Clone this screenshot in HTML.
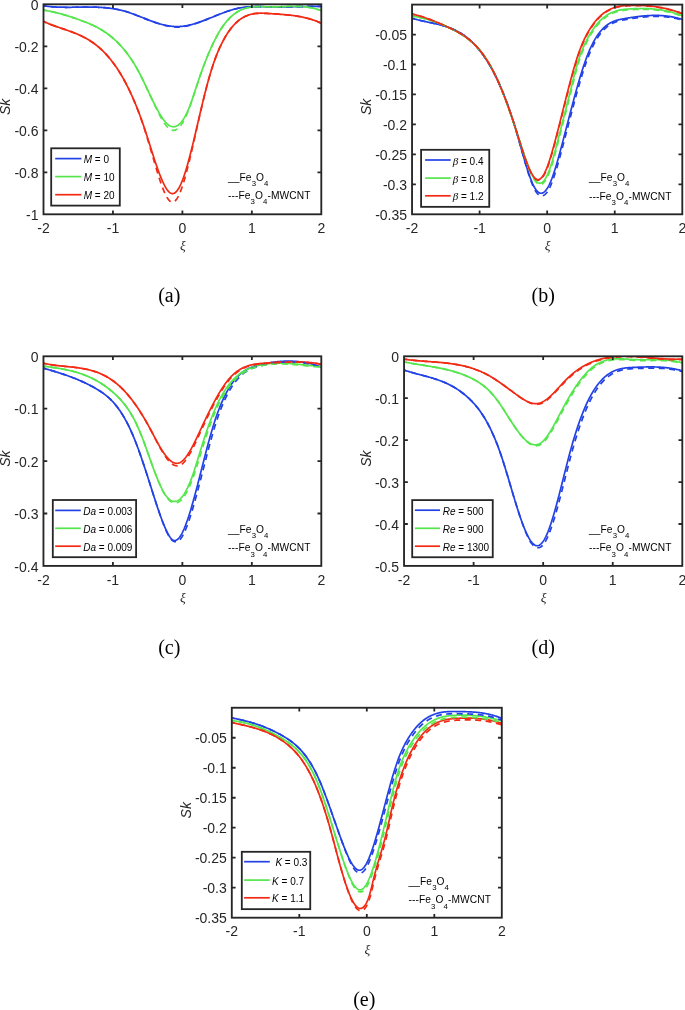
<!DOCTYPE html>
<html><head><meta charset="utf-8"><style>
html,body{margin:0;padding:0;background:#fff;}
body{width:685px;height:1010px;overflow:hidden;}
svg{display:block;will-change:transform;}
</style></head><body>
<svg width="685" height="1010" viewBox="0 0 685 1010">
<rect x="0" y="0" width="685" height="1010" fill="#fff"/>
<clipPath id="clipa"><rect x="43.50" y="4.30" width="277.80" height="210.00"/></clipPath>
<g clip-path="url(#clipa)" fill="none" stroke-width="1.7" stroke-linejoin="round">
<path d="M40.50,5.80 L41.17,5.80 L41.83,5.80 L42.50,5.80 L43.16,5.80 L43.83,5.85 L44.49,5.94 L45.16,6.03 L45.82,6.12 L46.49,6.20 L47.15,6.28 L47.82,6.36 L48.49,6.43 L49.15,6.50 L49.82,6.56 L50.48,6.63 L51.15,6.68 L51.81,6.74 L52.48,6.79 L53.14,6.84 L53.81,6.88 L54.48,6.93 L55.14,6.97 L55.81,7.00 L56.47,7.04 L57.14,7.07 L57.80,7.10 L58.47,7.13 L59.13,7.15 L59.80,7.17 L60.46,7.19 L61.13,7.21 L61.80,7.23 L62.46,7.24 L63.13,7.25 L63.79,7.26 L64.46,7.27 L65.12,7.28 L65.79,7.28 L66.45,7.29 L67.12,7.29 L67.79,7.29 L68.45,7.29 L69.12,7.29 L69.78,7.28 L70.45,7.28 L71.11,7.28 L71.78,7.27 L72.44,7.26 L73.11,7.26 L73.77,7.25 L74.44,7.24 L75.11,7.23 L75.77,7.23 L76.44,7.22 L77.10,7.21 L77.77,7.20 L78.43,7.19 L79.10,7.18 L79.76,7.17 L80.43,7.16 L81.10,7.15 L81.76,7.15 L82.43,7.14 L83.09,7.13 L83.76,7.12 L84.42,7.12 L85.09,7.11 L85.75,7.11 L86.42,7.11 L87.08,7.10 L87.75,7.10 L88.42,7.10 L89.08,7.10 L89.75,7.11 L90.41,7.11 L91.08,7.12 L91.74,7.12 L92.41,7.13 L93.07,7.14 L93.74,7.15 L94.40,7.17 L95.07,7.18 L95.74,7.20 L96.40,7.22 L97.07,7.25 L97.73,7.27 L98.40,7.30 L99.06,7.33 L99.73,7.36 L100.39,7.40 L101.06,7.43 L101.73,7.47 L102.39,7.52 L103.06,7.56 L103.72,7.61 L104.39,7.67 L105.05,7.72 L105.72,7.78 L106.38,7.84 L107.05,7.91 L107.71,7.98 L108.38,8.05 L109.05,8.13 L109.71,8.21 L110.38,8.29 L111.04,8.38 L111.71,8.47 L112.37,8.57 L113.04,8.67 L113.70,8.77 L114.37,8.88 L115.04,8.99 L115.70,9.11 L116.37,9.23 L117.03,9.36 L117.70,9.49 L118.36,9.63 L119.03,9.77 L119.69,9.92 L120.36,10.07 L121.02,10.22 L121.69,10.39 L122.36,10.55 L123.02,10.72 L123.69,10.90 L124.35,11.09 L125.02,11.27 L125.68,11.47 L126.35,11.67 L127.01,11.87 L127.68,12.08 L128.35,12.30 L129.01,12.52 L129.68,12.74 L130.34,12.97 L131.01,13.20 L131.67,13.44 L132.34,13.68 L133.00,13.92 L133.67,14.17 L134.33,14.42 L135.00,14.67 L135.67,14.92 L136.33,15.18 L137.00,15.43 L137.66,15.69 L138.33,15.96 L138.99,16.22 L139.66,16.48 L140.32,16.75 L140.99,17.01 L141.65,17.28 L142.32,17.54 L142.99,17.81 L143.65,18.07 L144.32,18.34 L144.98,18.60 L145.65,18.87 L146.31,19.13 L146.98,19.39 L147.64,19.65 L148.31,19.91 L148.98,20.17 L149.64,20.42 L150.31,20.67 L150.97,20.92 L151.64,21.17 L152.30,21.41 L152.97,21.65 L153.63,21.89 L154.30,22.12 L154.96,22.35 L155.63,22.57 L156.30,22.79 L156.96,23.01 L157.63,23.22 L158.29,23.43 L158.96,23.63 L159.62,23.82 L160.29,24.01 L160.95,24.20 L161.62,24.38 L162.29,24.55 L162.95,24.72 L163.62,24.88 L164.28,25.03 L164.95,25.18 L165.61,25.32 L166.28,25.46 L166.94,25.58 L167.61,25.70 L168.27,25.82 L168.94,25.92 L169.61,26.02 L170.27,26.11 L170.94,26.20 L171.60,26.27 L172.27,26.34 L172.93,26.40 L173.60,26.45 L174.26,26.49 L174.93,26.53 L175.60,26.55 L176.26,26.57 L176.93,26.58 L177.59,26.58 L178.26,26.56 L178.92,26.54 L179.59,26.51 L180.25,26.47 L180.92,26.43 L181.58,26.37 L182.25,26.30 L182.92,26.23 L183.58,26.14 L184.25,26.05 L184.91,25.95 L185.58,25.85 L186.24,25.73 L186.91,25.61 L187.57,25.48 L188.24,25.34 L188.90,25.20 L189.57,25.05 L190.24,24.89 L190.90,24.73 L191.57,24.56 L192.23,24.38 L192.90,24.20 L193.56,24.01 L194.23,23.82 L194.89,23.62 L195.56,23.42 L196.23,23.21 L196.89,22.99 L197.56,22.78 L198.22,22.55 L198.89,22.33 L199.55,22.10 L200.22,21.86 L200.88,21.62 L201.55,21.38 L202.21,21.14 L202.88,20.89 L203.55,20.64 L204.21,20.39 L204.88,20.13 L205.54,19.87 L206.21,19.61 L206.87,19.35 L207.54,19.09 L208.20,18.82 L208.87,18.56 L209.54,18.29 L210.20,18.02 L210.87,17.75 L211.53,17.48 L212.20,17.21 L212.86,16.94 L213.53,16.67 L214.19,16.39 L214.86,16.12 L215.52,15.85 L216.19,15.58 L216.86,15.32 L217.52,15.05 L218.19,14.78 L218.85,14.52 L219.52,14.25 L220.18,13.99 L220.85,13.73 L221.51,13.47 L222.18,13.22 L222.85,12.97 L223.51,12.72 L224.18,12.47 L224.84,12.22 L225.51,11.98 L226.17,11.75 L226.84,11.51 L227.50,11.28 L228.17,11.06 L228.83,10.84 L229.50,10.62 L230.17,10.41 L230.83,10.20 L231.50,10.00 L232.16,9.80 L232.83,9.61 L233.49,9.42 L234.16,9.24 L234.82,9.07 L235.49,8.90 L236.15,8.73 L236.82,8.58 L237.49,8.43 L238.15,8.29 L238.82,8.15 L239.48,8.02 L240.15,7.90 L240.81,7.79 L241.48,7.68 L242.14,7.58 L242.81,7.48 L243.48,7.39 L244.14,7.31 L244.81,7.23 L245.47,7.16 L246.14,7.09 L246.80,7.03 L247.47,6.98 L248.13,6.93 L248.80,6.88 L249.46,6.84 L250.13,6.80 L250.80,6.77 L251.46,6.74 L252.13,6.71 L252.79,6.69 L253.46,6.68 L254.12,6.66 L254.79,6.65 L255.45,6.64 L256.12,6.64 L256.79,6.63 L257.45,6.63 L258.12,6.63 L258.78,6.64 L259.45,6.64 L260.11,6.65 L260.78,6.66 L261.44,6.67 L262.11,6.68 L262.77,6.70 L263.44,6.71 L264.11,6.73 L264.77,6.74 L265.44,6.76 L266.10,6.77 L266.77,6.79 L267.43,6.80 L268.10,6.82 L268.76,6.83 L269.43,6.85 L270.10,6.86 L270.76,6.87 L271.43,6.89 L272.09,6.90 L272.76,6.90 L273.42,6.91 L274.09,6.92 L274.75,6.92 L275.42,6.93 L276.08,6.93 L276.75,6.93 L277.42,6.94 L278.08,6.94 L278.75,6.94 L279.41,6.93 L280.08,6.93 L280.74,6.93 L281.41,6.93 L282.07,6.92 L282.74,6.92 L283.40,6.91 L284.07,6.90 L284.74,6.90 L285.40,6.89 L286.07,6.88 L286.73,6.87 L287.40,6.86 L288.06,6.85 L288.73,6.84 L289.39,6.83 L290.06,6.82 L290.73,6.81 L291.39,6.80 L292.06,6.79 L292.72,6.77 L293.39,6.76 L294.05,6.75 L294.72,6.73 L295.38,6.72 L296.05,6.71 L296.71,6.69 L297.38,6.68 L298.05,6.66 L298.71,6.65 L299.38,6.63 L300.04,6.62 L300.71,6.61 L301.37,6.59 L302.04,6.58 L302.70,6.56 L303.37,6.55 L304.04,6.54 L304.70,6.52 L305.37,6.51 L306.03,6.50 L306.70,6.48 L307.36,6.47 L308.03,6.46 L308.69,6.45 L309.36,6.43 L310.02,6.42 L310.69,6.41 L311.36,6.40 L312.02,6.39 L312.69,6.38 L313.35,6.37 L314.02,6.37 L314.68,6.36 L315.35,6.35 L316.01,6.35 L316.68,6.34 L317.35,6.33 L318.01,6.33 L318.68,6.33 L319.34,6.32 L320.01,6.32 L320.67,6.32 L321.34,6.32 L322.00,6.32 L322.67,6.32 L323.33,6.32 L324.00,6.32" stroke="#2342e6"/>
<path d="M40.50,10.08 L41.17,10.08 L41.83,10.08 L42.50,10.08 L43.16,10.08 L43.83,10.14 L44.49,10.25 L45.16,10.36 L45.82,10.48 L46.49,10.60 L47.15,10.72 L47.82,10.85 L48.49,10.98 L49.15,11.11 L49.82,11.25 L50.48,11.39 L51.15,11.53 L51.81,11.67 L52.48,11.82 L53.14,11.97 L53.81,12.12 L54.48,12.28 L55.14,12.44 L55.81,12.60 L56.47,12.76 L57.14,12.93 L57.80,13.10 L58.47,13.27 L59.13,13.44 L59.80,13.62 L60.46,13.80 L61.13,13.98 L61.80,14.17 L62.46,14.35 L63.13,14.54 L63.79,14.73 L64.46,14.93 L65.12,15.12 L65.79,15.32 L66.45,15.52 L67.12,15.73 L67.79,15.93 L68.45,16.14 L69.12,16.35 L69.78,16.56 L70.45,16.77 L71.11,16.99 L71.78,17.20 L72.44,17.42 L73.11,17.64 L73.77,17.87 L74.44,18.09 L75.11,18.32 L75.77,18.55 L76.44,18.78 L77.10,19.01 L77.77,19.24 L78.43,19.48 L79.10,19.72 L79.76,19.96 L80.43,20.20 L81.10,20.44 L81.76,20.68 L82.43,20.93 L83.09,21.18 L83.76,21.43 L84.42,21.69 L85.09,21.94 L85.75,22.21 L86.42,22.47 L87.08,22.74 L87.75,23.01 L88.42,23.29 L89.08,23.57 L89.75,23.85 L90.41,24.14 L91.08,24.44 L91.74,24.74 L92.41,25.04 L93.07,25.35 L93.74,25.67 L94.40,25.99 L95.07,26.32 L95.74,26.66 L96.40,27.00 L97.07,27.35 L97.73,27.70 L98.40,28.06 L99.06,28.43 L99.73,28.81 L100.39,29.19 L101.06,29.59 L101.73,29.99 L102.39,30.39 L103.06,30.81 L103.72,31.24 L104.39,31.67 L105.05,32.12 L105.72,32.57 L106.38,33.03 L107.05,33.51 L107.71,33.99 L108.38,34.48 L109.05,34.98 L109.71,35.50 L110.38,36.02 L111.04,36.56 L111.71,37.10 L112.37,37.66 L113.04,38.23 L113.70,38.81 L114.37,39.40 L115.04,40.01 L115.70,40.62 L116.37,41.25 L117.03,41.89 L117.70,42.55 L118.36,43.22 L119.03,43.90 L119.69,44.60 L120.36,45.31 L121.02,46.03 L121.69,46.77 L122.36,47.53 L123.02,48.30 L123.69,49.08 L124.35,49.89 L125.02,50.70 L125.68,51.54 L126.35,52.39 L127.01,53.26 L127.68,54.15 L128.35,55.06 L129.01,55.98 L129.68,56.92 L130.34,57.89 L131.01,58.87 L131.67,59.87 L132.34,60.89 L133.00,61.93 L133.67,62.99 L134.33,64.07 L135.00,65.18 L135.67,66.30 L136.33,67.45 L137.00,68.62 L137.66,69.81 L138.33,71.02 L138.99,72.26 L139.66,73.52 L140.32,74.80 L140.99,76.11 L141.65,77.43 L142.32,78.77 L142.99,80.13 L143.65,81.50 L144.32,82.89 L144.98,84.28 L145.65,85.68 L146.31,87.09 L146.98,88.50 L147.64,89.92 L148.31,91.33 L148.98,92.75 L149.64,94.16 L150.31,95.57 L150.97,96.97 L151.64,98.36 L152.30,99.74 L152.97,101.11 L153.63,102.46 L154.30,103.80 L154.96,105.12 L155.63,106.42 L156.30,107.70 L156.96,108.96 L157.63,110.19 L158.29,111.39 L158.96,112.57 L159.62,113.71 L160.29,114.82 L160.95,115.89 L161.62,116.93 L162.29,117.92 L162.95,118.88 L163.62,119.79 L164.28,120.65 L164.95,121.47 L165.61,122.23 L166.28,122.94 L166.94,123.60 L167.61,124.20 L168.27,124.74 L168.94,125.22 L169.61,125.64 L170.27,125.99 L170.94,126.27 L171.60,126.49 L172.27,126.64 L172.93,126.72 L173.60,126.74 L174.26,126.69 L174.93,126.57 L175.60,126.39 L176.26,126.14 L176.93,125.82 L177.59,125.44 L178.26,124.99 L178.92,124.47 L179.59,123.89 L180.25,123.24 L180.92,122.51 L181.58,121.72 L182.25,120.86 L182.92,119.92 L183.58,118.92 L184.25,117.84 L184.91,116.69 L185.58,115.47 L186.24,114.17 L186.91,112.80 L187.57,111.36 L188.24,109.84 L188.90,108.25 L189.57,106.58 L190.24,104.84 L190.90,103.03 L191.57,101.17 L192.23,99.26 L192.90,97.31 L193.56,95.33 L194.23,93.32 L194.89,91.30 L195.56,89.27 L196.23,87.25 L196.89,85.22 L197.56,83.22 L198.22,81.24 L198.89,79.28 L199.55,77.34 L200.22,75.43 L200.88,73.54 L201.55,71.68 L202.21,69.84 L202.88,68.02 L203.55,66.23 L204.21,64.47 L204.88,62.73 L205.54,61.02 L206.21,59.33 L206.87,57.67 L207.54,56.04 L208.20,54.43 L208.87,52.85 L209.54,51.29 L210.20,49.77 L210.87,48.27 L211.53,46.80 L212.20,45.35 L212.86,43.94 L213.53,42.55 L214.19,41.19 L214.86,39.87 L215.52,38.57 L216.19,37.29 L216.86,36.05 L217.52,34.84 L218.19,33.66 L218.85,32.51 L219.52,31.39 L220.18,30.30 L220.85,29.24 L221.51,28.21 L222.18,27.21 L222.85,26.25 L223.51,25.31 L224.18,24.40 L224.84,23.53 L225.51,22.68 L226.17,21.86 L226.84,21.06 L227.50,20.30 L228.17,19.56 L228.83,18.85 L229.50,18.16 L230.17,17.50 L230.83,16.87 L231.50,16.26 L232.16,15.67 L232.83,15.11 L233.49,14.57 L234.16,14.05 L234.82,13.56 L235.49,13.08 L236.15,12.63 L236.82,12.20 L237.49,11.79 L238.15,11.40 L238.82,11.03 L239.48,10.68 L240.15,10.34 L240.81,10.03 L241.48,9.73 L242.14,9.45 L242.81,9.18 L243.48,8.93 L244.14,8.70 L244.81,8.48 L245.47,8.28 L246.14,8.09 L246.80,7.92 L247.47,7.76 L248.13,7.61 L248.80,7.47 L249.46,7.35 L250.13,7.23 L250.80,7.13 L251.46,7.04 L252.13,6.96 L252.79,6.89 L253.46,6.83 L254.12,6.77 L254.79,6.73 L255.45,6.69 L256.12,6.66 L256.79,6.63 L257.45,6.62 L258.12,6.60 L258.78,6.60 L259.45,6.60 L260.11,6.60 L260.78,6.61 L261.44,6.62 L262.11,6.63 L262.77,6.65 L263.44,6.66 L264.11,6.68 L264.77,6.70 L265.44,6.73 L266.10,6.75 L266.77,6.77 L267.43,6.79 L268.10,6.81 L268.76,6.83 L269.43,6.84 L270.10,6.86 L270.76,6.87 L271.43,6.87 L272.09,6.88 L272.76,6.88 L273.42,6.87 L274.09,6.87 L274.75,6.86 L275.42,6.85 L276.08,6.84 L276.75,6.82 L277.42,6.81 L278.08,6.79 L278.75,6.77 L279.41,6.75 L280.08,6.73 L280.74,6.70 L281.41,6.68 L282.07,6.66 L282.74,6.63 L283.40,6.61 L284.07,6.58 L284.74,6.56 L285.40,6.54 L286.07,6.51 L286.73,6.49 L287.40,6.47 L288.06,6.45 L288.73,6.43 L289.39,6.41 L290.06,6.39 L290.73,6.38 L291.39,6.36 L292.06,6.35 L292.72,6.34 L293.39,6.34 L294.05,6.33 L294.72,6.33 L295.38,6.34 L296.05,6.34 L296.71,6.35 L297.38,6.37 L298.05,6.38 L298.71,6.40 L299.38,6.43 L300.04,6.46 L300.71,6.49 L301.37,6.53 L302.04,6.57 L302.70,6.62 L303.37,6.67 L304.04,6.73 L304.70,6.80 L305.37,6.87 L306.03,6.94 L306.70,7.03 L307.36,7.12 L308.03,7.21 L308.69,7.31 L309.36,7.42 L310.02,7.54 L310.69,7.66 L311.36,7.79 L312.02,7.93 L312.69,8.08 L313.35,8.23 L314.02,8.39 L314.68,8.56 L315.35,8.74 L316.01,8.93 L316.68,9.12 L317.35,9.33 L318.01,9.54 L318.68,9.77 L319.34,10.00 L320.01,10.25 L320.67,10.50 L321.34,10.63 L322.00,10.63 L322.67,10.63 L323.33,10.63 L324.00,10.63" stroke="#55e64c"/>
<path d="M40.50,21.41 L41.17,21.41 L41.83,21.41 L42.50,21.41 L43.16,21.41 L43.83,21.56 L44.49,21.87 L45.16,22.17 L45.82,22.47 L46.49,22.76 L47.15,23.05 L47.82,23.33 L48.49,23.60 L49.15,23.88 L49.82,24.14 L50.48,24.41 L51.15,24.66 L51.81,24.92 L52.48,25.17 L53.14,25.42 L53.81,25.66 L54.48,25.90 L55.14,26.14 L55.81,26.38 L56.47,26.61 L57.14,26.85 L57.80,27.08 L58.47,27.31 L59.13,27.53 L59.80,27.76 L60.46,27.99 L61.13,28.21 L61.80,28.44 L62.46,28.66 L63.13,28.89 L63.79,29.11 L64.46,29.34 L65.12,29.56 L65.79,29.79 L66.45,30.02 L67.12,30.25 L67.79,30.48 L68.45,30.72 L69.12,30.95 L69.78,31.19 L70.45,31.43 L71.11,31.67 L71.78,31.92 L72.44,32.17 L73.11,32.42 L73.77,32.68 L74.44,32.94 L75.11,33.21 L75.77,33.48 L76.44,33.75 L77.10,34.03 L77.77,34.31 L78.43,34.60 L79.10,34.90 L79.76,35.20 L80.43,35.51 L81.10,35.82 L81.76,36.14 L82.43,36.46 L83.09,36.80 L83.76,37.14 L84.42,37.49 L85.09,37.84 L85.75,38.20 L86.42,38.57 L87.08,38.95 L87.75,39.34 L88.42,39.74 L89.08,40.14 L89.75,40.56 L90.41,40.98 L91.08,41.42 L91.74,41.86 L92.41,42.32 L93.07,42.78 L93.74,43.26 L94.40,43.74 L95.07,44.24 L95.74,44.75 L96.40,45.27 L97.07,45.80 L97.73,46.34 L98.40,46.89 L99.06,47.46 L99.73,48.04 L100.39,48.64 L101.06,49.24 L101.73,49.86 L102.39,50.50 L103.06,51.14 L103.72,51.80 L104.39,52.48 L105.05,53.17 L105.72,53.87 L106.38,54.59 L107.05,55.33 L107.71,56.08 L108.38,56.84 L109.05,57.62 L109.71,58.42 L110.38,59.23 L111.04,60.06 L111.71,60.91 L112.37,61.77 L113.04,62.65 L113.70,63.55 L114.37,64.47 L115.04,65.40 L115.70,66.36 L116.37,67.33 L117.03,68.31 L117.70,69.32 L118.36,70.35 L119.03,71.39 L119.69,72.46 L120.36,73.55 L121.02,74.65 L121.69,75.78 L122.36,76.92 L123.02,78.09 L123.69,79.28 L124.35,80.48 L125.02,81.71 L125.68,82.96 L126.35,84.24 L127.01,85.53 L127.68,86.85 L128.35,88.19 L129.01,89.55 L129.68,90.94 L130.34,92.35 L131.01,93.78 L131.67,95.23 L132.34,96.71 L133.00,98.22 L133.67,99.75 L134.33,101.31 L135.00,102.89 L135.67,104.49 L136.33,106.12 L137.00,107.78 L137.66,109.47 L138.33,111.18 L138.99,112.92 L139.66,114.69 L140.32,116.48 L140.99,118.31 L141.65,120.16 L142.32,122.04 L142.99,123.95 L143.65,125.88 L144.32,127.85 L144.98,129.85 L145.65,131.87 L146.31,133.92 L146.98,135.98 L147.64,138.06 L148.31,140.15 L148.98,142.25 L149.64,144.36 L150.31,146.46 L150.97,148.57 L151.64,150.67 L152.30,152.76 L152.97,154.84 L153.63,156.90 L154.30,158.94 L154.96,160.97 L155.63,162.96 L156.30,164.93 L156.96,166.86 L157.63,168.76 L158.29,170.62 L158.96,172.43 L159.62,174.20 L160.29,175.92 L160.95,177.58 L161.62,179.19 L162.29,180.73 L162.95,182.21 L163.62,183.62 L164.28,184.95 L164.95,186.21 L165.61,187.38 L166.28,188.47 L166.94,189.46 L167.61,190.36 L168.27,191.16 L168.94,191.86 L169.61,192.44 L170.27,192.92 L170.94,193.27 L171.60,193.51 L172.27,193.62 L172.93,193.60 L173.60,193.46 L174.26,193.20 L174.93,192.81 L175.60,192.30 L176.26,191.67 L176.93,190.92 L177.59,190.05 L178.26,189.07 L178.92,187.97 L179.59,186.75 L180.25,185.42 L180.92,183.99 L181.58,182.44 L182.25,180.79 L182.92,179.04 L183.58,177.20 L184.25,175.27 L184.91,173.26 L185.58,171.16 L186.24,168.98 L186.91,166.73 L187.57,164.41 L188.24,162.03 L188.90,159.58 L189.57,157.08 L190.24,154.53 L190.90,151.93 L191.57,149.28 L192.23,146.60 L192.90,143.88 L193.56,141.13 L194.23,138.35 L194.89,135.54 L195.56,132.72 L196.23,129.89 L196.89,127.04 L197.56,124.19 L198.22,121.33 L198.89,118.48 L199.55,115.63 L200.22,112.80 L200.88,109.98 L201.55,107.18 L202.21,104.40 L202.88,101.64 L203.55,98.92 L204.21,96.23 L204.88,93.57 L205.54,90.95 L206.21,88.37 L206.87,85.83 L207.54,83.35 L208.20,80.91 L208.87,78.52 L209.54,76.19 L210.20,73.91 L210.87,71.70 L211.53,69.55 L212.20,67.46 L212.86,65.43 L213.53,63.46 L214.19,61.54 L214.86,59.69 L215.52,57.88 L216.19,56.13 L216.86,54.43 L217.52,52.79 L218.19,51.19 L218.85,49.64 L219.52,48.14 L220.18,46.68 L220.85,45.27 L221.51,43.90 L222.18,42.57 L222.85,41.28 L223.51,40.04 L224.18,38.83 L224.84,37.65 L225.51,36.51 L226.17,35.41 L226.84,34.34 L227.50,33.31 L228.17,32.31 L228.83,31.34 L229.50,30.40 L230.17,29.50 L230.83,28.63 L231.50,27.78 L232.16,26.97 L232.83,26.19 L233.49,25.43 L234.16,24.71 L234.82,24.01 L235.49,23.34 L236.15,22.70 L236.82,22.09 L237.49,21.50 L238.15,20.93 L238.82,20.40 L239.48,19.88 L240.15,19.39 L240.81,18.92 L241.48,18.48 L242.14,18.06 L242.81,17.66 L243.48,17.28 L244.14,16.92 L244.81,16.58 L245.47,16.27 L246.14,15.97 L246.80,15.69 L247.47,15.43 L248.13,15.18 L248.80,14.96 L249.46,14.75 L250.13,14.55 L250.80,14.37 L251.46,14.21 L252.13,14.06 L252.79,13.93 L253.46,13.81 L254.12,13.70 L254.79,13.60 L255.45,13.52 L256.12,13.44 L256.79,13.38 L257.45,13.33 L258.12,13.29 L258.78,13.26 L259.45,13.23 L260.11,13.22 L260.78,13.21 L261.44,13.21 L262.11,13.22 L262.77,13.23 L263.44,13.25 L264.11,13.27 L264.77,13.30 L265.44,13.33 L266.10,13.37 L266.77,13.41 L267.43,13.45 L268.10,13.49 L268.76,13.53 L269.43,13.58 L270.10,13.63 L270.76,13.67 L271.43,13.72 L272.09,13.76 L272.76,13.81 L273.42,13.85 L274.09,13.90 L274.75,13.94 L275.42,13.98 L276.08,14.03 L276.75,14.07 L277.42,14.12 L278.08,14.16 L278.75,14.21 L279.41,14.26 L280.08,14.31 L280.74,14.35 L281.41,14.40 L282.07,14.45 L282.74,14.51 L283.40,14.56 L284.07,14.61 L284.74,14.67 L285.40,14.73 L286.07,14.79 L286.73,14.85 L287.40,14.91 L288.06,14.98 L288.73,15.05 L289.39,15.12 L290.06,15.19 L290.73,15.27 L291.39,15.35 L292.06,15.43 L292.72,15.51 L293.39,15.60 L294.05,15.69 L294.72,15.78 L295.38,15.87 L296.05,15.97 L296.71,16.08 L297.38,16.18 L298.05,16.29 L298.71,16.41 L299.38,16.52 L300.04,16.65 L300.71,16.77 L301.37,16.90 L302.04,17.04 L302.70,17.18 L303.37,17.32 L304.04,17.47 L304.70,17.62 L305.37,17.78 L306.03,17.94 L306.70,18.11 L307.36,18.28 L308.03,18.46 L308.69,18.64 L309.36,18.83 L310.02,19.03 L310.69,19.23 L311.36,19.43 L312.02,19.65 L312.69,19.86 L313.35,20.09 L314.02,20.32 L314.68,20.56 L315.35,20.80 L316.01,21.05 L316.68,21.31 L317.35,21.57 L318.01,21.84 L318.68,22.12 L319.34,22.40 L320.01,22.69 L320.67,22.99 L321.34,23.14 L322.00,23.14 L322.67,23.14 L323.33,23.14 L324.00,23.14" stroke="#f22a14"/>
<path d="M40.50,5.80 L41.17,5.80 L41.83,5.80 L42.50,5.80 L43.16,5.80 L43.83,5.85 L44.49,5.94 L45.16,6.03 L45.82,6.12 L46.49,6.20 L47.15,6.28 L47.82,6.36 L48.49,6.43 L49.15,6.50 L49.82,6.56 L50.48,6.63 L51.15,6.68 L51.81,6.74 L52.48,6.79 L53.14,6.84 L53.81,6.88 L54.48,6.93 L55.14,6.97 L55.81,7.00 L56.47,7.04 L57.14,7.07 L57.80,7.10 L58.47,7.13 L59.13,7.15 L59.80,7.17 L60.46,7.19 L61.13,7.21 L61.80,7.23 L62.46,7.24 L63.13,7.25 L63.79,7.26 L64.46,7.27 L65.12,7.28 L65.79,7.28 L66.45,7.29 L67.12,7.29 L67.79,7.29 L68.45,7.29 L69.12,7.29 L69.78,7.28 L70.45,7.28 L71.11,7.28 L71.78,7.27 L72.44,7.26 L73.11,7.26 L73.77,7.25 L74.44,7.24 L75.11,7.23 L75.77,7.23 L76.44,7.22 L77.10,7.21 L77.77,7.20 L78.43,7.19 L79.10,7.18 L79.76,7.17 L80.43,7.16 L81.10,7.15 L81.76,7.15 L82.43,7.14 L83.09,7.13 L83.76,7.12 L84.42,7.12 L85.09,7.11 L85.75,7.11 L86.42,7.11 L87.08,7.10 L87.75,7.10 L88.42,7.10 L89.08,7.10 L89.75,7.11 L90.41,7.11 L91.08,7.12 L91.74,7.12 L92.41,7.13 L93.07,7.14 L93.74,7.15 L94.40,7.17 L95.07,7.18 L95.74,7.20 L96.40,7.22 L97.07,7.25 L97.73,7.27 L98.40,7.30 L99.06,7.33 L99.73,7.36 L100.39,7.40 L101.06,7.43 L101.73,7.47 L102.39,7.52 L103.06,7.56 L103.72,7.61 L104.39,7.67 L105.05,7.72 L105.72,7.78 L106.38,7.84 L107.05,7.91 L107.71,7.98 L108.38,8.05 L109.05,8.13 L109.71,8.21 L110.38,8.29 L111.04,8.38 L111.71,8.47 L112.37,8.57 L113.04,8.67 L113.70,8.77 L114.37,8.88 L115.04,8.99 L115.70,9.11 L116.37,9.23 L117.03,9.36 L117.70,9.49 L118.36,9.63 L119.03,9.77 L119.69,9.92 L120.36,10.07 L121.02,10.22 L121.69,10.39 L122.36,10.55 L123.02,10.72 L123.69,10.90 L124.35,11.09 L125.02,11.27 L125.68,11.47 L126.35,11.67 L127.01,11.87 L127.68,12.08 L128.35,12.30 L129.01,12.52 L129.68,12.74 L130.34,12.97 L131.01,13.20 L131.67,13.44 L132.34,13.68 L133.00,13.92 L133.67,14.17 L134.33,14.42 L135.00,14.67 L135.67,14.92 L136.33,15.18 L137.00,15.43 L137.66,15.69 L138.33,15.96 L138.99,16.22 L139.66,16.48 L140.32,16.75 L140.99,17.01 L141.65,17.28 L142.32,17.54 L142.99,17.81 L143.65,18.08 L144.32,18.34 L144.98,18.61 L145.65,18.87 L146.31,19.13 L146.98,19.40 L147.64,19.66 L148.31,19.92 L148.98,20.18 L149.64,20.43 L150.31,20.69 L150.97,20.94 L151.64,21.19 L152.30,21.43 L152.97,21.68 L153.63,21.92 L154.30,22.15 L154.96,22.39 L155.63,22.62 L156.30,22.85 L156.96,23.07 L157.63,23.29 L158.29,23.50 L158.96,23.72 L159.62,23.92 L160.29,24.12 L160.95,24.32 L161.62,24.51 L162.29,24.70 L162.95,24.88 L163.62,25.06 L164.28,25.23 L164.95,25.39 L165.61,25.55 L166.28,25.71 L166.94,25.85 L167.61,25.99 L168.27,26.13 L168.94,26.25 L169.61,26.37 L170.27,26.48 L170.94,26.58 L171.60,26.67 L172.27,26.76 L172.93,26.83 L173.60,26.90 L174.26,26.95 L174.93,27.00 L175.60,27.03 L176.26,27.06 L176.93,27.07 L177.59,27.07 L178.26,27.06 L178.92,27.04 L179.59,27.01 L180.25,26.97 L180.92,26.92 L181.58,26.85 L182.25,26.78 L182.92,26.69 L183.58,26.59 L184.25,26.49 L184.91,26.38 L185.58,26.25 L186.24,26.12 L186.91,25.98 L187.57,25.83 L188.24,25.68 L188.90,25.51 L189.57,25.34 L190.24,25.17 L190.90,24.98 L191.57,24.80 L192.23,24.60 L192.90,24.40 L193.56,24.20 L194.23,23.99 L194.89,23.77 L195.56,23.56 L196.23,23.33 L196.89,23.11 L197.56,22.88 L198.22,22.65 L198.89,22.41 L199.55,22.17 L200.22,21.93 L200.88,21.68 L201.55,21.43 L202.21,21.18 L202.88,20.93 L203.55,20.67 L204.21,20.42 L204.88,20.16 L205.54,19.89 L206.21,19.63 L206.87,19.37 L207.54,19.10 L208.20,18.83 L208.87,18.56 L209.54,18.30 L210.20,18.03 L210.87,17.75 L211.53,17.48 L212.20,17.21 L212.86,16.94 L213.53,16.67 L214.19,16.40 L214.86,16.13 L215.52,15.85 L216.19,15.58 L216.86,15.32 L217.52,15.05 L218.19,14.78 L218.85,14.52 L219.52,14.25 L220.18,13.99 L220.85,13.73 L221.51,13.47 L222.18,13.22 L222.85,12.97 L223.51,12.72 L224.18,12.47 L224.84,12.22 L225.51,11.98 L226.17,11.75 L226.84,11.51 L227.50,11.28 L228.17,11.06 L228.83,10.84 L229.50,10.62 L230.17,10.41 L230.83,10.20 L231.50,10.00 L232.16,9.80 L232.83,9.61 L233.49,9.42 L234.16,9.24 L234.82,9.07 L235.49,8.90 L236.15,8.73 L236.82,8.58 L237.49,8.43 L238.15,8.29 L238.82,8.15 L239.48,8.02 L240.15,7.90 L240.81,7.79 L241.48,7.68 L242.14,7.58 L242.81,7.48 L243.48,7.39 L244.14,7.31 L244.81,7.23 L245.47,7.16 L246.14,7.09 L246.80,7.03 L247.47,6.98 L248.13,6.93 L248.80,6.88 L249.46,6.84 L250.13,6.80 L250.80,6.77 L251.46,6.74 L252.13,6.71 L252.79,6.69 L253.46,6.68 L254.12,6.66 L254.79,6.65 L255.45,6.64 L256.12,6.64 L256.79,6.63 L257.45,6.63 L258.12,6.63 L258.78,6.64 L259.45,6.64 L260.11,6.65 L260.78,6.66 L261.44,6.67 L262.11,6.68 L262.77,6.70 L263.44,6.71 L264.11,6.73 L264.77,6.74 L265.44,6.76 L266.10,6.77 L266.77,6.79 L267.43,6.80 L268.10,6.82 L268.76,6.83 L269.43,6.85 L270.10,6.86 L270.76,6.87 L271.43,6.89 L272.09,6.90 L272.76,6.90 L273.42,6.91 L274.09,6.92 L274.75,6.92 L275.42,6.93 L276.08,6.93 L276.75,6.93 L277.42,6.94 L278.08,6.94 L278.75,6.94 L279.41,6.93 L280.08,6.93 L280.74,6.93 L281.41,6.93 L282.07,6.92 L282.74,6.92 L283.40,6.91 L284.07,6.90 L284.74,6.90 L285.40,6.89 L286.07,6.88 L286.73,6.87 L287.40,6.86 L288.06,6.85 L288.73,6.84 L289.39,6.83 L290.06,6.82 L290.73,6.81 L291.39,6.80 L292.06,6.79 L292.72,6.77 L293.39,6.76 L294.05,6.75 L294.72,6.73 L295.38,6.72 L296.05,6.71 L296.71,6.69 L297.38,6.68 L298.05,6.66 L298.71,6.65 L299.38,6.63 L300.04,6.62 L300.71,6.61 L301.37,6.59 L302.04,6.58 L302.70,6.56 L303.37,6.55 L304.04,6.54 L304.70,6.52 L305.37,6.51 L306.03,6.50 L306.70,6.48 L307.36,6.47 L308.03,6.46 L308.69,6.45 L309.36,6.43 L310.02,6.42 L310.69,6.41 L311.36,6.40 L312.02,6.39 L312.69,6.38 L313.35,6.37 L314.02,6.37 L314.68,6.36 L315.35,6.35 L316.01,6.35 L316.68,6.34 L317.35,6.33 L318.01,6.33 L318.68,6.33 L319.34,6.32 L320.01,6.32 L320.67,6.32 L321.34,6.32 L322.00,6.32 L322.67,6.32 L323.33,6.32 L324.00,6.32" stroke="#2342e6" stroke-dasharray="6 4.5"/>
<path d="M40.50,10.08 L41.17,10.08 L41.83,10.08 L42.50,10.08 L43.16,10.08 L43.83,10.14 L44.49,10.25 L45.16,10.36 L45.82,10.48 L46.49,10.60 L47.15,10.72 L47.82,10.85 L48.49,10.98 L49.15,11.11 L49.82,11.25 L50.48,11.39 L51.15,11.53 L51.81,11.67 L52.48,11.82 L53.14,11.97 L53.81,12.12 L54.48,12.28 L55.14,12.44 L55.81,12.60 L56.47,12.76 L57.14,12.93 L57.80,13.10 L58.47,13.27 L59.13,13.44 L59.80,13.62 L60.46,13.80 L61.13,13.98 L61.80,14.17 L62.46,14.35 L63.13,14.54 L63.79,14.73 L64.46,14.93 L65.12,15.12 L65.79,15.32 L66.45,15.52 L67.12,15.73 L67.79,15.93 L68.45,16.14 L69.12,16.35 L69.78,16.56 L70.45,16.77 L71.11,16.99 L71.78,17.20 L72.44,17.42 L73.11,17.64 L73.77,17.87 L74.44,18.09 L75.11,18.32 L75.77,18.55 L76.44,18.78 L77.10,19.01 L77.77,19.24 L78.43,19.48 L79.10,19.72 L79.76,19.96 L80.43,20.20 L81.10,20.44 L81.76,20.68 L82.43,20.93 L83.09,21.18 L83.76,21.43 L84.42,21.69 L85.09,21.94 L85.75,22.21 L86.42,22.47 L87.08,22.74 L87.75,23.01 L88.42,23.29 L89.08,23.57 L89.75,23.85 L90.41,24.14 L91.08,24.44 L91.74,24.74 L92.41,25.04 L93.07,25.35 L93.74,25.67 L94.40,25.99 L95.07,26.32 L95.74,26.66 L96.40,27.00 L97.07,27.35 L97.73,27.70 L98.40,28.06 L99.06,28.43 L99.73,28.81 L100.39,29.19 L101.06,29.59 L101.73,29.99 L102.39,30.39 L103.06,30.81 L103.72,31.24 L104.39,31.67 L105.05,32.12 L105.72,32.57 L106.38,33.03 L107.05,33.51 L107.71,33.99 L108.38,34.48 L109.05,34.98 L109.71,35.50 L110.38,36.02 L111.04,36.56 L111.71,37.10 L112.37,37.66 L113.04,38.23 L113.70,38.81 L114.37,39.40 L115.04,40.01 L115.70,40.62 L116.37,41.25 L117.03,41.89 L117.70,42.55 L118.36,43.22 L119.03,43.90 L119.69,44.60 L120.36,45.31 L121.02,46.03 L121.69,46.77 L122.36,47.53 L123.02,48.30 L123.69,49.08 L124.35,49.89 L125.02,50.70 L125.68,51.54 L126.35,52.39 L127.01,53.26 L127.68,54.15 L128.35,55.06 L129.01,55.98 L129.68,56.92 L130.34,57.89 L131.01,58.87 L131.67,59.87 L132.34,60.89 L133.00,61.93 L133.67,62.99 L134.33,64.07 L135.00,65.18 L135.67,66.30 L136.33,67.45 L137.00,68.62 L137.66,69.81 L138.33,71.03 L138.99,72.27 L139.66,73.53 L140.32,74.82 L140.99,76.12 L141.65,77.45 L142.32,78.80 L142.99,80.16 L143.65,81.54 L144.32,82.93 L144.98,84.34 L145.65,85.75 L146.31,87.17 L146.98,88.60 L147.64,90.04 L148.31,91.47 L148.98,92.91 L149.64,94.36 L150.31,95.80 L150.97,97.24 L151.64,98.67 L152.30,100.10 L152.97,101.53 L153.63,102.94 L154.30,104.35 L154.96,105.75 L155.63,107.13 L156.30,108.50 L156.96,109.85 L157.63,111.18 L158.29,112.50 L158.96,113.79 L159.62,115.06 L160.29,116.30 L160.95,117.50 L161.62,118.68 L162.29,119.82 L162.95,120.92 L163.62,121.97 L164.28,122.98 L164.95,123.94 L165.61,124.85 L166.28,125.70 L166.94,126.49 L167.61,127.22 L168.27,127.87 L168.94,128.46 L169.61,128.97 L170.27,129.40 L170.94,129.75 L171.60,130.02 L172.27,130.21 L172.93,130.32 L173.60,130.34 L174.26,130.28 L174.93,130.14 L175.60,129.91 L176.26,129.60 L176.93,129.22 L177.59,128.75 L178.26,128.20 L178.92,127.57 L179.59,126.87 L180.25,126.09 L180.92,125.23 L181.58,124.30 L182.25,123.29 L182.92,122.21 L183.58,121.06 L184.25,119.84 L184.91,118.54 L185.58,117.18 L186.24,115.75 L186.91,114.24 L187.57,112.67 L188.24,111.03 L188.90,109.32 L189.57,107.54 L190.24,105.70 L190.90,103.80 L191.57,101.85 L192.23,99.86 L192.90,97.84 L193.56,95.79 L194.23,93.73 L194.89,91.65 L195.56,89.58 L196.23,87.50 L196.89,85.45 L197.56,83.41 L198.22,81.40 L198.89,79.41 L199.55,77.45 L200.22,75.52 L200.88,73.62 L201.55,71.74 L202.21,69.89 L202.88,68.07 L203.55,66.27 L204.21,64.50 L204.88,62.76 L205.54,61.04 L206.21,59.35 L206.87,57.68 L207.54,56.05 L208.20,54.44 L208.87,52.85 L209.54,51.30 L210.20,49.77 L210.87,48.27 L211.53,46.80 L212.20,45.36 L212.86,43.94 L213.53,42.55 L214.19,41.20 L214.86,39.87 L215.52,38.57 L216.19,37.29 L216.86,36.05 L217.52,34.84 L218.19,33.66 L218.85,32.51 L219.52,31.39 L220.18,30.30 L220.85,29.24 L221.51,28.21 L222.18,27.21 L222.85,26.25 L223.51,25.31 L224.18,24.40 L224.84,23.53 L225.51,22.68 L226.17,21.86 L226.84,21.06 L227.50,20.30 L228.17,19.56 L228.83,18.85 L229.50,18.16 L230.17,17.50 L230.83,16.87 L231.50,16.26 L232.16,15.67 L232.83,15.11 L233.49,14.57 L234.16,14.05 L234.82,13.56 L235.49,13.08 L236.15,12.63 L236.82,12.20 L237.49,11.79 L238.15,11.40 L238.82,11.03 L239.48,10.68 L240.15,10.34 L240.81,10.03 L241.48,9.73 L242.14,9.45 L242.81,9.18 L243.48,8.93 L244.14,8.70 L244.81,8.48 L245.47,8.28 L246.14,8.09 L246.80,7.92 L247.47,7.76 L248.13,7.61 L248.80,7.47 L249.46,7.35 L250.13,7.23 L250.80,7.13 L251.46,7.04 L252.13,6.96 L252.79,6.89 L253.46,6.83 L254.12,6.77 L254.79,6.73 L255.45,6.69 L256.12,6.66 L256.79,6.63 L257.45,6.62 L258.12,6.60 L258.78,6.60 L259.45,6.60 L260.11,6.60 L260.78,6.61 L261.44,6.62 L262.11,6.63 L262.77,6.65 L263.44,6.66 L264.11,6.68 L264.77,6.70 L265.44,6.73 L266.10,6.75 L266.77,6.77 L267.43,6.79 L268.10,6.81 L268.76,6.83 L269.43,6.84 L270.10,6.86 L270.76,6.87 L271.43,6.87 L272.09,6.88 L272.76,6.88 L273.42,6.87 L274.09,6.87 L274.75,6.86 L275.42,6.85 L276.08,6.84 L276.75,6.82 L277.42,6.81 L278.08,6.79 L278.75,6.77 L279.41,6.75 L280.08,6.73 L280.74,6.70 L281.41,6.68 L282.07,6.66 L282.74,6.63 L283.40,6.61 L284.07,6.58 L284.74,6.56 L285.40,6.54 L286.07,6.51 L286.73,6.49 L287.40,6.47 L288.06,6.45 L288.73,6.43 L289.39,6.41 L290.06,6.39 L290.73,6.38 L291.39,6.36 L292.06,6.35 L292.72,6.34 L293.39,6.34 L294.05,6.33 L294.72,6.33 L295.38,6.34 L296.05,6.34 L296.71,6.35 L297.38,6.37 L298.05,6.38 L298.71,6.40 L299.38,6.43 L300.04,6.46 L300.71,6.49 L301.37,6.53 L302.04,6.57 L302.70,6.62 L303.37,6.67 L304.04,6.73 L304.70,6.80 L305.37,6.87 L306.03,6.94 L306.70,7.03 L307.36,7.12 L308.03,7.21 L308.69,7.31 L309.36,7.42 L310.02,7.54 L310.69,7.66 L311.36,7.79 L312.02,7.93 L312.69,8.08 L313.35,8.23 L314.02,8.39 L314.68,8.56 L315.35,8.74 L316.01,8.93 L316.68,9.12 L317.35,9.33 L318.01,9.54 L318.68,9.77 L319.34,10.00 L320.01,10.25 L320.67,10.50 L321.34,10.63 L322.00,10.63 L322.67,10.63 L323.33,10.63 L324.00,10.63" stroke="#55e64c" stroke-dasharray="6 4.5"/>
<path d="M40.50,21.41 L41.17,21.41 L41.83,21.41 L42.50,21.41 L43.16,21.41 L43.83,21.56 L44.49,21.87 L45.16,22.17 L45.82,22.47 L46.49,22.76 L47.15,23.05 L47.82,23.33 L48.49,23.60 L49.15,23.88 L49.82,24.14 L50.48,24.41 L51.15,24.66 L51.81,24.92 L52.48,25.17 L53.14,25.42 L53.81,25.66 L54.48,25.90 L55.14,26.14 L55.81,26.38 L56.47,26.61 L57.14,26.85 L57.80,27.08 L58.47,27.31 L59.13,27.53 L59.80,27.76 L60.46,27.99 L61.13,28.21 L61.80,28.44 L62.46,28.66 L63.13,28.89 L63.79,29.11 L64.46,29.34 L65.12,29.56 L65.79,29.79 L66.45,30.02 L67.12,30.25 L67.79,30.48 L68.45,30.72 L69.12,30.95 L69.78,31.19 L70.45,31.43 L71.11,31.67 L71.78,31.92 L72.44,32.17 L73.11,32.42 L73.77,32.68 L74.44,32.94 L75.11,33.21 L75.77,33.48 L76.44,33.75 L77.10,34.03 L77.77,34.31 L78.43,34.60 L79.10,34.90 L79.76,35.20 L80.43,35.51 L81.10,35.82 L81.76,36.14 L82.43,36.46 L83.09,36.80 L83.76,37.14 L84.42,37.49 L85.09,37.84 L85.75,38.20 L86.42,38.57 L87.08,38.95 L87.75,39.34 L88.42,39.74 L89.08,40.14 L89.75,40.56 L90.41,40.98 L91.08,41.42 L91.74,41.86 L92.41,42.32 L93.07,42.78 L93.74,43.26 L94.40,43.74 L95.07,44.24 L95.74,44.75 L96.40,45.27 L97.07,45.80 L97.73,46.34 L98.40,46.89 L99.06,47.46 L99.73,48.04 L100.39,48.64 L101.06,49.24 L101.73,49.86 L102.39,50.50 L103.06,51.14 L103.72,51.80 L104.39,52.48 L105.05,53.17 L105.72,53.87 L106.38,54.59 L107.05,55.33 L107.71,56.08 L108.38,56.84 L109.05,57.62 L109.71,58.42 L110.38,59.23 L111.04,60.06 L111.71,60.91 L112.37,61.77 L113.04,62.65 L113.70,63.55 L114.37,64.47 L115.04,65.40 L115.70,66.36 L116.37,67.33 L117.03,68.31 L117.70,69.32 L118.36,70.35 L119.03,71.40 L119.69,72.46 L120.36,73.55 L121.02,74.65 L121.69,75.78 L122.36,76.92 L123.02,78.09 L123.69,79.28 L124.35,80.49 L125.02,81.72 L125.68,82.97 L126.35,84.24 L127.01,85.54 L127.68,86.86 L128.35,88.20 L129.01,89.57 L129.68,90.95 L130.34,92.37 L131.01,93.80 L131.67,95.27 L132.34,96.75 L133.00,98.27 L133.67,99.80 L134.33,101.37 L135.00,102.96 L135.67,104.58 L136.33,106.23 L137.00,107.91 L137.66,109.62 L138.33,111.35 L138.99,113.12 L139.66,114.92 L140.32,116.75 L140.99,118.62 L141.65,120.52 L142.32,122.45 L142.99,124.42 L143.65,126.42 L144.32,128.46 L144.98,130.54 L145.65,132.65 L146.31,134.80 L146.98,136.97 L147.64,139.17 L148.31,141.39 L148.98,143.63 L149.64,145.89 L150.31,148.16 L150.97,150.43 L151.64,152.72 L152.30,155.01 L152.97,157.30 L153.63,159.58 L154.30,161.85 L154.96,164.12 L155.63,166.36 L156.30,168.59 L156.96,170.79 L157.63,172.96 L158.29,175.09 L158.96,177.19 L159.62,179.24 L160.29,181.25 L160.95,183.20 L161.62,185.08 L162.29,186.90 L162.95,188.65 L163.62,190.32 L164.28,191.91 L164.95,193.40 L165.61,194.80 L166.28,196.09 L166.94,197.27 L167.61,198.34 L168.27,199.28 L168.94,200.10 L169.61,200.79 L170.27,201.34 L170.94,201.75 L171.60,202.01 L172.27,202.12 L172.93,202.07 L173.60,201.88 L174.26,201.53 L174.93,201.04 L175.60,200.41 L176.26,199.63 L176.93,198.71 L177.59,197.65 L178.26,196.46 L178.92,195.13 L179.59,193.68 L180.25,192.10 L180.92,190.40 L181.58,188.58 L182.25,186.66 L182.92,184.63 L183.58,182.50 L184.25,180.29 L184.91,177.99 L185.58,175.61 L186.24,173.15 L186.91,170.63 L187.57,168.04 L188.24,165.40 L188.90,162.71 L189.57,159.97 L190.24,157.19 L190.90,154.37 L191.57,151.51 L192.23,148.63 L192.90,145.73 L193.56,142.80 L194.23,139.86 L194.89,136.91 L195.56,133.95 L196.23,130.98 L196.89,128.02 L197.56,125.06 L198.22,122.11 L198.89,119.16 L199.55,116.24 L200.22,113.33 L200.88,110.44 L201.55,107.58 L202.21,104.75 L202.88,101.95 L203.55,99.18 L204.21,96.46 L204.88,93.77 L205.54,91.12 L206.21,88.51 L206.87,85.96 L207.54,83.45 L208.20,80.99 L208.87,78.59 L209.54,76.25 L210.20,73.97 L210.87,71.74 L211.53,69.59 L212.20,67.49 L212.86,65.46 L213.53,63.48 L214.19,61.56 L214.86,59.70 L215.52,57.89 L216.19,56.14 L216.86,54.44 L217.52,52.79 L218.19,51.19 L218.85,49.64 L219.52,48.14 L220.18,46.68 L220.85,45.27 L221.51,43.90 L222.18,42.57 L222.85,41.28 L223.51,40.04 L224.18,38.83 L224.84,37.65 L225.51,36.51 L226.17,35.41 L226.84,34.34 L227.50,33.31 L228.17,32.31 L228.83,31.34 L229.50,30.40 L230.17,29.50 L230.83,28.63 L231.50,27.78 L232.16,26.97 L232.83,26.19 L233.49,25.43 L234.16,24.71 L234.82,24.01 L235.49,23.34 L236.15,22.70 L236.82,22.09 L237.49,21.50 L238.15,20.93 L238.82,20.40 L239.48,19.88 L240.15,19.39 L240.81,18.92 L241.48,18.48 L242.14,18.06 L242.81,17.66 L243.48,17.28 L244.14,16.92 L244.81,16.58 L245.47,16.27 L246.14,15.97 L246.80,15.69 L247.47,15.43 L248.13,15.18 L248.80,14.96 L249.46,14.75 L250.13,14.55 L250.80,14.37 L251.46,14.21 L252.13,14.06 L252.79,13.93 L253.46,13.81 L254.12,13.70 L254.79,13.60 L255.45,13.52 L256.12,13.44 L256.79,13.38 L257.45,13.33 L258.12,13.29 L258.78,13.26 L259.45,13.23 L260.11,13.22 L260.78,13.21 L261.44,13.21 L262.11,13.22 L262.77,13.23 L263.44,13.25 L264.11,13.27 L264.77,13.30 L265.44,13.33 L266.10,13.37 L266.77,13.41 L267.43,13.45 L268.10,13.49 L268.76,13.53 L269.43,13.58 L270.10,13.63 L270.76,13.67 L271.43,13.72 L272.09,13.76 L272.76,13.81 L273.42,13.85 L274.09,13.90 L274.75,13.94 L275.42,13.98 L276.08,14.03 L276.75,14.07 L277.42,14.12 L278.08,14.16 L278.75,14.21 L279.41,14.26 L280.08,14.31 L280.74,14.35 L281.41,14.40 L282.07,14.45 L282.74,14.51 L283.40,14.56 L284.07,14.61 L284.74,14.67 L285.40,14.73 L286.07,14.79 L286.73,14.85 L287.40,14.91 L288.06,14.98 L288.73,15.05 L289.39,15.12 L290.06,15.19 L290.73,15.27 L291.39,15.35 L292.06,15.43 L292.72,15.51 L293.39,15.60 L294.05,15.69 L294.72,15.78 L295.38,15.87 L296.05,15.97 L296.71,16.08 L297.38,16.18 L298.05,16.29 L298.71,16.41 L299.38,16.52 L300.04,16.65 L300.71,16.77 L301.37,16.90 L302.04,17.04 L302.70,17.18 L303.37,17.32 L304.04,17.47 L304.70,17.62 L305.37,17.78 L306.03,17.94 L306.70,18.11 L307.36,18.28 L308.03,18.46 L308.69,18.64 L309.36,18.83 L310.02,19.03 L310.69,19.23 L311.36,19.43 L312.02,19.65 L312.69,19.86 L313.35,20.09 L314.02,20.32 L314.68,20.56 L315.35,20.80 L316.01,21.05 L316.68,21.31 L317.35,21.57 L318.01,21.84 L318.68,22.12 L319.34,22.40 L320.01,22.69 L320.67,22.99 L321.34,23.14 L322.00,23.14 L322.67,23.14 L323.33,23.14 L324.00,23.14" stroke="#f22a14" stroke-dasharray="6 4.5"/>
</g>
<rect x="43.50" y="4.30" width="277.80" height="210.00" fill="none" stroke="#262626" stroke-width="1.85"/>
<path d="M43.50,46.30h3.80M321.30,46.30h-3.80M43.50,88.30h3.80M321.30,88.30h-3.80M43.50,130.30h3.80M321.30,130.30h-3.80M43.50,172.30h3.80M321.30,172.30h-3.80M112.95,214.30v-3.80M112.95,4.30v3.80M182.40,214.30v-3.80M182.40,4.30v3.80M251.85,214.30v-3.80M251.85,4.30v3.80" stroke="#262626" stroke-width="1.8" fill="none"/>
<g font-family='"Liberation Sans", sans-serif' font-size="14.0" fill="#262626">
<text x="38.50" y="10.00" text-anchor="end">0</text>
<text x="38.50" y="52.00" text-anchor="end">-0.2</text>
<text x="38.50" y="94.00" text-anchor="end">-0.4</text>
<text x="38.50" y="136.00" text-anchor="end">-0.6</text>
<text x="38.50" y="178.00" text-anchor="end">-0.8</text>
<text x="38.50" y="220.00" text-anchor="end">-1</text>
<text x="43.50" y="232.90" text-anchor="middle">-2</text>
<text x="112.95" y="232.90" text-anchor="middle">-1</text>
<text x="182.40" y="232.90" text-anchor="middle">0</text>
<text x="251.85" y="232.90" text-anchor="middle">1</text>
<text x="321.30" y="232.90" text-anchor="middle">2</text>
<text transform="translate(10.00,106.80) rotate(-90)" text-anchor="middle" font-style="italic">Sk</text>
</g>
<text x="182.90" y="250.30" text-anchor="middle" font-family='"Liberation Serif", serif' font-style="italic" font-size="13.5" fill="#262626">ξ</text>
<rect x="51.20" y="148.30" width="68.60" height="57.30" fill="#fff" stroke="#262626" stroke-width="1.8"/>
<path d="M55.20,158.60H81.40" stroke="#2342e6" stroke-width="1.7"/>
<text x="83.70" y="163.10" font-family='"Liberation Sans", sans-serif' font-size="10" fill="#000"><tspan font-style="italic">M</tspan> = 0</text>
<path d="M55.20,176.60H81.40" stroke="#55e64c" stroke-width="1.7"/>
<text x="83.70" y="181.10" font-family='"Liberation Sans", sans-serif' font-size="10" fill="#000"><tspan font-style="italic">M</tspan> = 10</text>
<path d="M55.20,194.70H81.40" stroke="#f22a14" stroke-width="1.7"/>
<text x="83.70" y="199.20" font-family='"Liberation Sans", sans-serif' font-size="10" fill="#000"><tspan font-style="italic">M</tspan> = 20</text>
<text x="228.00" y="180.50" font-family='"Liberation Sans", sans-serif' font-size="10.2" letter-spacing="0.1" fill="#000">__Fe<tspan font-size="7.8" dy="5.2">3</tspan><tspan dy="-5.2">O</tspan><tspan font-size="7.8" dy="5.2">4</tspan><tspan dy="-5.2"></tspan></text>
<text x="228.00" y="199.20" font-family='"Liberation Sans", sans-serif' font-size="10.2" letter-spacing="0.1" fill="#000">---Fe<tspan font-size="7.8" dy="5.2">3</tspan><tspan dy="-5.2">O</tspan><tspan font-size="7.8" dy="5.2">4</tspan><tspan dy="-5.2">-MWCNT</tspan></text>
<text x="169.30" y="302.20" text-anchor="middle" font-family='"Liberation Serif", serif' font-size="20" fill="#000">(a)</text>
<clipPath id="clipb"><rect x="412.05" y="4.60" width="270.25" height="209.70"/></clipPath>
<g clip-path="url(#clipb)" fill="none" stroke-width="1.7" stroke-linejoin="round">
<path d="M409.00,18.13 L409.67,18.13 L410.33,18.13 L411.00,18.13 L411.66,18.13 L412.33,18.24 L412.99,18.45 L413.66,18.66 L414.32,18.86 L414.99,19.05 L415.65,19.25 L416.32,19.43 L416.98,19.61 L417.65,19.79 L418.31,19.96 L418.98,20.13 L419.64,20.29 L420.31,20.46 L420.97,20.61 L421.64,20.77 L422.30,20.92 L422.97,21.07 L423.63,21.22 L424.30,21.36 L424.96,21.51 L425.63,21.65 L426.29,21.79 L426.96,21.93 L427.62,22.07 L428.29,22.21 L428.95,22.35 L429.62,22.48 L430.28,22.62 L430.95,22.76 L431.61,22.90 L432.28,23.04 L432.94,23.18 L433.61,23.32 L434.27,23.47 L434.94,23.61 L435.60,23.76 L436.27,23.91 L436.93,24.07 L437.60,24.22 L438.26,24.38 L438.93,24.54 L439.59,24.71 L440.26,24.88 L440.92,25.05 L441.59,25.23 L442.25,25.41 L442.92,25.60 L443.58,25.79 L444.25,25.98 L444.91,26.19 L445.58,26.39 L446.24,26.61 L446.91,26.83 L447.57,27.06 L448.24,27.29 L448.90,27.53 L449.57,27.78 L450.23,28.03 L450.90,28.29 L451.56,28.56 L452.23,28.84 L452.89,29.13 L453.56,29.42 L454.22,29.73 L454.89,30.04 L455.55,30.36 L456.22,30.69 L456.88,31.03 L457.55,31.39 L458.21,31.75 L458.88,32.12 L459.54,32.50 L460.21,32.90 L460.87,33.30 L461.54,33.72 L462.20,34.15 L462.87,34.59 L463.53,35.04 L464.20,35.51 L464.87,35.98 L465.53,36.47 L466.20,36.98 L466.86,37.49 L467.53,38.03 L468.19,38.57 L468.86,39.13 L469.52,39.70 L470.19,40.29 L470.85,40.89 L471.52,41.51 L472.18,42.14 L472.85,42.79 L473.51,43.46 L474.18,44.14 L474.84,44.83 L475.51,45.55 L476.17,46.28 L476.84,47.02 L477.50,47.79 L478.17,48.57 L478.83,49.37 L479.50,50.19 L480.16,51.02 L480.83,51.88 L481.49,52.75 L482.16,53.64 L482.82,54.55 L483.49,55.48 L484.15,56.43 L484.82,57.40 L485.48,58.39 L486.15,59.40 L486.81,60.43 L487.48,61.48 L488.14,62.56 L488.81,63.65 L489.47,64.77 L490.14,65.91 L490.80,67.07 L491.47,68.25 L492.13,69.45 L492.80,70.68 L493.46,71.93 L494.13,73.20 L494.79,74.50 L495.46,75.82 L496.12,77.17 L496.79,78.54 L497.45,79.94 L498.12,81.36 L498.78,82.81 L499.45,84.28 L500.11,85.79 L500.78,87.31 L501.44,88.87 L502.11,90.45 L502.77,92.06 L503.44,93.70 L504.10,95.36 L504.77,97.06 L505.43,98.78 L506.10,100.53 L506.76,102.32 L507.43,104.13 L508.09,105.97 L508.76,107.85 L509.42,109.75 L510.09,111.69 L510.75,113.66 L511.42,115.66 L512.08,117.69 L512.75,119.76 L513.41,121.85 L514.08,123.98 L514.74,126.15 L515.41,128.35 L516.07,130.58 L516.74,132.85 L517.40,135.14 L518.07,137.46 L518.73,139.79 L519.40,142.14 L520.07,144.49 L520.73,146.85 L521.40,149.20 L522.06,151.55 L522.73,153.88 L523.39,156.20 L524.06,158.49 L524.72,160.75 L525.39,162.97 L526.05,165.16 L526.72,167.31 L527.38,169.40 L528.05,171.44 L528.71,173.43 L529.38,175.34 L530.04,177.19 L530.71,178.96 L531.37,180.65 L532.04,182.26 L532.70,183.77 L533.37,185.19 L534.03,186.51 L534.70,187.72 L535.36,188.82 L536.03,189.81 L536.69,190.67 L537.36,191.41 L538.02,192.02 L538.69,192.51 L539.35,192.88 L540.02,193.12 L540.68,193.25 L541.35,193.26 L542.01,193.14 L542.68,192.92 L543.34,192.57 L544.01,192.12 L544.67,191.55 L545.34,190.87 L546.00,190.09 L546.67,189.19 L547.33,188.19 L548.00,187.08 L548.66,185.87 L549.33,184.55 L549.99,183.14 L550.66,181.62 L551.32,180.01 L551.99,178.30 L552.65,176.49 L553.32,174.60 L553.98,172.63 L554.65,170.58 L555.31,168.46 L555.98,166.28 L556.64,164.03 L557.31,161.74 L557.97,159.40 L558.64,157.01 L559.30,154.59 L559.97,152.14 L560.63,149.66 L561.30,147.16 L561.96,144.65 L562.63,142.13 L563.29,139.59 L563.96,137.04 L564.62,134.49 L565.29,131.93 L565.95,129.37 L566.62,126.80 L567.28,124.24 L567.95,121.67 L568.61,119.11 L569.28,116.55 L569.94,114.00 L570.61,111.46 L571.27,108.93 L571.94,106.41 L572.60,103.90 L573.27,101.41 L573.93,98.94 L574.60,96.48 L575.27,94.05 L575.93,91.64 L576.60,89.25 L577.26,86.89 L577.93,84.56 L578.59,82.26 L579.26,79.99 L579.92,77.75 L580.59,75.55 L581.25,73.39 L581.92,71.26 L582.58,69.17 L583.25,67.13 L583.91,65.13 L584.58,63.18 L585.24,61.28 L585.91,59.42 L586.57,57.62 L587.24,55.86 L587.90,54.17 L588.57,52.53 L589.23,50.94 L589.90,49.41 L590.56,47.92 L591.23,46.49 L591.89,45.11 L592.56,43.78 L593.22,42.50 L593.89,41.26 L594.55,40.07 L595.22,38.93 L595.88,37.83 L596.55,36.77 L597.21,35.75 L597.88,34.78 L598.54,33.85 L599.21,32.96 L599.87,32.10 L600.54,31.28 L601.20,30.50 L601.87,29.76 L602.53,29.05 L603.20,28.37 L603.86,27.72 L604.53,27.11 L605.19,26.53 L605.86,25.98 L606.52,25.45 L607.19,24.96 L607.85,24.49 L608.52,24.04 L609.18,23.63 L609.85,23.23 L610.51,22.86 L611.18,22.51 L611.84,22.18 L612.51,21.87 L613.17,21.58 L613.84,21.31 L614.50,21.05 L615.17,20.81 L615.83,20.59 L616.50,20.38 L617.16,20.18 L617.83,20.00 L618.49,19.83 L619.16,19.66 L619.82,19.51 L620.49,19.36 L621.15,19.23 L621.82,19.10 L622.48,18.97 L623.15,18.85 L623.81,18.73 L624.48,18.61 L625.14,18.50 L625.81,18.38 L626.47,18.27 L627.14,18.16 L627.80,18.05 L628.47,17.94 L629.13,17.83 L629.80,17.73 L630.47,17.62 L631.13,17.52 L631.80,17.42 L632.46,17.32 L633.13,17.22 L633.79,17.13 L634.46,17.03 L635.12,16.94 L635.79,16.85 L636.45,16.76 L637.12,16.67 L637.78,16.59 L638.45,16.51 L639.11,16.43 L639.78,16.35 L640.44,16.28 L641.11,16.21 L641.77,16.14 L642.44,16.07 L643.10,16.01 L643.77,15.95 L644.43,15.89 L645.10,15.83 L645.76,15.78 L646.43,15.73 L647.09,15.69 L647.76,15.64 L648.42,15.61 L649.09,15.57 L649.75,15.54 L650.42,15.51 L651.08,15.48 L651.75,15.46 L652.41,15.44 L653.08,15.43 L653.74,15.42 L654.41,15.41 L655.07,15.41 L655.74,15.41 L656.40,15.41 L657.07,15.42 L657.73,15.43 L658.40,15.45 L659.06,15.47 L659.73,15.50 L660.39,15.53 L661.06,15.56 L661.72,15.60 L662.39,15.65 L663.05,15.70 L663.72,15.75 L664.38,15.81 L665.05,15.87 L665.71,15.94 L666.38,16.02 L667.04,16.09 L667.71,16.18 L668.37,16.27 L669.04,16.36 L669.70,16.46 L670.37,16.57 L671.03,16.68 L671.70,16.79 L672.36,16.92 L673.03,17.04 L673.69,17.18 L674.36,17.32 L675.02,17.46 L675.69,17.61 L676.35,17.77 L677.02,17.93 L677.68,18.10 L678.35,18.28 L679.01,18.46 L679.68,18.65 L680.34,18.84 L681.01,19.04 L681.67,19.25 L682.34,19.35 L683.00,19.35 L683.67,19.35 L684.33,19.35 L685.00,19.35" stroke="#2342e6"/>
<path d="M409.00,15.98 L409.67,15.98 L410.33,15.98 L411.00,15.98 L411.66,15.98 L412.33,16.03 L412.99,16.14 L413.66,16.25 L414.32,16.36 L414.99,16.48 L415.65,16.60 L416.32,16.73 L416.98,16.86 L417.65,16.99 L418.31,17.13 L418.98,17.27 L419.64,17.42 L420.31,17.57 L420.97,17.72 L421.64,17.88 L422.30,18.04 L422.97,18.20 L423.63,18.37 L424.30,18.54 L424.96,18.72 L425.63,18.90 L426.29,19.08 L426.96,19.27 L427.62,19.46 L428.29,19.65 L428.95,19.85 L429.62,20.06 L430.28,20.26 L430.95,20.47 L431.61,20.69 L432.28,20.90 L432.94,21.13 L433.61,21.35 L434.27,21.58 L434.94,21.82 L435.60,22.05 L436.27,22.29 L436.93,22.54 L437.60,22.79 L438.26,23.04 L438.93,23.30 L439.59,23.56 L440.26,23.83 L440.92,24.09 L441.59,24.37 L442.25,24.64 L442.92,24.92 L443.58,25.21 L444.25,25.50 L444.91,25.79 L445.58,26.09 L446.24,26.39 L446.91,26.69 L447.57,27.00 L448.24,27.31 L448.90,27.63 L449.57,27.95 L450.23,28.27 L450.90,28.60 L451.56,28.93 L452.23,29.27 L452.89,29.61 L453.56,29.95 L454.22,30.30 L454.89,30.65 L455.55,31.01 L456.22,31.37 L456.88,31.74 L457.55,32.10 L458.21,32.48 L458.88,32.86 L459.54,33.24 L460.21,33.64 L460.87,34.04 L461.54,34.44 L462.20,34.86 L462.87,35.28 L463.53,35.71 L464.20,36.15 L464.87,36.61 L465.53,37.07 L466.20,37.54 L466.86,38.02 L467.53,38.51 L468.19,39.02 L468.86,39.54 L469.52,40.07 L470.19,40.61 L470.85,41.17 L471.52,41.74 L472.18,42.32 L472.85,42.92 L473.51,43.54 L474.18,44.17 L474.84,44.82 L475.51,45.48 L476.17,46.16 L476.84,46.86 L477.50,47.58 L478.17,48.32 L478.83,49.07 L479.50,49.84 L480.16,50.64 L480.83,51.45 L481.49,52.29 L482.16,53.14 L482.82,54.02 L483.49,54.92 L484.15,55.84 L484.82,56.78 L485.48,57.75 L486.15,58.74 L486.81,59.76 L487.48,60.80 L488.14,61.86 L488.81,62.96 L489.47,64.07 L490.14,65.22 L490.80,66.39 L491.47,67.58 L492.13,68.81 L492.80,70.06 L493.46,71.34 L494.13,72.65 L494.79,74.00 L495.46,75.37 L496.12,76.77 L496.79,78.20 L497.45,79.66 L498.12,81.16 L498.78,82.68 L499.45,84.24 L500.11,85.82 L500.78,87.43 L501.44,89.07 L502.11,90.73 L502.77,92.42 L503.44,94.14 L504.10,95.88 L504.77,97.64 L505.43,99.42 L506.10,101.23 L506.76,103.05 L507.43,104.89 L508.09,106.76 L508.76,108.64 L509.42,110.53 L510.09,112.44 L510.75,114.37 L511.42,116.31 L512.08,118.27 L512.75,120.24 L513.41,122.21 L514.08,124.20 L514.74,126.20 L515.41,128.21 L516.07,130.23 L516.74,132.25 L517.40,134.28 L518.07,136.32 L518.73,138.36 L519.40,140.40 L520.07,142.45 L520.73,144.50 L521.40,146.54 L522.06,148.58 L522.73,150.60 L523.39,152.60 L524.06,154.59 L524.72,156.54 L525.39,158.47 L526.05,160.35 L526.72,162.20 L527.38,164.00 L528.05,165.75 L528.71,167.44 L529.38,169.07 L530.04,170.64 L530.71,172.14 L531.37,173.57 L532.04,174.91 L532.70,176.17 L533.37,177.35 L534.03,178.43 L534.70,179.41 L535.36,180.29 L536.03,181.06 L536.69,181.72 L537.36,182.26 L538.02,182.68 L538.69,182.98 L539.35,183.14 L540.02,183.17 L540.68,183.07 L541.35,182.82 L542.01,182.45 L542.68,181.94 L543.34,181.30 L544.01,180.54 L544.67,179.65 L545.34,178.64 L546.00,177.50 L546.67,176.25 L547.33,174.88 L548.00,173.39 L548.66,171.79 L549.33,170.08 L549.99,168.26 L550.66,166.33 L551.32,164.30 L551.99,162.16 L552.65,159.92 L553.32,157.59 L553.98,155.18 L554.65,152.70 L555.31,150.19 L555.98,147.64 L556.64,145.08 L557.31,142.50 L557.97,139.92 L558.64,137.32 L559.30,134.71 L559.97,132.11 L560.63,129.50 L561.30,126.89 L561.96,124.29 L562.63,121.69 L563.29,119.09 L563.96,116.49 L564.62,113.88 L565.29,111.28 L565.95,108.66 L566.62,106.05 L567.28,103.42 L567.95,100.79 L568.61,98.14 L569.28,95.48 L569.94,92.81 L570.61,90.13 L571.27,87.43 L571.94,84.71 L572.60,81.98 L573.27,79.25 L573.93,76.55 L574.60,73.90 L575.27,71.34 L575.93,68.87 L576.60,66.50 L577.26,64.23 L577.93,62.06 L578.59,59.97 L579.26,57.97 L579.92,56.05 L580.59,54.21 L581.25,52.44 L581.92,50.74 L582.58,49.10 L583.25,47.53 L583.91,46.01 L584.58,44.55 L585.24,43.13 L585.91,41.76 L586.57,40.43 L587.24,39.14 L587.90,37.89 L588.57,36.67 L589.23,35.49 L589.90,34.34 L590.56,33.23 L591.23,32.15 L591.89,31.10 L592.56,30.09 L593.22,29.11 L593.89,28.16 L594.55,27.24 L595.22,26.35 L595.88,25.49 L596.55,24.66 L597.21,23.86 L597.88,23.09 L598.54,22.35 L599.21,21.63 L599.87,20.94 L600.54,20.28 L601.20,19.64 L601.87,19.03 L602.53,18.44 L603.20,17.88 L603.86,17.34 L604.53,16.82 L605.19,16.33 L605.86,15.85 L606.52,15.40 L607.19,14.97 L607.85,14.56 L608.52,14.17 L609.18,13.80 L609.85,13.45 L610.51,13.11 L611.18,12.80 L611.84,12.50 L612.51,12.22 L613.17,11.95 L613.84,11.70 L614.50,11.46 L615.17,11.24 L615.83,11.03 L616.50,10.84 L617.16,10.65 L617.83,10.48 L618.49,10.33 L619.16,10.18 L619.82,10.04 L620.49,9.92 L621.15,9.80 L621.82,9.69 L622.48,9.59 L623.15,9.50 L623.81,9.42 L624.48,9.34 L625.14,9.27 L625.81,9.21 L626.47,9.15 L627.14,9.09 L627.80,9.04 L628.47,8.99 L629.13,8.95 L629.80,8.91 L630.47,8.87 L631.13,8.83 L631.80,8.80 L632.46,8.76 L633.13,8.73 L633.79,8.70 L634.46,8.67 L635.12,8.65 L635.79,8.63 L636.45,8.61 L637.12,8.59 L637.78,8.57 L638.45,8.56 L639.11,8.55 L639.78,8.54 L640.44,8.53 L641.11,8.53 L641.77,8.53 L642.44,8.53 L643.10,8.54 L643.77,8.55 L644.43,8.56 L645.10,8.57 L645.76,8.59 L646.43,8.61 L647.09,8.63 L647.76,8.66 L648.42,8.69 L649.09,8.72 L649.75,8.76 L650.42,8.80 L651.08,8.85 L651.75,8.89 L652.41,8.94 L653.08,9.00 L653.74,9.06 L654.41,9.12 L655.07,9.18 L655.74,9.25 L656.40,9.33 L657.07,9.41 L657.73,9.49 L658.40,9.57 L659.06,9.66 L659.73,9.76 L660.39,9.85 L661.06,9.96 L661.72,10.06 L662.39,10.18 L663.05,10.29 L663.72,10.41 L664.38,10.54 L665.05,10.67 L665.71,10.80 L666.38,10.94 L667.04,11.08 L667.71,11.23 L668.37,11.38 L669.04,11.54 L669.70,11.70 L670.37,11.87 L671.03,12.05 L671.70,12.22 L672.36,12.41 L673.03,12.60 L673.69,12.79 L674.36,12.99 L675.02,13.20 L675.69,13.41 L676.35,13.62 L677.02,13.84 L677.68,14.07 L678.35,14.30 L679.01,14.54 L679.68,14.79 L680.34,15.04 L681.01,15.29 L681.67,15.55 L682.34,15.68 L683.00,15.68 L683.67,15.68 L684.33,15.68 L685.00,15.68" stroke="#55e64c"/>
<path d="M409.00,14.03 L409.67,14.03 L410.33,14.03 L411.00,14.03 L411.66,14.03 L412.33,14.10 L412.99,14.26 L413.66,14.41 L414.32,14.58 L414.99,14.74 L415.65,14.92 L416.32,15.09 L416.98,15.27 L417.65,15.45 L418.31,15.64 L418.98,15.83 L419.64,16.03 L420.31,16.23 L420.97,16.43 L421.64,16.64 L422.30,16.85 L422.97,17.06 L423.63,17.28 L424.30,17.50 L424.96,17.73 L425.63,17.96 L426.29,18.19 L426.96,18.43 L427.62,18.66 L428.29,18.90 L428.95,19.15 L429.62,19.40 L430.28,19.65 L430.95,19.90 L431.61,20.16 L432.28,20.42 L432.94,20.68 L433.61,20.94 L434.27,21.21 L434.94,21.48 L435.60,21.75 L436.27,22.03 L436.93,22.30 L437.60,22.58 L438.26,22.86 L438.93,23.15 L439.59,23.43 L440.26,23.72 L440.92,24.01 L441.59,24.30 L442.25,24.59 L442.92,24.89 L443.58,25.18 L444.25,25.48 L444.91,25.78 L445.58,26.08 L446.24,26.39 L446.91,26.69 L447.57,27.00 L448.24,27.31 L448.90,27.61 L449.57,27.92 L450.23,28.24 L450.90,28.55 L451.56,28.87 L452.23,29.19 L452.89,29.51 L453.56,29.84 L454.22,30.17 L454.89,30.50 L455.55,30.84 L456.22,31.19 L456.88,31.54 L457.55,31.90 L458.21,32.27 L458.88,32.64 L459.54,33.02 L460.21,33.41 L460.87,33.80 L461.54,34.21 L462.20,34.62 L462.87,35.04 L463.53,35.48 L464.20,35.92 L464.87,36.37 L465.53,36.84 L466.20,37.31 L466.86,37.80 L467.53,38.30 L468.19,38.82 L468.86,39.34 L469.52,39.88 L470.19,40.44 L470.85,41.00 L471.52,41.59 L472.18,42.18 L472.85,42.80 L473.51,43.43 L474.18,44.07 L474.84,44.73 L475.51,45.41 L476.17,46.11 L476.84,46.82 L477.50,47.56 L478.17,48.31 L478.83,49.08 L479.50,49.87 L480.16,50.68 L480.83,51.51 L481.49,52.36 L482.16,53.23 L482.82,54.12 L483.49,55.04 L484.15,55.97 L484.82,56.94 L485.48,57.92 L486.15,58.92 L486.81,59.96 L487.48,61.01 L488.14,62.09 L488.81,63.19 L489.47,64.32 L490.14,65.48 L490.80,66.66 L491.47,67.87 L492.13,69.11 L492.80,70.37 L493.46,71.66 L494.13,72.98 L494.79,74.32 L495.46,75.69 L496.12,77.08 L496.79,78.50 L497.45,79.95 L498.12,81.42 L498.78,82.92 L499.45,84.44 L500.11,85.98 L500.78,87.55 L501.44,89.15 L502.11,90.77 L502.77,92.41 L503.44,94.08 L504.10,95.77 L504.77,97.48 L505.43,99.22 L506.10,100.98 L506.76,102.76 L507.43,104.56 L508.09,106.39 L508.76,108.24 L509.42,110.11 L510.09,112.00 L510.75,113.92 L511.42,115.85 L512.08,117.81 L512.75,119.79 L513.41,121.79 L514.08,123.81 L514.74,125.85 L515.41,127.91 L516.07,129.99 L516.74,132.09 L517.40,134.20 L518.07,136.32 L518.73,138.44 L519.40,140.57 L520.07,142.68 L520.73,144.79 L521.40,146.88 L522.06,148.95 L522.73,150.99 L523.39,153.00 L524.06,154.98 L524.72,156.92 L525.39,158.81 L526.05,160.65 L526.72,162.44 L527.38,164.16 L528.05,165.82 L528.71,167.42 L529.38,168.93 L530.04,170.37 L530.71,171.72 L531.37,172.98 L532.04,174.15 L532.70,175.22 L533.37,176.18 L534.03,177.03 L534.70,177.77 L535.36,178.39 L536.03,178.89 L536.69,179.26 L537.36,179.49 L538.02,179.59 L538.69,179.54 L539.35,179.34 L540.02,179.00 L540.68,178.52 L541.35,177.89 L542.01,177.14 L542.68,176.25 L543.34,175.24 L544.01,174.10 L544.67,172.84 L545.34,171.47 L546.00,169.98 L546.67,168.39 L547.33,166.69 L548.00,164.88 L548.66,162.98 L549.33,160.98 L549.99,158.91 L550.66,156.75 L551.32,154.53 L551.99,152.24 L552.65,149.90 L553.32,147.52 L553.98,145.10 L554.65,142.65 L555.31,140.17 L555.98,137.65 L556.64,135.11 L557.31,132.55 L557.97,129.97 L558.64,127.36 L559.30,124.75 L559.97,122.11 L560.63,119.47 L561.30,116.82 L561.96,114.16 L562.63,111.49 L563.29,108.83 L563.96,106.16 L564.62,103.50 L565.29,100.85 L565.95,98.20 L566.62,95.57 L567.28,92.95 L567.95,90.35 L568.61,87.77 L569.28,85.21 L569.94,82.67 L570.61,80.17 L571.27,77.70 L571.94,75.26 L572.60,72.86 L573.27,70.50 L573.93,68.18 L574.60,65.91 L575.27,63.68 L575.93,61.51 L576.60,59.39 L577.26,57.33 L577.93,55.33 L578.59,53.39 L579.26,51.51 L579.92,49.71 L580.59,47.96 L581.25,46.27 L581.92,44.65 L582.58,43.08 L583.25,41.56 L583.91,40.10 L584.58,38.69 L585.24,37.33 L585.91,36.02 L586.57,34.74 L587.24,33.52 L587.90,32.33 L588.57,31.18 L589.23,30.07 L589.90,28.99 L590.56,27.95 L591.23,26.93 L591.89,25.95 L592.56,25.00 L593.22,24.08 L593.89,23.19 L594.55,22.33 L595.22,21.49 L595.88,20.69 L596.55,19.91 L597.21,19.16 L597.88,18.43 L598.54,17.73 L599.21,17.06 L599.87,16.41 L600.54,15.79 L601.20,15.19 L601.87,14.62 L602.53,14.07 L603.20,13.54 L603.86,13.03 L604.53,12.55 L605.19,12.09 L605.86,11.64 L606.52,11.22 L607.19,10.82 L607.85,10.43 L608.52,10.07 L609.18,9.72 L609.85,9.40 L610.51,9.09 L611.18,8.79 L611.84,8.51 L612.51,8.25 L613.17,8.01 L613.84,7.77 L614.50,7.56 L615.17,7.35 L615.83,7.16 L616.50,6.99 L617.16,6.82 L617.83,6.67 L618.49,6.53 L619.16,6.40 L619.82,6.28 L620.49,6.17 L621.15,6.07 L621.82,5.97 L622.48,5.89 L623.15,5.82 L623.81,5.75 L624.48,5.69 L625.14,5.63 L625.81,5.59 L626.47,5.54 L627.14,5.51 L627.80,5.47 L628.47,5.44 L629.13,5.42 L629.80,5.40 L630.47,5.38 L631.13,5.36 L631.80,5.35 L632.46,5.33 L633.13,5.32 L633.79,5.32 L634.46,5.31 L635.12,5.31 L635.79,5.31 L636.45,5.31 L637.12,5.32 L637.78,5.33 L638.45,5.34 L639.11,5.35 L639.78,5.37 L640.44,5.39 L641.11,5.42 L641.77,5.44 L642.44,5.47 L643.10,5.50 L643.77,5.54 L644.43,5.57 L645.10,5.61 L645.76,5.66 L646.43,5.70 L647.09,5.75 L647.76,5.81 L648.42,5.86 L649.09,5.92 L649.75,5.99 L650.42,6.05 L651.08,6.12 L651.75,6.19 L652.41,6.27 L653.08,6.35 L653.74,6.43 L654.41,6.52 L655.07,6.61 L655.74,6.70 L656.40,6.80 L657.07,6.90 L657.73,7.00 L658.40,7.11 L659.06,7.22 L659.73,7.34 L660.39,7.45 L661.06,7.58 L661.72,7.70 L662.39,7.83 L663.05,7.96 L663.72,8.10 L664.38,8.24 L665.05,8.39 L665.71,8.54 L666.38,8.69 L667.04,8.85 L667.71,9.01 L668.37,9.17 L669.04,9.34 L669.70,9.51 L670.37,9.69 L671.03,9.87 L671.70,10.06 L672.36,10.24 L673.03,10.44 L673.69,10.64 L674.36,10.84 L675.02,11.04 L675.69,11.26 L676.35,11.47 L677.02,11.69 L677.68,11.91 L678.35,12.14 L679.01,12.38 L679.68,12.61 L680.34,12.85 L681.01,13.10 L681.67,13.35 L682.34,13.48 L683.00,13.48 L683.67,13.48 L684.33,13.48 L685.00,13.48" stroke="#f22a14"/>
<path d="M409.00,18.13 L409.67,18.13 L410.33,18.13 L411.00,18.13 L411.66,18.13 L412.33,18.24 L412.99,18.45 L413.66,18.66 L414.32,18.86 L414.99,19.05 L415.65,19.25 L416.32,19.43 L416.98,19.61 L417.65,19.79 L418.31,19.96 L418.98,20.13 L419.64,20.29 L420.31,20.46 L420.97,20.61 L421.64,20.77 L422.30,20.92 L422.97,21.07 L423.63,21.22 L424.30,21.36 L424.96,21.51 L425.63,21.65 L426.29,21.79 L426.96,21.93 L427.62,22.07 L428.29,22.21 L428.95,22.35 L429.62,22.48 L430.28,22.62 L430.95,22.76 L431.61,22.90 L432.28,23.04 L432.94,23.18 L433.61,23.32 L434.27,23.47 L434.94,23.61 L435.60,23.76 L436.27,23.91 L436.93,24.07 L437.60,24.22 L438.26,24.38 L438.93,24.54 L439.59,24.71 L440.26,24.88 L440.92,25.05 L441.59,25.23 L442.25,25.41 L442.92,25.60 L443.58,25.79 L444.25,25.98 L444.91,26.19 L445.58,26.39 L446.24,26.61 L446.91,26.83 L447.57,27.06 L448.24,27.29 L448.90,27.53 L449.57,27.78 L450.23,28.03 L450.90,28.29 L451.56,28.56 L452.23,28.84 L452.89,29.13 L453.56,29.42 L454.22,29.73 L454.89,30.04 L455.55,30.36 L456.22,30.69 L456.88,31.03 L457.55,31.39 L458.21,31.75 L458.88,32.12 L459.54,32.50 L460.21,32.90 L460.87,33.30 L461.54,33.72 L462.20,34.15 L462.87,34.59 L463.53,35.04 L464.20,35.51 L464.87,35.98 L465.53,36.47 L466.20,36.98 L466.86,37.49 L467.53,38.03 L468.19,38.57 L468.86,39.13 L469.52,39.70 L470.19,40.29 L470.85,40.89 L471.52,41.51 L472.18,42.14 L472.85,42.79 L473.51,43.46 L474.18,44.14 L474.84,44.83 L475.51,45.55 L476.17,46.28 L476.84,47.02 L477.50,47.79 L478.17,48.57 L478.83,49.37 L479.50,50.19 L480.16,51.02 L480.83,51.88 L481.49,52.75 L482.16,53.64 L482.82,54.55 L483.49,55.48 L484.15,56.43 L484.82,57.40 L485.48,58.39 L486.15,59.40 L486.81,60.43 L487.48,61.48 L488.14,62.56 L488.81,63.65 L489.47,64.77 L490.14,65.91 L490.80,67.07 L491.47,68.25 L492.13,69.45 L492.80,70.68 L493.46,71.93 L494.13,73.20 L494.79,74.50 L495.46,75.82 L496.12,77.17 L496.79,78.54 L497.45,79.94 L498.12,81.36 L498.78,82.81 L499.45,84.28 L500.11,85.79 L500.78,87.31 L501.44,88.87 L502.11,90.45 L502.77,92.06 L503.44,93.70 L504.10,95.36 L504.77,97.06 L505.43,98.78 L506.10,100.54 L506.76,102.32 L507.43,104.13 L508.09,105.98 L508.76,107.85 L509.42,109.76 L510.09,111.69 L510.75,113.66 L511.42,115.66 L512.08,117.70 L512.75,119.76 L513.41,121.86 L514.08,124.00 L514.74,126.17 L515.41,128.37 L516.07,130.61 L516.74,132.89 L517.40,135.19 L518.07,137.52 L518.73,139.87 L519.40,142.23 L520.07,144.61 L520.73,146.99 L521.40,149.37 L522.06,151.75 L522.73,154.12 L523.39,156.48 L524.06,158.82 L524.72,161.13 L525.39,163.42 L526.05,165.68 L526.72,167.90 L527.38,170.08 L528.05,172.21 L528.71,174.29 L529.38,176.31 L530.04,178.27 L530.71,180.15 L531.37,181.96 L532.04,183.69 L532.70,185.33 L533.37,186.87 L534.03,188.31 L534.70,189.64 L535.36,190.85 L536.03,191.87 L536.69,192.78 L537.36,193.57 L538.02,194.24 L538.69,194.80 L539.35,195.24 L540.02,195.56 L540.68,195.77 L541.35,195.86 L542.01,195.86 L542.68,195.74 L543.34,195.51 L544.01,195.17 L544.67,194.72 L545.34,194.16 L546.00,193.50 L546.67,192.74 L547.33,191.87 L548.00,190.83 L548.66,189.68 L549.33,188.42 L549.99,187.06 L550.66,185.59 L551.32,184.03 L551.99,182.37 L552.65,180.61 L553.32,178.77 L553.98,176.84 L554.65,174.83 L555.31,172.75 L555.98,170.61 L556.64,168.40 L557.31,166.14 L557.97,163.83 L558.64,161.48 L559.30,159.09 L559.97,156.67 L560.63,154.21 L561.30,151.74 L561.96,149.24 L562.63,146.74 L563.29,144.22 L563.96,141.70 L564.62,139.16 L565.29,136.62 L565.95,134.08 L566.62,131.53 L567.28,128.98 L567.95,126.43 L568.61,123.89 L569.28,121.34 L569.94,118.80 L570.61,116.27 L571.27,113.74 L571.94,111.20 L572.60,108.68 L573.27,106.16 L573.93,103.66 L574.60,101.18 L575.27,98.72 L575.93,96.27 L576.60,93.85 L577.26,91.45 L577.93,89.08 L578.59,86.73 L579.26,84.41 L579.92,82.13 L580.59,79.87 L581.25,77.65 L581.92,75.47 L582.58,73.33 L583.25,71.22 L583.91,69.16 L584.58,67.13 L585.24,65.16 L585.91,63.23 L586.57,61.35 L587.24,59.52 L587.90,57.74 L588.57,56.02 L589.23,54.35 L589.90,52.73 L590.56,51.17 L591.23,49.66 L591.89,48.21 L592.56,46.80 L593.22,45.45 L593.89,44.14 L594.55,42.88 L595.22,41.66 L595.88,40.50 L596.55,39.37 L597.21,38.30 L597.88,37.26 L598.54,36.27 L599.21,35.31 L599.87,34.40 L600.54,33.53 L601.20,32.69 L601.87,31.89 L602.53,31.13 L603.20,30.40 L603.86,29.71 L604.53,29.04 L605.19,28.42 L605.86,27.82 L606.52,27.25 L607.19,26.71 L607.85,26.20 L608.52,25.72 L609.18,25.26 L609.85,24.83 L610.51,24.43 L611.18,24.04 L611.84,23.68 L612.51,23.34 L613.17,23.02 L613.84,22.72 L614.50,22.44 L615.17,22.18 L615.83,21.93 L616.50,21.70 L617.16,21.48 L617.83,21.28 L618.49,21.09 L619.16,20.91 L619.82,20.74 L620.49,20.59 L621.15,20.44 L621.82,20.30 L622.48,20.16 L623.15,20.03 L623.81,19.91 L624.48,19.79 L625.14,19.67 L625.81,19.55 L626.47,19.44 L627.14,19.33 L627.80,19.22 L628.47,19.11 L629.13,19.00 L629.80,18.89 L630.47,18.78 L631.13,18.68 L631.80,18.57 L632.46,18.47 L633.13,18.37 L633.79,18.27 L634.46,18.17 L635.12,18.08 L635.79,17.99 L636.45,17.89 L637.12,17.80 L637.78,17.72 L638.45,17.63 L639.11,17.55 L639.78,17.47 L640.44,17.39 L641.11,17.32 L641.77,17.24 L642.44,17.17 L643.10,17.11 L643.77,17.04 L644.43,16.98 L645.10,16.92 L645.76,16.86 L646.43,16.81 L647.09,16.76 L647.76,16.71 L648.42,16.67 L649.09,16.62 L649.75,16.59 L650.42,16.55 L651.08,16.52 L651.75,16.49 L652.41,16.47 L653.08,16.45 L653.74,16.43 L654.41,16.42 L655.07,16.41 L655.74,16.41 L656.40,16.41 L657.07,16.41 L657.73,16.42 L658.40,16.43 L659.06,16.44 L659.73,16.46 L660.39,16.49 L661.06,16.51 L661.72,16.55 L662.39,16.58 L663.05,16.63 L663.72,16.67 L664.38,16.72 L665.05,16.78 L665.71,16.84 L666.38,16.91 L667.04,16.98 L667.71,17.05 L668.37,17.14 L669.04,17.22 L669.70,17.31 L670.37,17.41 L671.03,17.51 L671.70,17.62 L672.36,17.73 L673.03,17.85 L673.69,17.98 L674.36,18.11 L675.02,18.24 L675.69,18.39 L676.35,18.53 L677.02,18.69 L677.68,18.85 L678.35,19.01 L679.01,19.19 L679.68,19.37 L680.34,19.55 L681.01,19.74 L681.67,19.94 L682.34,20.14 L683.00,20.35 L683.67,20.35 L684.33,20.35 L685.00,20.35" stroke="#2342e6" stroke-dasharray="6 4.5"/>
<path d="M409.00,15.98 L409.67,15.98 L410.33,15.98 L411.00,15.98 L411.66,15.98 L412.33,16.03 L412.99,16.14 L413.66,16.25 L414.32,16.36 L414.99,16.48 L415.65,16.60 L416.32,16.73 L416.98,16.86 L417.65,16.99 L418.31,17.13 L418.98,17.27 L419.64,17.42 L420.31,17.57 L420.97,17.72 L421.64,17.88 L422.30,18.04 L422.97,18.20 L423.63,18.37 L424.30,18.54 L424.96,18.72 L425.63,18.90 L426.29,19.08 L426.96,19.27 L427.62,19.46 L428.29,19.65 L428.95,19.85 L429.62,20.06 L430.28,20.26 L430.95,20.47 L431.61,20.69 L432.28,20.90 L432.94,21.13 L433.61,21.35 L434.27,21.58 L434.94,21.82 L435.60,22.05 L436.27,22.29 L436.93,22.54 L437.60,22.79 L438.26,23.04 L438.93,23.30 L439.59,23.56 L440.26,23.83 L440.92,24.09 L441.59,24.37 L442.25,24.64 L442.92,24.92 L443.58,25.21 L444.25,25.50 L444.91,25.79 L445.58,26.09 L446.24,26.39 L446.91,26.69 L447.57,27.00 L448.24,27.31 L448.90,27.63 L449.57,27.95 L450.23,28.27 L450.90,28.60 L451.56,28.93 L452.23,29.27 L452.89,29.61 L453.56,29.95 L454.22,30.30 L454.89,30.65 L455.55,31.01 L456.22,31.37 L456.88,31.74 L457.55,32.10 L458.21,32.48 L458.88,32.86 L459.54,33.24 L460.21,33.64 L460.87,34.04 L461.54,34.44 L462.20,34.86 L462.87,35.28 L463.53,35.71 L464.20,36.15 L464.87,36.61 L465.53,37.07 L466.20,37.54 L466.86,38.02 L467.53,38.51 L468.19,39.02 L468.86,39.54 L469.52,40.07 L470.19,40.61 L470.85,41.17 L471.52,41.74 L472.18,42.32 L472.85,42.92 L473.51,43.54 L474.18,44.17 L474.84,44.82 L475.51,45.48 L476.17,46.16 L476.84,46.86 L477.50,47.58 L478.17,48.32 L478.83,49.07 L479.50,49.84 L480.16,50.64 L480.83,51.45 L481.49,52.29 L482.16,53.14 L482.82,54.02 L483.49,54.92 L484.15,55.84 L484.82,56.78 L485.48,57.75 L486.15,58.74 L486.81,59.76 L487.48,60.80 L488.14,61.86 L488.81,62.96 L489.47,64.07 L490.14,65.22 L490.80,66.39 L491.47,67.58 L492.13,68.81 L492.80,70.06 L493.46,71.34 L494.13,72.65 L494.79,74.00 L495.46,75.37 L496.12,76.77 L496.79,78.20 L497.45,79.66 L498.12,81.16 L498.78,82.68 L499.45,84.24 L500.11,85.82 L500.78,87.43 L501.44,89.07 L502.11,90.73 L502.77,92.42 L503.44,94.14 L504.10,95.88 L504.77,97.64 L505.43,99.42 L506.10,101.23 L506.76,103.05 L507.43,104.89 L508.09,106.76 L508.76,108.64 L509.42,110.53 L510.09,112.45 L510.75,114.38 L511.42,116.32 L512.08,118.27 L512.75,120.24 L513.41,122.22 L514.08,124.22 L514.74,126.22 L515.41,128.23 L516.07,130.25 L516.74,132.28 L517.40,134.32 L518.07,136.36 L518.73,138.41 L519.40,140.47 L520.07,142.53 L520.73,144.60 L521.40,146.66 L522.06,148.72 L522.73,150.76 L523.39,152.79 L524.06,154.81 L524.72,156.80 L525.39,158.76 L526.05,160.68 L526.72,162.57 L527.38,164.42 L528.05,166.22 L528.71,167.96 L529.38,169.65 L530.04,171.27 L530.71,172.83 L531.37,174.31 L532.04,175.71 L532.70,177.03 L533.37,178.25 L534.03,179.36 L534.70,180.35 L535.36,181.24 L536.03,182.02 L536.69,182.71 L537.36,183.28 L538.02,183.74 L538.69,184.08 L539.35,184.29 L540.02,184.38 L540.68,184.36 L541.35,184.20 L542.01,183.92 L542.68,183.50 L543.34,182.97 L544.01,182.31 L544.67,181.53 L545.34,180.64 L546.00,179.61 L546.67,178.43 L547.33,177.12 L548.00,175.70 L548.66,174.17 L549.33,172.52 L549.99,170.76 L550.66,168.89 L551.32,166.92 L551.99,164.84 L552.65,162.67 L553.32,160.39 L553.98,158.03 L554.65,155.59 L555.31,153.10 L555.98,150.56 L556.64,148.01 L557.31,145.44 L557.97,142.86 L558.64,140.27 L559.30,137.67 L559.97,135.07 L560.63,132.47 L561.30,129.87 L561.96,127.27 L562.63,124.68 L563.29,122.09 L563.96,119.50 L564.62,116.91 L565.29,114.32 L565.95,111.73 L566.62,109.13 L567.28,106.53 L567.95,103.92 L568.61,101.30 L569.28,98.67 L569.94,96.03 L570.61,93.35 L571.27,90.67 L571.94,87.97 L572.60,85.25 L573.27,82.51 L573.93,79.79 L574.60,77.09 L575.27,74.45 L575.93,71.89 L576.60,69.43 L577.26,67.08 L577.93,64.82 L578.59,62.65 L579.26,60.57 L579.92,58.58 L580.59,56.67 L581.25,54.83 L581.92,53.07 L582.58,51.37 L583.25,49.74 L583.91,48.17 L584.58,46.66 L585.24,45.20 L585.91,43.79 L586.57,42.43 L587.24,41.11 L587.90,39.82 L588.57,38.57 L589.23,37.35 L589.90,36.17 L590.56,35.03 L591.23,33.92 L591.89,32.84 L592.56,31.80 L593.22,30.79 L593.89,29.81 L594.55,28.86 L595.22,27.95 L595.88,27.06 L596.55,26.21 L597.21,25.38 L597.88,24.58 L598.54,23.82 L599.21,23.08 L599.87,22.36 L600.54,21.67 L601.20,21.01 L601.87,20.38 L602.53,19.77 L603.20,19.18 L603.86,18.62 L604.53,18.09 L605.19,17.57 L605.86,17.08 L606.52,16.61 L607.19,16.16 L607.85,15.73 L608.52,15.32 L609.18,14.93 L609.85,14.57 L610.51,14.21 L611.18,13.88 L611.84,13.57 L612.51,13.27 L613.17,12.99 L613.84,12.72 L614.50,12.47 L615.17,12.24 L615.83,12.02 L616.50,11.81 L617.16,11.62 L617.83,11.44 L618.49,11.27 L619.16,11.11 L619.82,10.97 L620.49,10.83 L621.15,10.71 L621.82,10.59 L622.48,10.48 L623.15,10.39 L623.81,10.29 L624.48,10.21 L625.14,10.14 L625.81,10.07 L626.47,10.00 L627.14,9.94 L627.80,9.89 L628.47,9.84 L629.13,9.79 L629.80,9.75 L630.47,9.71 L631.13,9.67 L631.80,9.63 L632.46,9.59 L633.13,9.56 L633.79,9.53 L634.46,9.50 L635.12,9.47 L635.79,9.45 L636.45,9.42 L637.12,9.40 L637.78,9.39 L638.45,9.37 L639.11,9.36 L639.78,9.35 L640.44,9.34 L641.11,9.33 L641.77,9.33 L642.44,9.33 L643.10,9.33 L643.77,9.34 L644.43,9.35 L645.10,9.36 L645.76,9.37 L646.43,9.39 L647.09,9.41 L647.76,9.44 L648.42,9.46 L649.09,9.49 L649.75,9.53 L650.42,9.57 L651.08,9.61 L651.75,9.65 L652.41,9.70 L653.08,9.75 L653.74,9.80 L654.41,9.86 L655.07,9.92 L655.74,9.99 L656.40,10.06 L657.07,10.14 L657.73,10.21 L658.40,10.29 L659.06,10.38 L659.73,10.47 L660.39,10.57 L661.06,10.66 L661.72,10.77 L662.39,10.87 L663.05,10.99 L663.72,11.10 L664.38,11.22 L665.05,11.35 L665.71,11.48 L666.38,11.61 L667.04,11.75 L667.71,11.90 L668.37,12.04 L669.04,12.20 L669.70,12.36 L670.37,12.52 L671.03,12.69 L671.70,12.86 L672.36,13.04 L673.03,13.23 L673.69,13.42 L674.36,13.61 L675.02,13.81 L675.69,14.02 L676.35,14.23 L677.02,14.44 L677.68,14.67 L678.35,14.89 L679.01,15.13 L679.68,15.37 L680.34,15.61 L681.01,15.86 L681.67,16.12 L682.34,16.38 L683.00,16.48 L683.67,16.48 L684.33,16.48 L685.00,16.48" stroke="#55e64c" stroke-dasharray="6 4.5"/>
<path d="M409.00,14.03 L409.67,14.03 L410.33,14.03 L411.00,14.03 L411.66,14.03 L412.33,14.10 L412.99,14.26 L413.66,14.41 L414.32,14.58 L414.99,14.74 L415.65,14.92 L416.32,15.09 L416.98,15.27 L417.65,15.45 L418.31,15.64 L418.98,15.83 L419.64,16.03 L420.31,16.23 L420.97,16.43 L421.64,16.64 L422.30,16.85 L422.97,17.06 L423.63,17.28 L424.30,17.50 L424.96,17.73 L425.63,17.96 L426.29,18.19 L426.96,18.43 L427.62,18.66 L428.29,18.90 L428.95,19.15 L429.62,19.40 L430.28,19.65 L430.95,19.90 L431.61,20.16 L432.28,20.42 L432.94,20.68 L433.61,20.94 L434.27,21.21 L434.94,21.48 L435.60,21.75 L436.27,22.03 L436.93,22.30 L437.60,22.58 L438.26,22.86 L438.93,23.15 L439.59,23.43 L440.26,23.72 L440.92,24.01 L441.59,24.30 L442.25,24.59 L442.92,24.89 L443.58,25.18 L444.25,25.48 L444.91,25.78 L445.58,26.08 L446.24,26.39 L446.91,26.69 L447.57,27.00 L448.24,27.31 L448.90,27.61 L449.57,27.92 L450.23,28.24 L450.90,28.55 L451.56,28.87 L452.23,29.19 L452.89,29.51 L453.56,29.84 L454.22,30.17 L454.89,30.50 L455.55,30.84 L456.22,31.19 L456.88,31.54 L457.55,31.90 L458.21,32.27 L458.88,32.64 L459.54,33.02 L460.21,33.41 L460.87,33.80 L461.54,34.21 L462.20,34.62 L462.87,35.04 L463.53,35.48 L464.20,35.92 L464.87,36.37 L465.53,36.84 L466.20,37.31 L466.86,37.80 L467.53,38.30 L468.19,38.82 L468.86,39.34 L469.52,39.88 L470.19,40.44 L470.85,41.00 L471.52,41.59 L472.18,42.18 L472.85,42.80 L473.51,43.43 L474.18,44.07 L474.84,44.73 L475.51,45.41 L476.17,46.11 L476.84,46.82 L477.50,47.56 L478.17,48.31 L478.83,49.08 L479.50,49.87 L480.16,50.68 L480.83,51.51 L481.49,52.36 L482.16,53.23 L482.82,54.12 L483.49,55.04 L484.15,55.97 L484.82,56.94 L485.48,57.92 L486.15,58.92 L486.81,59.96 L487.48,61.01 L488.14,62.09 L488.81,63.19 L489.47,64.32 L490.14,65.48 L490.80,66.66 L491.47,67.87 L492.13,69.11 L492.80,70.37 L493.46,71.66 L494.13,72.98 L494.79,74.32 L495.46,75.69 L496.12,77.08 L496.79,78.50 L497.45,79.95 L498.12,81.42 L498.78,82.92 L499.45,84.44 L500.11,85.98 L500.78,87.55 L501.44,89.15 L502.11,90.77 L502.77,92.41 L503.44,94.08 L504.10,95.77 L504.77,97.48 L505.43,99.22 L506.10,100.98 L506.76,102.76 L507.43,104.56 L508.09,106.39 L508.76,108.24 L509.42,110.11 L510.09,112.01 L510.75,113.92 L511.42,115.86 L512.08,117.82 L512.75,119.80 L513.41,121.80 L514.08,123.82 L514.74,125.86 L515.41,127.92 L516.07,130.00 L516.74,132.11 L517.40,134.22 L518.07,136.35 L518.73,138.48 L519.40,140.61 L520.07,142.74 L520.73,144.85 L521.40,146.95 L522.06,149.04 L522.73,151.09 L523.39,153.12 L524.06,155.12 L524.72,157.07 L525.39,158.99 L526.05,160.85 L526.72,162.66 L527.38,164.41 L528.05,166.10 L528.71,167.72 L529.38,169.26 L530.04,170.72 L530.71,172.10 L531.37,173.39 L532.04,174.59 L532.70,175.68 L533.37,176.65 L534.03,177.51 L534.70,178.26 L535.36,178.89 L536.03,179.41 L536.69,179.79 L537.36,180.05 L538.02,180.18 L538.69,180.16 L539.35,180.01 L540.02,179.71 L540.68,179.28 L541.35,178.71 L542.01,178.01 L542.68,177.18 L543.34,176.22 L544.01,175.15 L544.67,173.95 L545.34,172.61 L546.00,171.15 L546.67,169.59 L547.33,167.91 L548.00,166.13 L548.66,164.25 L549.33,162.28 L549.99,160.21 L550.66,158.07 L551.32,155.86 L551.99,153.59 L552.65,151.26 L553.32,148.88 L553.98,146.47 L554.65,144.02 L555.31,141.54 L555.98,139.04 L556.64,136.51 L557.31,133.95 L557.97,131.37 L558.64,128.78 L559.30,126.17 L559.97,123.54 L560.63,120.90 L561.30,118.26 L561.96,115.60 L562.63,112.95 L563.29,110.29 L563.96,107.63 L564.62,104.97 L565.29,102.32 L565.95,99.67 L566.62,97.04 L567.28,94.42 L567.95,91.81 L568.61,89.23 L569.28,86.66 L569.94,84.11 L570.61,81.60 L571.27,79.11 L571.94,76.65 L572.60,74.24 L573.27,71.86 L573.93,69.52 L574.60,67.23 L575.27,64.98 L575.93,62.78 L576.60,60.64 L577.26,58.55 L577.93,56.52 L578.59,54.55 L579.26,52.65 L579.92,50.81 L580.59,49.04 L581.25,47.33 L581.92,45.67 L582.58,44.08 L583.25,42.54 L583.91,41.06 L584.58,39.62 L585.24,38.24 L585.91,36.90 L586.57,35.61 L587.24,34.37 L587.90,33.16 L588.57,31.99 L589.23,30.87 L589.90,29.77 L590.56,28.71 L591.23,27.69 L591.89,26.69 L592.56,25.73 L593.22,24.79 L593.89,23.89 L594.55,23.01 L595.22,22.16 L595.88,21.35 L596.55,20.56 L597.21,19.79 L597.88,19.06 L598.54,18.35 L599.21,17.66 L599.87,17.00 L600.54,16.37 L601.20,15.76 L601.87,15.18 L602.53,14.61 L603.20,14.08 L603.86,13.56 L604.53,13.06 L605.19,12.59 L605.86,12.14 L606.52,11.71 L607.19,11.30 L607.85,10.91 L608.52,10.53 L609.18,10.18 L609.85,9.84 L610.51,9.52 L611.18,9.22 L611.84,8.94 L612.51,8.67 L613.17,8.41 L613.84,8.18 L614.50,7.95 L615.17,7.74 L615.83,7.55 L616.50,7.36 L617.16,7.19 L617.83,7.04 L618.49,6.89 L619.16,6.75 L619.82,6.63 L620.49,6.52 L621.15,6.41 L621.82,6.32 L622.48,6.23 L623.15,6.15 L623.81,6.08 L624.48,6.02 L625.14,5.96 L625.81,5.91 L626.47,5.86 L627.14,5.82 L627.80,5.79 L628.47,5.76 L629.13,5.73 L629.80,5.71 L630.47,5.69 L631.13,5.67 L631.80,5.65 L632.46,5.64 L633.13,5.63 L633.79,5.62 L634.46,5.61 L635.12,5.61 L635.79,5.61 L636.45,5.61 L637.12,5.62 L637.78,5.62 L638.45,5.64 L639.11,5.65 L639.78,5.66 L640.44,5.68 L641.11,5.70 L641.77,5.73 L642.44,5.76 L643.10,5.79 L643.77,5.82 L644.43,5.86 L645.10,5.90 L645.76,5.94 L646.43,5.98 L647.09,6.03 L647.76,6.08 L648.42,6.14 L649.09,6.20 L649.75,6.26 L650.42,6.32 L651.08,6.39 L651.75,6.46 L652.41,6.54 L653.08,6.61 L653.74,6.69 L654.41,6.78 L655.07,6.87 L655.74,6.96 L656.40,7.05 L657.07,7.15 L657.73,7.25 L658.40,7.36 L659.06,7.47 L659.73,7.58 L660.39,7.70 L661.06,7.82 L661.72,7.94 L662.39,8.07 L663.05,8.20 L663.72,8.34 L664.38,8.48 L665.05,8.62 L665.71,8.77 L666.38,8.92 L667.04,9.07 L667.71,9.23 L668.37,9.40 L669.04,9.56 L669.70,9.73 L670.37,9.91 L671.03,10.09 L671.70,10.27 L672.36,10.46 L673.03,10.65 L673.69,10.85 L674.36,11.05 L675.02,11.25 L675.69,11.46 L676.35,11.67 L677.02,11.89 L677.68,12.11 L678.35,12.34 L679.01,12.57 L679.68,12.80 L680.34,13.04 L681.01,13.29 L681.67,13.54 L682.34,13.78 L683.00,13.78 L683.67,13.78 L684.33,13.78 L685.00,13.78" stroke="#f22a14" stroke-dasharray="6 4.5"/>
</g>
<rect x="412.05" y="4.60" width="270.25" height="209.70" fill="none" stroke="#262626" stroke-width="1.85"/>
<path d="M412.05,34.56h3.80M682.30,34.56h-3.80M412.05,64.51h3.80M682.30,64.51h-3.80M412.05,94.47h3.80M682.30,94.47h-3.80M412.05,124.43h3.80M682.30,124.43h-3.80M412.05,154.39h3.80M682.30,154.39h-3.80M412.05,184.34h3.80M682.30,184.34h-3.80M479.61,214.30v-3.80M479.61,4.60v3.80M547.17,214.30v-3.80M547.17,4.60v3.80M614.74,214.30v-3.80M614.74,4.60v3.80" stroke="#262626" stroke-width="1.8" fill="none"/>
<g font-family='"Liberation Sans", sans-serif' font-size="14.0" fill="#262626">
<text x="407.05" y="40.26" text-anchor="end">-0.05</text>
<text x="407.05" y="70.21" text-anchor="end">-0.1</text>
<text x="407.05" y="100.17" text-anchor="end">-0.15</text>
<text x="407.05" y="130.13" text-anchor="end">-0.2</text>
<text x="407.05" y="160.09" text-anchor="end">-0.25</text>
<text x="407.05" y="190.04" text-anchor="end">-0.3</text>
<text x="407.05" y="220.00" text-anchor="end">-0.35</text>
<text x="412.05" y="232.90" text-anchor="middle">-2</text>
<text x="479.61" y="232.90" text-anchor="middle">-1</text>
<text x="547.17" y="232.90" text-anchor="middle">0</text>
<text x="614.74" y="232.90" text-anchor="middle">1</text>
<text x="682.30" y="232.90" text-anchor="middle">2</text>
<text transform="translate(370.85,106.95) rotate(-90)" text-anchor="middle" font-style="italic">Sk</text>
</g>
<text x="547.67" y="250.30" text-anchor="middle" font-family='"Liberation Serif", serif' font-style="italic" font-size="13.5" fill="#262626">ξ</text>
<rect x="421.10" y="149.80" width="68.15" height="57.05" fill="#fff" stroke="#262626" stroke-width="1.8"/>
<path d="M425.10,160.00H450.70" stroke="#2342e6" stroke-width="1.7"/>
<text x="452.70" y="164.50" font-family='"Liberation Sans", sans-serif' font-size="10" fill="#000"><tspan font-family='"Liberation Serif", serif' font-style="italic" font-size="11">β</tspan> = 0.4</text>
<path d="M425.10,178.10H450.70" stroke="#55e64c" stroke-width="1.7"/>
<text x="452.70" y="182.60" font-family='"Liberation Sans", sans-serif' font-size="10" fill="#000"><tspan font-family='"Liberation Serif", serif' font-style="italic" font-size="11">β</tspan> = 0.8</text>
<path d="M425.10,195.80H450.70" stroke="#f22a14" stroke-width="1.7"/>
<text x="452.70" y="200.30" font-family='"Liberation Sans", sans-serif' font-size="10" fill="#000"><tspan font-family='"Liberation Serif", serif' font-style="italic" font-size="11">β</tspan> = 1.2</text>
<text x="589.00" y="181.00" font-family='"Liberation Sans", sans-serif' font-size="10.2" letter-spacing="0.1" fill="#000">__Fe<tspan font-size="7.8" dy="5.2">3</tspan><tspan dy="-5.2">O</tspan><tspan font-size="7.8" dy="5.2">4</tspan><tspan dy="-5.2"></tspan></text>
<text x="589.00" y="199.60" font-family='"Liberation Sans", sans-serif' font-size="10.2" letter-spacing="0.1" fill="#000">---Fe<tspan font-size="7.8" dy="5.2">3</tspan><tspan dy="-5.2">O</tspan><tspan font-size="7.8" dy="5.2">4</tspan><tspan dy="-5.2">-MWCNT</tspan></text>
<text x="543.20" y="302.20" text-anchor="middle" font-family='"Liberation Serif", serif' font-size="20" fill="#000">(b)</text>
<clipPath id="clipc"><rect x="43.45" y="356.30" width="277.85" height="209.60"/></clipPath>
<g clip-path="url(#clipc)" fill="none" stroke-width="1.7" stroke-linejoin="round">
<path d="M40.40,368.14 L41.07,368.14 L41.73,368.14 L42.40,368.14 L43.06,368.14 L43.73,368.24 L44.40,368.43 L45.06,368.62 L45.73,368.81 L46.39,369.00 L47.06,369.20 L47.73,369.39 L48.39,369.58 L49.06,369.78 L49.72,369.97 L50.39,370.17 L51.06,370.37 L51.72,370.57 L52.39,370.77 L53.05,370.97 L53.72,371.17 L54.39,371.37 L55.05,371.57 L55.72,371.78 L56.38,371.99 L57.05,372.19 L57.72,372.40 L58.38,372.61 L59.05,372.82 L59.71,373.04 L60.38,373.25 L61.04,373.47 L61.71,373.69 L62.38,373.91 L63.04,374.13 L63.71,374.36 L64.37,374.58 L65.04,374.81 L65.71,375.04 L66.37,375.28 L67.04,375.51 L67.70,375.75 L68.37,375.99 L69.04,376.23 L69.70,376.47 L70.37,376.72 L71.03,376.97 L71.70,377.22 L72.37,377.48 L73.03,377.73 L73.70,377.99 L74.36,378.26 L75.03,378.52 L75.70,378.79 L76.36,379.06 L77.03,379.34 L77.69,379.62 L78.36,379.90 L79.03,380.18 L79.69,380.47 L80.36,380.76 L81.02,381.05 L81.69,381.35 L82.36,381.65 L83.02,381.95 L83.69,382.26 L84.35,382.57 L85.02,382.89 L85.69,383.21 L86.35,383.53 L87.02,383.86 L87.68,384.19 L88.35,384.52 L89.02,384.86 L89.68,385.20 L90.35,385.55 L91.01,385.90 L91.68,386.26 L92.35,386.62 L93.01,386.98 L93.68,387.35 L94.34,387.72 L95.01,388.10 L95.67,388.48 L96.34,388.87 L97.01,389.26 L97.67,389.66 L98.34,390.06 L99.00,390.47 L99.67,390.89 L100.34,391.32 L101.00,391.76 L101.67,392.21 L102.33,392.67 L103.00,393.14 L103.67,393.62 L104.33,394.11 L105.00,394.62 L105.66,395.14 L106.33,395.67 L107.00,396.22 L107.66,396.79 L108.33,397.37 L108.99,397.97 L109.66,398.58 L110.33,399.22 L110.99,399.87 L111.66,400.54 L112.32,401.24 L112.99,401.95 L113.66,402.68 L114.32,403.44 L114.99,404.22 L115.65,405.02 L116.32,405.85 L116.99,406.70 L117.65,407.57 L118.32,408.47 L118.98,409.39 L119.65,410.34 L120.32,411.32 L120.98,412.32 L121.65,413.35 L122.31,414.41 L122.98,415.49 L123.65,416.60 L124.31,417.74 L124.98,418.92 L125.64,420.12 L126.31,421.35 L126.98,422.61 L127.64,423.90 L128.31,425.23 L128.97,426.58 L129.64,427.97 L130.30,429.39 L130.97,430.85 L131.64,432.34 L132.30,433.86 L132.97,435.42 L133.63,437.01 L134.30,438.64 L134.97,440.30 L135.63,441.99 L136.30,443.72 L136.96,445.47 L137.63,447.25 L138.30,449.06 L138.96,450.90 L139.63,452.76 L140.29,454.65 L140.96,456.55 L141.63,458.48 L142.29,460.43 L142.96,462.40 L143.62,464.38 L144.29,466.38 L144.96,468.40 L145.62,470.43 L146.29,472.47 L146.95,474.53 L147.62,476.59 L148.29,478.66 L148.95,480.75 L149.62,482.83 L150.28,484.93 L150.95,487.02 L151.62,489.12 L152.28,491.22 L152.95,493.31 L153.61,495.40 L154.28,497.49 L154.95,499.56 L155.61,501.61 L156.28,503.65 L156.94,505.67 L157.61,507.66 L158.28,509.64 L158.94,511.58 L159.61,513.49 L160.27,515.37 L160.94,517.21 L161.61,519.02 L162.27,520.78 L162.94,522.50 L163.60,524.17 L164.27,525.79 L164.93,527.35 L165.60,528.87 L166.27,530.32 L166.93,531.71 L167.60,533.03 L168.26,534.28 L168.93,535.44 L169.60,536.50 L170.26,537.46 L170.93,538.30 L171.59,539.02 L172.26,539.61 L172.93,540.06 L173.59,540.36 L174.26,540.52 L174.92,540.55 L175.59,540.44 L176.26,540.20 L176.92,539.84 L177.59,539.35 L178.25,538.75 L178.92,538.03 L179.59,537.19 L180.25,536.25 L180.92,535.20 L181.58,534.05 L182.25,532.80 L182.92,531.45 L183.58,530.01 L184.25,528.49 L184.91,526.88 L185.58,525.19 L186.25,523.42 L186.91,521.58 L187.58,519.67 L188.24,517.69 L188.91,515.64 L189.58,513.54 L190.24,511.38 L190.91,509.16 L191.57,506.90 L192.24,504.59 L192.91,502.24 L193.57,499.85 L194.24,497.42 L194.90,494.96 L195.57,492.47 L196.24,489.96 L196.90,487.42 L197.57,484.86 L198.23,482.29 L198.90,479.70 L199.57,477.10 L200.23,474.49 L200.90,471.88 L201.56,469.26 L202.23,466.65 L202.89,464.03 L203.56,461.43 L204.23,458.83 L204.89,456.24 L205.56,453.67 L206.22,451.12 L206.89,448.58 L207.56,446.07 L208.22,443.59 L208.89,441.13 L209.55,438.71 L210.22,436.32 L210.89,433.97 L211.55,431.66 L212.22,429.40 L212.88,427.18 L213.55,425.01 L214.22,422.89 L214.88,420.82 L215.55,418.81 L216.21,416.84 L216.88,414.93 L217.55,413.06 L218.21,411.25 L218.88,409.48 L219.54,407.76 L220.21,406.09 L220.88,404.46 L221.54,402.88 L222.21,401.34 L222.87,399.85 L223.54,398.40 L224.21,396.99 L224.87,395.63 L225.54,394.30 L226.20,393.02 L226.87,391.77 L227.54,390.57 L228.20,389.40 L228.87,388.27 L229.53,387.18 L230.20,386.12 L230.87,385.10 L231.53,384.11 L232.20,383.16 L232.86,382.24 L233.53,381.36 L234.20,380.50 L234.86,379.68 L235.53,378.88 L236.19,378.12 L236.86,377.39 L237.52,376.68 L238.19,376.01 L238.86,375.35 L239.52,374.73 L240.19,374.13 L240.85,373.56 L241.52,373.01 L242.19,372.48 L242.85,371.98 L243.52,371.50 L244.18,371.04 L244.85,370.60 L245.52,370.18 L246.18,369.78 L246.85,369.40 L247.51,369.04 L248.18,368.69 L248.85,368.36 L249.51,368.05 L250.18,367.75 L250.84,367.47 L251.51,367.20 L252.18,366.94 L252.84,366.70 L253.51,366.46 L254.17,366.24 L254.84,366.03 L255.51,365.83 L256.17,365.63 L256.84,365.45 L257.50,365.27 L258.17,365.10 L258.84,364.93 L259.50,364.77 L260.17,364.61 L260.83,364.46 L261.50,364.31 L262.17,364.17 L262.83,364.03 L263.50,363.89 L264.16,363.75 L264.83,363.61 L265.50,363.48 L266.16,363.36 L266.83,363.23 L267.49,363.11 L268.16,362.99 L268.83,362.88 L269.49,362.77 L270.16,362.66 L270.82,362.55 L271.49,362.45 L272.15,362.35 L272.82,362.26 L273.49,362.17 L274.15,362.08 L274.82,362.00 L275.48,361.92 L276.15,361.84 L276.82,361.77 L277.48,361.70 L278.15,361.63 L278.81,361.57 L279.48,361.51 L280.15,361.46 L280.81,361.41 L281.48,361.36 L282.14,361.32 L282.81,361.28 L283.48,361.25 L284.14,361.22 L284.81,361.19 L285.47,361.17 L286.14,361.15 L286.81,361.14 L287.47,361.13 L288.14,361.12 L288.80,361.12 L289.47,361.13 L290.14,361.14 L290.80,361.15 L291.47,361.17 L292.13,361.19 L292.80,361.21 L293.47,361.24 L294.13,361.28 L294.80,361.32 L295.46,361.36 L296.13,361.41 L296.80,361.47 L297.46,361.53 L298.13,361.59 L298.79,361.66 L299.46,361.73 L300.13,361.81 L300.79,361.89 L301.46,361.98 L302.12,362.08 L302.79,362.17 L303.46,362.28 L304.12,362.39 L304.79,362.50 L305.45,362.62 L306.12,362.74 L306.78,362.87 L307.45,363.01 L308.12,363.15 L308.78,363.29 L309.45,363.45 L310.11,363.60 L310.78,363.76 L311.45,363.93 L312.11,364.10 L312.78,364.28 L313.44,364.47 L314.11,364.66 L314.78,364.85 L315.44,365.05 L316.11,365.26 L316.77,365.47 L317.44,365.69 L318.11,365.92 L318.77,366.15 L319.44,366.39 L320.10,366.63 L320.77,366.88 L321.44,367.00 L322.10,367.00 L322.77,367.00 L323.43,367.00 L324.10,367.00" stroke="#2342e6"/>
<path d="M40.40,366.15 L41.07,366.15 L41.73,366.15 L42.40,366.15 L43.06,366.15 L43.73,366.19 L44.40,366.28 L45.06,366.37 L45.73,366.46 L46.39,366.55 L47.06,366.64 L47.73,366.73 L48.39,366.83 L49.06,366.92 L49.72,367.01 L50.39,367.10 L51.06,367.20 L51.72,367.29 L52.39,367.39 L53.05,367.48 L53.72,367.58 L54.39,367.68 L55.05,367.78 L55.72,367.88 L56.38,367.99 L57.05,368.09 L57.72,368.20 L58.38,368.31 L59.05,368.42 L59.71,368.53 L60.38,368.65 L61.04,368.77 L61.71,368.89 L62.38,369.01 L63.04,369.13 L63.71,369.26 L64.37,369.39 L65.04,369.52 L65.71,369.66 L66.37,369.79 L67.04,369.94 L67.70,370.08 L68.37,370.23 L69.04,370.38 L69.70,370.53 L70.37,370.69 L71.03,370.85 L71.70,371.02 L72.37,371.19 L73.03,371.36 L73.70,371.54 L74.36,371.72 L75.03,371.90 L75.70,372.09 L76.36,372.28 L77.03,372.48 L77.69,372.68 L78.36,372.89 L79.03,373.10 L79.69,373.32 L80.36,373.54 L81.02,373.77 L81.69,374.00 L82.36,374.23 L83.02,374.48 L83.69,374.72 L84.35,374.98 L85.02,375.23 L85.69,375.50 L86.35,375.77 L87.02,376.04 L87.68,376.32 L88.35,376.61 L89.02,376.90 L89.68,377.20 L90.35,377.51 L91.01,377.82 L91.68,378.14 L92.35,378.46 L93.01,378.80 L93.68,379.13 L94.34,379.48 L95.01,379.83 L95.67,380.19 L96.34,380.56 L97.01,380.93 L97.67,381.31 L98.34,381.70 L99.00,382.09 L99.67,382.50 L100.34,382.91 L101.00,383.32 L101.67,383.75 L102.33,384.18 L103.00,384.63 L103.67,385.08 L104.33,385.53 L105.00,386.00 L105.66,386.48 L106.33,386.96 L107.00,387.45 L107.66,387.95 L108.33,388.46 L108.99,388.98 L109.66,389.51 L110.33,390.04 L110.99,390.59 L111.66,391.14 L112.32,391.71 L112.99,392.28 L113.66,392.86 L114.32,393.46 L114.99,394.06 L115.65,394.67 L116.32,395.30 L116.99,395.93 L117.65,396.58 L118.32,397.25 L118.98,397.93 L119.65,398.63 L120.32,399.34 L120.98,400.07 L121.65,400.82 L122.31,401.59 L122.98,402.38 L123.65,403.19 L124.31,404.02 L124.98,404.87 L125.64,405.75 L126.31,406.65 L126.98,407.58 L127.64,408.53 L128.31,409.51 L128.97,410.52 L129.64,411.56 L130.30,412.62 L130.97,413.72 L131.64,414.85 L132.30,416.01 L132.97,417.20 L133.63,418.43 L134.30,419.69 L134.97,420.98 L135.63,422.32 L136.30,423.69 L136.96,425.09 L137.63,426.54 L138.30,428.03 L138.96,429.55 L139.63,431.12 L140.29,432.73 L140.96,434.37 L141.63,436.05 L142.29,437.77 L142.96,439.51 L143.62,441.28 L144.29,443.07 L144.96,444.88 L145.62,446.71 L146.29,448.55 L146.95,450.41 L147.62,452.27 L148.29,454.14 L148.95,456.02 L149.62,457.89 L150.28,459.76 L150.95,461.62 L151.62,463.47 L152.28,465.32 L152.95,467.14 L153.61,468.95 L154.28,470.74 L154.95,472.51 L155.61,474.25 L156.28,475.96 L156.94,477.63 L157.61,479.27 L158.28,480.88 L158.94,482.44 L159.61,483.96 L160.27,485.43 L160.94,486.85 L161.61,488.21 L162.27,489.53 L162.94,490.78 L163.60,491.97 L164.27,493.10 L164.93,494.15 L165.60,495.14 L166.27,496.06 L166.93,496.90 L167.60,497.68 L168.26,498.38 L168.93,499.00 L169.60,499.56 L170.26,500.05 L170.93,500.46 L171.59,500.80 L172.26,501.08 L172.93,501.28 L173.59,501.41 L174.26,501.46 L174.92,501.45 L175.59,501.37 L176.26,501.21 L176.92,500.99 L177.59,500.69 L178.25,500.33 L178.92,499.89 L179.59,499.38 L180.25,498.81 L180.92,498.16 L181.58,497.44 L182.25,496.66 L182.92,495.80 L183.58,494.87 L184.25,493.88 L184.91,492.81 L185.58,491.68 L186.25,490.47 L186.91,489.20 L187.58,487.85 L188.24,486.44 L188.91,484.96 L189.58,483.41 L190.24,481.79 L190.91,480.10 L191.57,478.35 L192.24,476.52 L192.91,474.63 L193.57,472.68 L194.24,470.67 L194.90,468.61 L195.57,466.51 L196.24,464.38 L196.90,462.23 L197.57,460.05 L198.23,457.86 L198.90,455.67 L199.57,453.48 L200.23,451.30 L200.90,449.13 L201.56,446.97 L202.23,444.83 L202.89,442.70 L203.56,440.60 L204.23,438.53 L204.89,436.48 L205.56,434.46 L206.22,432.47 L206.89,430.51 L207.56,428.58 L208.22,426.68 L208.89,424.81 L209.55,422.98 L210.22,421.18 L210.89,419.41 L211.55,417.68 L212.22,415.98 L212.88,414.31 L213.55,412.68 L214.22,411.09 L214.88,409.53 L215.55,408.01 L216.21,406.53 L216.88,405.08 L217.55,403.67 L218.21,402.30 L218.88,400.96 L219.54,399.65 L220.21,398.38 L220.88,397.14 L221.54,395.94 L222.21,394.77 L222.87,393.63 L223.54,392.52 L224.21,391.44 L224.87,390.40 L225.54,389.38 L226.20,388.39 L226.87,387.43 L227.54,386.50 L228.20,385.60 L228.87,384.73 L229.53,383.88 L230.20,383.06 L230.87,382.26 L231.53,381.49 L232.20,380.75 L232.86,380.03 L233.53,379.33 L234.20,378.65 L234.86,378.00 L235.53,377.37 L236.19,376.77 L236.86,376.18 L237.52,375.61 L238.19,375.07 L238.86,374.54 L239.52,374.04 L240.19,373.55 L240.85,373.08 L241.52,372.63 L242.19,372.19 L242.85,371.77 L243.52,371.37 L244.18,370.98 L244.85,370.61 L245.52,370.25 L246.18,369.91 L246.85,369.58 L247.51,369.26 L248.18,368.96 L248.85,368.66 L249.51,368.38 L250.18,368.11 L250.84,367.85 L251.51,367.60 L252.18,367.36 L252.84,367.13 L253.51,366.90 L254.17,366.69 L254.84,366.48 L255.51,366.28 L256.17,366.09 L256.84,365.90 L257.50,365.72 L258.17,365.55 L258.84,365.38 L259.50,365.22 L260.17,365.07 L260.83,364.93 L261.50,364.79 L262.17,364.65 L262.83,364.53 L263.50,364.41 L264.16,364.29 L264.83,364.19 L265.50,364.08 L266.16,363.99 L266.83,363.90 L267.49,363.81 L268.16,363.73 L268.83,363.66 L269.49,363.59 L270.16,363.53 L270.82,363.47 L271.49,363.42 L272.15,363.37 L272.82,363.33 L273.49,363.29 L274.15,363.25 L274.82,363.22 L275.48,363.20 L276.15,363.18 L276.82,363.16 L277.48,363.15 L278.15,363.14 L278.81,363.13 L279.48,363.13 L280.15,363.14 L280.81,363.14 L281.48,363.15 L282.14,363.17 L282.81,363.18 L283.48,363.20 L284.14,363.23 L284.81,363.25 L285.47,363.28 L286.14,363.31 L286.81,363.35 L287.47,363.39 L288.14,363.43 L288.80,363.47 L289.47,363.51 L290.14,363.56 L290.80,363.61 L291.47,363.66 L292.13,363.71 L292.80,363.77 L293.47,363.82 L294.13,363.88 L294.80,363.94 L295.46,364.00 L296.13,364.06 L296.80,364.13 L297.46,364.19 L298.13,364.26 L298.79,364.32 L299.46,364.39 L300.13,364.46 L300.79,364.53 L301.46,364.59 L302.12,364.66 L302.79,364.73 L303.46,364.80 L304.12,364.87 L304.79,364.94 L305.45,365.01 L306.12,365.08 L306.78,365.15 L307.45,365.22 L308.12,365.29 L308.78,365.36 L309.45,365.43 L310.11,365.49 L310.78,365.56 L311.45,365.62 L312.11,365.69 L312.78,365.75 L313.44,365.81 L314.11,365.87 L314.78,365.93 L315.44,365.99 L316.11,366.04 L316.77,366.10 L317.44,366.15 L318.11,366.20 L318.77,366.24 L319.44,366.29 L320.10,366.33 L320.77,366.37 L321.44,366.39 L322.10,366.39 L322.77,366.39 L323.43,366.39 L324.10,366.39" stroke="#55e64c"/>
<path d="M40.40,363.18 L41.07,363.18 L41.73,363.18 L42.40,363.18 L43.06,363.18 L43.73,363.26 L44.40,363.42 L45.06,363.57 L45.73,363.72 L46.39,363.86 L47.06,363.99 L47.73,364.12 L48.39,364.25 L49.06,364.37 L49.72,364.49 L50.39,364.60 L51.06,364.71 L51.72,364.82 L52.39,364.92 L53.05,365.02 L53.72,365.12 L54.39,365.21 L55.05,365.30 L55.72,365.38 L56.38,365.47 L57.05,365.55 L57.72,365.63 L58.38,365.71 L59.05,365.78 L59.71,365.85 L60.38,365.92 L61.04,365.99 L61.71,366.06 L62.38,366.13 L63.04,366.20 L63.71,366.26 L64.37,366.33 L65.04,366.39 L65.71,366.46 L66.37,366.52 L67.04,366.59 L67.70,366.65 L68.37,366.72 L69.04,366.78 L69.70,366.85 L70.37,366.92 L71.03,366.99 L71.70,367.06 L72.37,367.13 L73.03,367.20 L73.70,367.28 L74.36,367.35 L75.03,367.43 L75.70,367.51 L76.36,367.59 L77.03,367.68 L77.69,367.77 L78.36,367.86 L79.03,367.95 L79.69,368.05 L80.36,368.15 L81.02,368.26 L81.69,368.37 L82.36,368.48 L83.02,368.60 L83.69,368.72 L84.35,368.84 L85.02,368.97 L85.69,369.11 L86.35,369.25 L87.02,369.39 L87.68,369.54 L88.35,369.70 L89.02,369.86 L89.68,370.02 L90.35,370.20 L91.01,370.38 L91.68,370.56 L92.35,370.75 L93.01,370.95 L93.68,371.16 L94.34,371.37 L95.01,371.59 L95.67,371.81 L96.34,372.05 L97.01,372.29 L97.67,372.54 L98.34,372.80 L99.00,373.06 L99.67,373.34 L100.34,373.62 L101.00,373.91 L101.67,374.21 L102.33,374.52 L103.00,374.83 L103.67,375.16 L104.33,375.50 L105.00,375.84 L105.66,376.20 L106.33,376.57 L107.00,376.94 L107.66,377.33 L108.33,377.73 L108.99,378.13 L109.66,378.55 L110.33,378.98 L110.99,379.42 L111.66,379.88 L112.32,380.34 L112.99,380.81 L113.66,381.30 L114.32,381.80 L114.99,382.31 L115.65,382.84 L116.32,383.37 L116.99,383.92 L117.65,384.48 L118.32,385.06 L118.98,385.64 L119.65,386.25 L120.32,386.86 L120.98,387.49 L121.65,388.13 L122.31,388.79 L122.98,389.46 L123.65,390.14 L124.31,390.84 L124.98,391.56 L125.64,392.28 L126.31,393.03 L126.98,393.78 L127.64,394.56 L128.31,395.34 L128.97,396.14 L129.64,396.96 L130.30,397.79 L130.97,398.63 L131.64,399.49 L132.30,400.36 L132.97,401.24 L133.63,402.14 L134.30,403.05 L134.97,403.98 L135.63,404.92 L136.30,405.88 L136.96,406.84 L137.63,407.83 L138.30,408.82 L138.96,409.83 L139.63,410.85 L140.29,411.89 L140.96,412.94 L141.63,414.00 L142.29,415.07 L142.96,416.16 L143.62,417.27 L144.29,418.38 L144.96,419.51 L145.62,420.65 L146.29,421.80 L146.95,422.97 L147.62,424.15 L148.29,425.34 L148.95,426.55 L149.62,427.77 L150.28,429.00 L150.95,430.24 L151.62,431.49 L152.28,432.75 L152.95,434.01 L153.61,435.28 L154.28,436.54 L154.95,437.80 L155.61,439.06 L156.28,440.30 L156.94,441.54 L157.61,442.76 L158.28,443.97 L158.94,445.15 L159.61,446.32 L160.27,447.46 L160.94,448.58 L161.61,449.66 L162.27,450.72 L162.94,451.74 L163.60,452.73 L164.27,453.69 L164.93,454.61 L165.60,455.49 L166.27,456.33 L166.93,457.13 L167.60,457.89 L168.26,458.61 L168.93,459.28 L169.60,459.90 L170.26,460.48 L170.93,461.00 L171.59,461.48 L172.26,461.91 L172.93,462.28 L173.59,462.59 L174.26,462.85 L174.92,463.05 L175.59,463.20 L176.26,463.28 L176.92,463.30 L177.59,463.26 L178.25,463.15 L178.92,462.97 L179.59,462.73 L180.25,462.42 L180.92,462.04 L181.58,461.59 L182.25,461.07 L182.92,460.48 L183.58,459.84 L184.25,459.13 L184.91,458.37 L185.58,457.55 L186.25,456.68 L186.91,455.76 L187.58,454.79 L188.24,453.77 L188.91,452.71 L189.58,451.61 L190.24,450.47 L190.91,449.30 L191.57,448.09 L192.24,446.85 L192.91,445.59 L193.57,444.29 L194.24,442.97 L194.90,441.63 L195.57,440.27 L196.24,438.90 L196.90,437.51 L197.57,436.10 L198.23,434.69 L198.90,433.27 L199.57,431.85 L200.23,430.42 L200.90,428.99 L201.56,427.57 L202.23,426.15 L202.89,424.73 L203.56,423.32 L204.23,421.91 L204.89,420.51 L205.56,419.12 L206.22,417.73 L206.89,416.36 L207.56,414.99 L208.22,413.62 L208.89,412.27 L209.55,410.93 L210.22,409.60 L210.89,408.28 L211.55,406.98 L212.22,405.68 L212.88,404.40 L213.55,403.13 L214.22,401.88 L214.88,400.64 L215.55,399.42 L216.21,398.21 L216.88,397.02 L217.55,395.84 L218.21,394.69 L218.88,393.55 L219.54,392.43 L220.21,391.33 L220.88,390.25 L221.54,389.19 L222.21,388.16 L222.87,387.14 L223.54,386.15 L224.21,385.18 L224.87,384.23 L225.54,383.31 L226.20,382.41 L226.87,381.54 L227.54,380.70 L228.20,379.88 L228.87,379.08 L229.53,378.32 L230.20,377.58 L230.87,376.87 L231.53,376.18 L232.20,375.51 L232.86,374.88 L233.53,374.26 L234.20,373.67 L234.86,373.10 L235.53,372.55 L236.19,372.03 L236.86,371.52 L237.52,371.04 L238.19,370.58 L238.86,370.14 L239.52,369.71 L240.19,369.31 L240.85,368.92 L241.52,368.55 L242.19,368.20 L242.85,367.87 L243.52,367.55 L244.18,367.25 L244.85,366.97 L245.52,366.70 L246.18,366.44 L246.85,366.20 L247.51,365.97 L248.18,365.75 L248.85,365.55 L249.51,365.36 L250.18,365.18 L250.84,365.01 L251.51,364.85 L252.18,364.71 L252.84,364.57 L253.51,364.44 L254.17,364.32 L254.84,364.20 L255.51,364.10 L256.17,364.00 L256.84,363.91 L257.50,363.83 L258.17,363.75 L258.84,363.67 L259.50,363.60 L260.17,363.54 L260.83,363.47 L261.50,363.42 L262.17,363.36 L262.83,363.31 L263.50,363.25 L264.16,363.20 L264.83,363.15 L265.50,363.10 L266.16,363.05 L266.83,363.00 L267.49,362.95 L268.16,362.91 L268.83,362.86 L269.49,362.81 L270.16,362.76 L270.82,362.72 L271.49,362.67 L272.15,362.63 L272.82,362.58 L273.49,362.54 L274.15,362.50 L274.82,362.45 L275.48,362.41 L276.15,362.37 L276.82,362.33 L277.48,362.30 L278.15,362.26 L278.81,362.22 L279.48,362.19 L280.15,362.16 L280.81,362.12 L281.48,362.09 L282.14,362.06 L282.81,362.03 L283.48,362.01 L284.14,361.98 L284.81,361.96 L285.47,361.94 L286.14,361.91 L286.81,361.90 L287.47,361.88 L288.14,361.86 L288.80,361.85 L289.47,361.84 L290.14,361.83 L290.80,361.82 L291.47,361.81 L292.13,361.81 L292.80,361.80 L293.47,361.80 L294.13,361.80 L294.80,361.81 L295.46,361.81 L296.13,361.82 L296.80,361.83 L297.46,361.84 L298.13,361.86 L298.79,361.88 L299.46,361.89 L300.13,361.92 L300.79,361.94 L301.46,361.97 L302.12,362.00 L302.79,362.03 L303.46,362.07 L304.12,362.10 L304.79,362.14 L305.45,362.19 L306.12,362.23 L306.78,362.28 L307.45,362.34 L308.12,362.39 L308.78,362.45 L309.45,362.51 L310.11,362.58 L310.78,362.64 L311.45,362.71 L312.11,362.79 L312.78,362.86 L313.44,362.95 L314.11,363.03 L314.78,363.12 L315.44,363.21 L316.11,363.30 L316.77,363.40 L317.44,363.50 L318.11,363.61 L318.77,363.72 L319.44,363.83 L320.10,363.94 L320.77,364.06 L321.44,364.13 L322.10,364.13 L322.77,364.13 L323.43,364.13 L324.10,364.13" stroke="#f22a14"/>
<path d="M40.40,368.14 L41.07,368.14 L41.73,368.14 L42.40,368.14 L43.06,368.14 L43.73,368.24 L44.40,368.43 L45.06,368.62 L45.73,368.81 L46.39,369.00 L47.06,369.20 L47.73,369.39 L48.39,369.58 L49.06,369.78 L49.72,369.97 L50.39,370.17 L51.06,370.37 L51.72,370.57 L52.39,370.77 L53.05,370.97 L53.72,371.17 L54.39,371.37 L55.05,371.57 L55.72,371.78 L56.38,371.99 L57.05,372.19 L57.72,372.40 L58.38,372.61 L59.05,372.82 L59.71,373.04 L60.38,373.25 L61.04,373.47 L61.71,373.69 L62.38,373.91 L63.04,374.13 L63.71,374.36 L64.37,374.58 L65.04,374.81 L65.71,375.04 L66.37,375.28 L67.04,375.51 L67.70,375.75 L68.37,375.99 L69.04,376.23 L69.70,376.47 L70.37,376.72 L71.03,376.97 L71.70,377.22 L72.37,377.48 L73.03,377.73 L73.70,377.99 L74.36,378.26 L75.03,378.52 L75.70,378.79 L76.36,379.06 L77.03,379.34 L77.69,379.62 L78.36,379.90 L79.03,380.18 L79.69,380.47 L80.36,380.76 L81.02,381.05 L81.69,381.35 L82.36,381.65 L83.02,381.95 L83.69,382.26 L84.35,382.57 L85.02,382.89 L85.69,383.21 L86.35,383.53 L87.02,383.86 L87.68,384.19 L88.35,384.52 L89.02,384.86 L89.68,385.20 L90.35,385.55 L91.01,385.90 L91.68,386.26 L92.35,386.62 L93.01,386.98 L93.68,387.35 L94.34,387.72 L95.01,388.10 L95.67,388.48 L96.34,388.87 L97.01,389.26 L97.67,389.66 L98.34,390.06 L99.00,390.47 L99.67,390.89 L100.34,391.32 L101.00,391.76 L101.67,392.21 L102.33,392.67 L103.00,393.14 L103.67,393.62 L104.33,394.11 L105.00,394.62 L105.66,395.14 L106.33,395.67 L107.00,396.22 L107.66,396.79 L108.33,397.37 L108.99,397.97 L109.66,398.58 L110.33,399.22 L110.99,399.87 L111.66,400.54 L112.32,401.24 L112.99,401.95 L113.66,402.68 L114.32,403.44 L114.99,404.22 L115.65,405.02 L116.32,405.85 L116.99,406.70 L117.65,407.57 L118.32,408.47 L118.98,409.39 L119.65,410.34 L120.32,411.32 L120.98,412.32 L121.65,413.35 L122.31,414.41 L122.98,415.49 L123.65,416.60 L124.31,417.74 L124.98,418.92 L125.64,420.12 L126.31,421.35 L126.98,422.61 L127.64,423.90 L128.31,425.23 L128.97,426.58 L129.64,427.97 L130.30,429.39 L130.97,430.85 L131.64,432.34 L132.30,433.86 L132.97,435.42 L133.63,437.01 L134.30,438.64 L134.97,440.30 L135.63,441.99 L136.30,443.72 L136.96,445.47 L137.63,447.25 L138.30,449.06 L138.96,450.90 L139.63,452.76 L140.29,454.65 L140.96,456.55 L141.63,458.48 L142.29,460.43 L142.96,462.40 L143.62,464.38 L144.29,466.38 L144.96,468.40 L145.62,470.43 L146.29,472.47 L146.95,474.53 L147.62,476.59 L148.29,478.67 L148.95,480.75 L149.62,482.83 L150.28,484.93 L150.95,487.03 L151.62,489.13 L152.28,491.23 L152.95,493.32 L153.61,495.42 L154.28,497.50 L154.95,499.57 L155.61,501.64 L156.28,503.68 L156.94,505.71 L157.61,507.72 L158.28,509.70 L158.94,511.66 L159.61,513.59 L160.27,515.50 L160.94,517.37 L161.61,519.20 L162.27,521.00 L162.94,522.76 L163.60,524.47 L164.27,526.14 L164.93,527.76 L165.60,529.33 L166.27,530.85 L166.93,532.31 L167.60,533.70 L168.26,535.01 L168.93,536.24 L169.60,537.31 L170.26,538.22 L170.93,539.05 L171.59,539.77 L172.26,540.39 L172.93,540.90 L173.59,541.29 L174.26,541.56 L174.92,541.72 L175.59,541.76 L176.26,541.70 L176.92,541.53 L177.59,541.26 L178.25,540.88 L178.92,540.39 L179.59,539.81 L180.25,539.14 L180.92,538.37 L181.58,537.47 L182.25,536.40 L182.92,535.22 L183.58,533.95 L184.25,532.58 L184.91,531.12 L185.58,529.57 L186.25,527.95 L186.91,526.24 L187.58,524.47 L188.24,522.62 L188.91,520.71 L189.58,518.73 L190.24,516.69 L190.91,514.60 L191.57,512.45 L192.24,510.25 L192.91,508.00 L193.57,505.71 L194.24,503.37 L194.90,501.00 L195.57,498.60 L196.24,496.16 L196.90,493.69 L197.57,491.20 L198.23,488.68 L198.90,486.14 L199.57,483.59 L200.23,481.02 L200.90,478.44 L201.56,475.85 L202.23,473.26 L202.89,470.66 L203.56,468.06 L204.23,465.46 L204.89,462.87 L205.56,460.28 L206.22,457.69 L206.89,455.12 L207.56,452.56 L208.22,450.02 L208.89,447.50 L209.55,445.01 L210.22,442.55 L210.89,440.12 L211.55,437.72 L212.22,435.36 L212.88,433.04 L213.55,430.76 L214.22,428.53 L214.88,426.35 L215.55,424.22 L216.21,422.14 L216.88,420.11 L217.55,418.13 L218.21,416.21 L218.88,414.33 L219.54,412.50 L220.21,410.72 L220.88,408.99 L221.54,407.31 L222.21,405.67 L222.87,404.08 L223.54,402.53 L224.21,401.02 L224.87,399.56 L225.54,398.14 L226.20,396.77 L226.87,395.43 L227.54,394.14 L228.20,392.88 L228.87,391.67 L229.53,390.49 L230.20,389.35 L230.87,388.25 L231.53,387.18 L232.20,386.15 L232.86,385.16 L233.53,384.20 L234.20,383.27 L234.86,382.38 L235.53,381.51 L236.19,380.68 L236.86,379.88 L237.52,379.11 L238.19,378.37 L238.86,377.66 L239.52,376.97 L240.19,376.32 L240.85,375.69 L241.52,375.08 L242.19,374.50 L242.85,373.95 L243.52,373.41 L244.18,372.91 L244.85,372.42 L245.52,371.95 L246.18,371.51 L246.85,371.09 L247.51,370.68 L248.18,370.30 L248.85,369.93 L249.51,369.58 L250.18,369.25 L250.84,368.93 L251.51,368.63 L252.18,368.34 L252.84,368.07 L253.51,367.81 L254.17,367.56 L254.84,367.32 L255.51,367.10 L256.17,366.88 L256.84,366.68 L257.50,366.48 L258.17,366.29 L258.84,366.11 L259.50,365.94 L260.17,365.77 L260.83,365.61 L261.50,365.45 L262.17,365.30 L262.83,365.15 L263.50,365.00 L264.16,364.86 L264.83,364.72 L265.50,364.58 L266.16,364.45 L266.83,364.32 L267.49,364.19 L268.16,364.06 L268.83,363.94 L269.49,363.82 L270.16,363.71 L270.82,363.59 L271.49,363.48 L272.15,363.38 L272.82,363.28 L273.49,363.18 L274.15,363.08 L274.82,362.99 L275.48,362.90 L276.15,362.82 L276.82,362.74 L277.48,362.66 L278.15,362.58 L278.81,362.51 L279.48,362.45 L280.15,362.38 L280.81,362.33 L281.48,362.27 L282.14,362.22 L282.81,362.17 L283.48,362.13 L284.14,362.09 L284.81,362.06 L285.47,362.02 L286.14,362.00 L286.81,361.97 L287.47,361.96 L288.14,361.94 L288.80,361.93 L289.47,361.93 L290.14,361.92 L290.80,361.93 L291.47,361.93 L292.13,361.94 L292.80,361.96 L293.47,361.98 L294.13,362.01 L294.80,362.04 L295.46,362.07 L296.13,362.11 L296.80,362.15 L297.46,362.20 L298.13,362.25 L298.79,362.31 L299.46,362.37 L300.13,362.44 L300.79,362.51 L301.46,362.59 L302.12,362.67 L302.79,362.76 L303.46,362.85 L304.12,362.95 L304.79,363.05 L305.45,363.16 L306.12,363.27 L306.78,363.39 L307.45,363.51 L308.12,363.64 L308.78,363.77 L309.45,363.91 L310.11,364.06 L310.78,364.21 L311.45,364.36 L312.11,364.52 L312.78,364.69 L313.44,364.86 L314.11,365.04 L314.78,365.22 L315.44,365.41 L316.11,365.60 L316.77,365.80 L317.44,366.01 L318.11,366.22 L318.77,366.44 L319.44,366.66 L320.10,366.89 L320.77,367.13 L321.44,367.37 L322.10,367.61 L322.77,367.80 L323.43,367.80 L324.10,367.80" stroke="#2342e6" stroke-dasharray="6 4.5"/>
<path d="M40.40,366.15 L41.07,366.15 L41.73,366.15 L42.40,366.15 L43.06,366.15 L43.73,366.19 L44.40,366.28 L45.06,366.37 L45.73,366.46 L46.39,366.55 L47.06,366.64 L47.73,366.73 L48.39,366.83 L49.06,366.92 L49.72,367.01 L50.39,367.10 L51.06,367.20 L51.72,367.29 L52.39,367.39 L53.05,367.48 L53.72,367.58 L54.39,367.68 L55.05,367.78 L55.72,367.88 L56.38,367.99 L57.05,368.09 L57.72,368.20 L58.38,368.31 L59.05,368.42 L59.71,368.53 L60.38,368.65 L61.04,368.77 L61.71,368.89 L62.38,369.01 L63.04,369.13 L63.71,369.26 L64.37,369.39 L65.04,369.52 L65.71,369.66 L66.37,369.79 L67.04,369.94 L67.70,370.08 L68.37,370.23 L69.04,370.38 L69.70,370.53 L70.37,370.69 L71.03,370.85 L71.70,371.02 L72.37,371.19 L73.03,371.36 L73.70,371.54 L74.36,371.72 L75.03,371.90 L75.70,372.09 L76.36,372.28 L77.03,372.48 L77.69,372.68 L78.36,372.89 L79.03,373.10 L79.69,373.32 L80.36,373.54 L81.02,373.77 L81.69,374.00 L82.36,374.23 L83.02,374.48 L83.69,374.72 L84.35,374.98 L85.02,375.23 L85.69,375.50 L86.35,375.77 L87.02,376.04 L87.68,376.32 L88.35,376.61 L89.02,376.90 L89.68,377.20 L90.35,377.51 L91.01,377.82 L91.68,378.14 L92.35,378.46 L93.01,378.80 L93.68,379.13 L94.34,379.48 L95.01,379.83 L95.67,380.19 L96.34,380.56 L97.01,380.93 L97.67,381.31 L98.34,381.70 L99.00,382.09 L99.67,382.50 L100.34,382.91 L101.00,383.32 L101.67,383.75 L102.33,384.18 L103.00,384.63 L103.67,385.08 L104.33,385.53 L105.00,386.00 L105.66,386.48 L106.33,386.96 L107.00,387.45 L107.66,387.95 L108.33,388.46 L108.99,388.98 L109.66,389.51 L110.33,390.04 L110.99,390.59 L111.66,391.14 L112.32,391.71 L112.99,392.28 L113.66,392.86 L114.32,393.46 L114.99,394.06 L115.65,394.67 L116.32,395.30 L116.99,395.93 L117.65,396.58 L118.32,397.25 L118.98,397.93 L119.65,398.63 L120.32,399.34 L120.98,400.07 L121.65,400.82 L122.31,401.59 L122.98,402.38 L123.65,403.19 L124.31,404.02 L124.98,404.87 L125.64,405.75 L126.31,406.65 L126.98,407.58 L127.64,408.53 L128.31,409.51 L128.97,410.52 L129.64,411.56 L130.30,412.62 L130.97,413.72 L131.64,414.85 L132.30,416.01 L132.97,417.20 L133.63,418.43 L134.30,419.69 L134.97,420.98 L135.63,422.32 L136.30,423.69 L136.96,425.09 L137.63,426.54 L138.30,428.03 L138.96,429.55 L139.63,431.12 L140.29,432.73 L140.96,434.37 L141.63,436.05 L142.29,437.77 L142.96,439.51 L143.62,441.28 L144.29,443.07 L144.96,444.88 L145.62,446.71 L146.29,448.56 L146.95,450.41 L147.62,452.28 L148.29,454.14 L148.95,456.02 L149.62,457.89 L150.28,459.76 L150.95,461.62 L151.62,463.48 L152.28,465.32 L152.95,467.15 L153.61,468.97 L154.28,470.76 L154.95,472.53 L155.61,474.28 L156.28,476.00 L156.94,477.68 L157.61,479.34 L158.28,480.96 L158.94,482.54 L159.61,484.08 L160.27,485.58 L160.94,487.04 L161.61,488.44 L162.27,489.80 L162.94,491.10 L163.60,492.35 L164.27,493.54 L164.93,494.67 L165.60,495.73 L166.27,496.72 L166.93,497.65 L167.60,498.50 L168.26,499.29 L168.93,500.00 L169.60,500.63 L170.26,501.16 L170.93,501.62 L171.59,502.02 L172.26,502.35 L172.93,502.61 L173.59,502.80 L174.26,502.92 L174.92,502.96 L175.59,502.94 L176.26,502.86 L176.92,502.71 L177.59,502.48 L178.25,502.18 L178.92,501.82 L179.59,501.38 L180.25,500.88 L180.92,500.32 L181.58,499.67 L182.25,498.92 L182.92,498.10 L183.58,497.21 L184.25,496.26 L184.91,495.24 L185.58,494.15 L186.25,493.00 L186.91,491.78 L187.58,490.50 L188.24,489.16 L188.91,487.76 L189.58,486.29 L190.24,484.76 L190.91,483.16 L191.57,481.50 L192.24,479.77 L192.91,477.98 L193.57,476.13 L194.24,474.21 L194.90,472.24 L195.57,470.21 L196.24,468.15 L196.90,466.05 L197.57,463.92 L198.23,461.76 L198.90,459.60 L199.57,457.42 L200.23,455.25 L200.90,453.08 L201.56,450.91 L202.23,448.77 L202.89,446.63 L203.56,444.52 L204.23,442.43 L204.89,440.35 L205.56,438.30 L206.22,436.27 L206.89,434.26 L207.56,432.29 L208.22,430.34 L208.89,428.43 L209.55,426.55 L210.22,424.70 L210.89,422.88 L211.55,421.09 L212.22,419.34 L212.88,417.63 L213.55,415.94 L214.22,414.30 L214.88,412.69 L215.55,411.11 L216.21,409.57 L216.88,408.07 L217.55,406.60 L218.21,405.18 L218.88,403.78 L219.54,402.43 L220.21,401.10 L220.88,399.82 L221.54,398.56 L222.21,397.34 L222.87,396.15 L223.54,395.00 L224.21,393.87 L224.87,392.78 L225.54,391.72 L226.20,390.69 L226.87,389.68 L227.54,388.71 L228.20,387.77 L228.87,386.85 L229.53,385.96 L230.20,385.10 L230.87,384.27 L231.53,383.46 L232.20,382.68 L232.86,381.92 L233.53,381.18 L234.20,380.48 L234.86,379.79 L235.53,379.13 L236.19,378.49 L236.86,377.87 L237.52,377.27 L238.19,376.70 L238.86,376.14 L239.52,375.60 L240.19,375.09 L240.85,374.59 L241.52,374.11 L242.19,373.65 L242.85,373.21 L243.52,372.78 L244.18,372.37 L244.85,371.97 L245.52,371.59 L246.18,371.23 L246.85,370.88 L247.51,370.54 L248.18,370.22 L248.85,369.91 L249.51,369.61 L250.18,369.32 L250.84,369.05 L251.51,368.78 L252.18,368.53 L252.84,368.28 L253.51,368.04 L254.17,367.82 L254.84,367.60 L255.51,367.38 L256.17,367.18 L256.84,366.98 L257.50,366.79 L258.17,366.61 L258.84,366.43 L259.50,366.26 L260.17,366.10 L260.83,365.95 L261.50,365.80 L262.17,365.66 L262.83,365.52 L263.50,365.39 L264.16,365.27 L264.83,365.15 L265.50,365.04 L266.16,364.93 L266.83,364.84 L267.49,364.74 L268.16,364.65 L268.83,364.57 L269.49,364.50 L270.16,364.43 L270.82,364.36 L271.49,364.30 L272.15,364.24 L272.82,364.19 L273.49,364.15 L274.15,364.11 L274.82,364.07 L275.48,364.04 L276.15,364.01 L276.82,363.99 L277.48,363.97 L278.15,363.95 L278.81,363.94 L279.48,363.94 L280.15,363.93 L280.81,363.93 L281.48,363.94 L282.14,363.95 L282.81,363.96 L283.48,363.97 L284.14,363.99 L284.81,364.02 L285.47,364.04 L286.14,364.07 L286.81,364.10 L287.47,364.13 L288.14,364.17 L288.80,364.21 L289.47,364.25 L290.14,364.29 L290.80,364.34 L291.47,364.38 L292.13,364.43 L292.80,364.48 L293.47,364.54 L294.13,364.59 L294.80,364.65 L295.46,364.71 L296.13,364.77 L296.80,364.83 L297.46,364.89 L298.13,364.96 L298.79,365.02 L299.46,365.09 L300.13,365.16 L300.79,365.22 L301.46,365.29 L302.12,365.36 L302.79,365.43 L303.46,365.50 L304.12,365.57 L304.79,365.64 L305.45,365.71 L306.12,365.78 L306.78,365.85 L307.45,365.92 L308.12,365.99 L308.78,366.06 L309.45,366.13 L310.11,366.19 L310.78,366.26 L311.45,366.33 L312.11,366.39 L312.78,366.46 L313.44,366.52 L314.11,366.58 L314.78,366.64 L315.44,366.70 L316.11,366.76 L316.77,366.82 L317.44,366.87 L318.11,366.92 L318.77,366.97 L319.44,367.02 L320.10,367.07 L320.77,367.11 L321.44,367.15 L322.10,367.19 L322.77,367.19 L323.43,367.19 L324.10,367.19" stroke="#55e64c" stroke-dasharray="6 4.5"/>
<path d="M40.40,363.18 L41.07,363.18 L41.73,363.18 L42.40,363.18 L43.06,363.18 L43.73,363.26 L44.40,363.42 L45.06,363.57 L45.73,363.72 L46.39,363.86 L47.06,363.99 L47.73,364.12 L48.39,364.25 L49.06,364.37 L49.72,364.49 L50.39,364.60 L51.06,364.71 L51.72,364.82 L52.39,364.92 L53.05,365.02 L53.72,365.12 L54.39,365.21 L55.05,365.30 L55.72,365.38 L56.38,365.47 L57.05,365.55 L57.72,365.63 L58.38,365.71 L59.05,365.78 L59.71,365.85 L60.38,365.92 L61.04,365.99 L61.71,366.06 L62.38,366.13 L63.04,366.20 L63.71,366.26 L64.37,366.33 L65.04,366.39 L65.71,366.46 L66.37,366.52 L67.04,366.59 L67.70,366.65 L68.37,366.72 L69.04,366.78 L69.70,366.85 L70.37,366.92 L71.03,366.99 L71.70,367.06 L72.37,367.13 L73.03,367.20 L73.70,367.28 L74.36,367.35 L75.03,367.43 L75.70,367.51 L76.36,367.59 L77.03,367.68 L77.69,367.77 L78.36,367.86 L79.03,367.95 L79.69,368.05 L80.36,368.15 L81.02,368.26 L81.69,368.37 L82.36,368.48 L83.02,368.60 L83.69,368.72 L84.35,368.84 L85.02,368.97 L85.69,369.11 L86.35,369.25 L87.02,369.39 L87.68,369.54 L88.35,369.70 L89.02,369.86 L89.68,370.02 L90.35,370.20 L91.01,370.38 L91.68,370.56 L92.35,370.75 L93.01,370.95 L93.68,371.16 L94.34,371.37 L95.01,371.59 L95.67,371.81 L96.34,372.05 L97.01,372.29 L97.67,372.54 L98.34,372.80 L99.00,373.06 L99.67,373.34 L100.34,373.62 L101.00,373.91 L101.67,374.21 L102.33,374.52 L103.00,374.83 L103.67,375.16 L104.33,375.50 L105.00,375.84 L105.66,376.20 L106.33,376.57 L107.00,376.94 L107.66,377.33 L108.33,377.73 L108.99,378.13 L109.66,378.55 L110.33,378.98 L110.99,379.42 L111.66,379.88 L112.32,380.34 L112.99,380.81 L113.66,381.30 L114.32,381.80 L114.99,382.31 L115.65,382.84 L116.32,383.37 L116.99,383.92 L117.65,384.48 L118.32,385.06 L118.98,385.64 L119.65,386.25 L120.32,386.86 L120.98,387.49 L121.65,388.13 L122.31,388.79 L122.98,389.46 L123.65,390.14 L124.31,390.84 L124.98,391.56 L125.64,392.28 L126.31,393.03 L126.98,393.78 L127.64,394.56 L128.31,395.34 L128.97,396.14 L129.64,396.96 L130.30,397.79 L130.97,398.63 L131.64,399.49 L132.30,400.36 L132.97,401.24 L133.63,402.14 L134.30,403.06 L134.97,403.98 L135.63,404.92 L136.30,405.88 L136.96,406.85 L137.63,407.83 L138.30,408.82 L138.96,409.83 L139.63,410.85 L140.29,411.89 L140.96,412.94 L141.63,414.00 L142.29,415.08 L142.96,416.17 L143.62,417.27 L144.29,418.39 L144.96,419.52 L145.62,420.67 L146.29,421.82 L146.95,422.99 L147.62,424.18 L148.29,425.38 L148.95,426.59 L149.62,427.82 L150.28,429.06 L150.95,430.32 L151.62,431.58 L152.28,432.86 L152.95,434.14 L153.61,435.43 L154.28,436.72 L154.95,438.01 L155.61,439.30 L156.28,440.58 L156.94,441.85 L157.61,443.12 L158.28,444.38 L158.94,445.62 L159.61,446.84 L160.27,448.05 L160.94,449.24 L161.61,450.40 L162.27,451.53 L162.94,452.64 L163.60,453.72 L164.27,454.77 L164.93,455.78 L165.60,456.76 L166.27,457.70 L166.93,458.61 L167.60,459.47 L168.26,460.29 L168.93,461.06 L169.60,461.78 L170.26,462.45 L170.93,463.06 L171.59,463.60 L172.26,464.08 L172.93,464.50 L173.59,464.87 L174.26,465.18 L174.92,465.42 L175.59,465.61 L176.26,465.74 L176.92,465.79 L177.59,465.79 L178.25,465.73 L178.92,465.59 L179.59,465.39 L180.25,465.12 L180.92,464.77 L181.58,464.36 L182.25,463.88 L182.92,463.33 L183.58,462.69 L184.25,461.97 L184.91,461.19 L185.58,460.34 L186.25,459.44 L186.91,458.49 L187.58,457.48 L188.24,456.42 L188.91,455.32 L189.58,454.18 L190.24,453.00 L190.91,451.79 L191.57,450.54 L192.24,449.27 L192.91,447.96 L193.57,446.63 L194.24,445.28 L194.90,443.91 L195.57,442.53 L196.24,441.13 L196.90,439.71 L197.57,438.29 L198.23,436.85 L198.90,435.42 L199.57,433.97 L200.23,432.53 L200.90,431.09 L201.56,429.64 L202.23,428.21 L202.89,426.78 L203.56,425.35 L204.23,423.93 L204.89,422.52 L205.56,421.12 L206.22,419.72 L206.89,418.34 L207.56,416.95 L208.22,415.58 L208.89,414.21 L209.55,412.86 L210.22,411.51 L210.89,410.18 L211.55,408.85 L212.22,407.54 L212.88,406.24 L213.55,404.96 L214.22,403.69 L214.88,402.43 L215.55,401.19 L216.21,399.96 L216.88,398.75 L217.55,397.56 L218.21,396.38 L218.88,395.22 L219.54,394.08 L220.21,392.96 L220.88,391.85 L221.54,390.77 L222.21,389.71 L222.87,388.66 L223.54,387.65 L224.21,386.65 L224.87,385.67 L225.54,384.72 L226.20,383.80 L226.87,382.89 L227.54,382.02 L228.20,381.16 L228.87,380.34 L229.53,379.54 L230.20,378.77 L230.87,378.03 L231.53,377.31 L232.20,376.61 L232.86,375.95 L233.53,375.30 L234.20,374.68 L234.86,374.09 L235.53,373.51 L236.19,372.96 L236.86,372.43 L237.52,371.92 L238.19,371.44 L238.86,370.97 L239.52,370.52 L240.19,370.10 L240.85,369.69 L241.52,369.30 L242.19,368.93 L242.85,368.57 L243.52,368.24 L244.18,367.92 L244.85,367.61 L245.52,367.32 L246.18,367.05 L246.85,366.79 L247.51,366.55 L248.18,366.31 L248.85,366.10 L249.51,365.89 L250.18,365.70 L250.84,365.52 L251.51,365.34 L252.18,365.18 L252.84,365.03 L253.51,364.89 L254.17,364.76 L254.84,364.64 L255.51,364.53 L256.17,364.42 L256.84,364.32 L257.50,364.23 L258.17,364.14 L258.84,364.06 L259.50,363.99 L260.17,363.92 L260.83,363.85 L261.50,363.79 L262.17,363.73 L262.83,363.67 L263.50,363.62 L264.16,363.56 L264.83,363.51 L265.50,363.46 L266.16,363.41 L266.83,363.36 L267.49,363.31 L268.16,363.26 L268.83,363.22 L269.49,363.17 L270.16,363.12 L270.82,363.07 L271.49,363.03 L272.15,362.98 L272.82,362.94 L273.49,362.89 L274.15,362.85 L274.82,362.81 L275.48,362.76 L276.15,362.72 L276.82,362.68 L277.48,362.64 L278.15,362.60 L278.81,362.57 L279.48,362.53 L280.15,362.50 L280.81,362.46 L281.48,362.43 L282.14,362.40 L282.81,362.37 L283.48,362.34 L284.14,362.31 L284.81,362.29 L285.47,362.26 L286.14,362.24 L286.81,362.22 L287.47,362.20 L288.14,362.18 L288.80,362.17 L289.47,362.15 L290.14,362.14 L290.80,362.13 L291.47,362.12 L292.13,362.11 L292.80,362.11 L293.47,362.10 L294.13,362.10 L294.80,362.10 L295.46,362.11 L296.13,362.11 L296.80,362.12 L297.46,362.13 L298.13,362.14 L298.79,362.15 L299.46,362.17 L300.13,362.19 L300.79,362.21 L301.46,362.24 L302.12,362.26 L302.79,362.29 L303.46,362.32 L304.12,362.36 L304.79,362.40 L305.45,362.44 L306.12,362.48 L306.78,362.53 L307.45,362.57 L308.12,362.63 L308.78,362.68 L309.45,362.74 L310.11,362.80 L310.78,362.86 L311.45,362.93 L312.11,363.00 L312.78,363.07 L313.44,363.15 L314.11,363.23 L314.78,363.31 L315.44,363.40 L316.11,363.49 L316.77,363.58 L317.44,363.68 L318.11,363.78 L318.77,363.89 L319.44,363.99 L320.10,364.11 L320.77,364.22 L321.44,364.34 L322.10,364.43 L322.77,364.43 L323.43,364.43 L324.10,364.43" stroke="#f22a14" stroke-dasharray="6 4.5"/>
</g>
<rect x="43.45" y="356.30" width="277.85" height="209.60" fill="none" stroke="#262626" stroke-width="1.85"/>
<path d="M43.45,408.70h3.80M321.30,408.70h-3.80M43.45,461.10h3.80M321.30,461.10h-3.80M43.45,513.50h3.80M321.30,513.50h-3.80M112.91,565.90v-3.80M112.91,356.30v3.80M182.38,565.90v-3.80M182.38,356.30v3.80M251.84,565.90v-3.80M251.84,356.30v3.80" stroke="#262626" stroke-width="1.8" fill="none"/>
<g font-family='"Liberation Sans", sans-serif' font-size="14.0" fill="#262626">
<text x="38.45" y="362.00" text-anchor="end">0</text>
<text x="38.45" y="414.40" text-anchor="end">-0.1</text>
<text x="38.45" y="466.80" text-anchor="end">-0.2</text>
<text x="38.45" y="519.20" text-anchor="end">-0.3</text>
<text x="38.45" y="571.60" text-anchor="end">-0.4</text>
<text x="43.45" y="584.50" text-anchor="middle">-2</text>
<text x="112.91" y="584.50" text-anchor="middle">-1</text>
<text x="182.38" y="584.50" text-anchor="middle">0</text>
<text x="251.84" y="584.50" text-anchor="middle">1</text>
<text x="321.30" y="584.50" text-anchor="middle">2</text>
<text transform="translate(9.95,458.60) rotate(-90)" text-anchor="middle" font-style="italic">Sk</text>
</g>
<text x="182.88" y="601.90" text-anchor="middle" font-family='"Liberation Serif", serif' font-style="italic" font-size="13.5" fill="#262626">ξ</text>
<rect x="52.80" y="500.00" width="83.30" height="57.20" fill="#fff" stroke="#262626" stroke-width="1.8"/>
<path d="M55.20,510.40H80.80" stroke="#2342e6" stroke-width="1.7"/>
<text x="83.20" y="514.90" font-family='"Liberation Sans", sans-serif' font-size="10" fill="#000"><tspan font-style="italic">Da</tspan> = 0.003</text>
<path d="M55.20,528.30H80.80" stroke="#55e64c" stroke-width="1.7"/>
<text x="83.20" y="532.80" font-family='"Liberation Sans", sans-serif' font-size="10" fill="#000"><tspan font-style="italic">Da</tspan> = 0.006</text>
<path d="M55.20,546.20H80.80" stroke="#f22a14" stroke-width="1.7"/>
<text x="83.20" y="550.70" font-family='"Liberation Sans", sans-serif' font-size="10" fill="#000"><tspan font-style="italic">Da</tspan> = 0.009</text>
<text x="228.00" y="532.80" font-family='"Liberation Sans", sans-serif' font-size="10.2" letter-spacing="0.1" fill="#000">__Fe<tspan font-size="7.8" dy="5.2">3</tspan><tspan dy="-5.2">O</tspan><tspan font-size="7.8" dy="5.2">4</tspan><tspan dy="-5.2"></tspan></text>
<text x="228.00" y="551.40" font-family='"Liberation Sans", sans-serif' font-size="10.2" letter-spacing="0.1" fill="#000">---Fe<tspan font-size="7.8" dy="5.2">3</tspan><tspan dy="-5.2">O</tspan><tspan font-size="7.8" dy="5.2">4</tspan><tspan dy="-5.2">-MWCNT</tspan></text>
<text x="169.30" y="653.70" text-anchor="middle" font-family='"Liberation Serif", serif' font-size="20" fill="#000">(c)</text>
<clipPath id="clipd"><rect x="404.05" y="356.30" width="278.25" height="209.60"/></clipPath>
<g clip-path="url(#clipd)" fill="none" stroke-width="1.7" stroke-linejoin="round">
<path d="M401.00,370.00 L401.67,370.00 L402.33,370.00 L403.00,370.00 L403.66,370.00 L404.33,370.11 L404.99,370.34 L405.66,370.57 L406.32,370.78 L406.99,371.00 L407.65,371.21 L408.32,371.42 L408.98,371.63 L409.65,371.83 L410.31,372.03 L410.98,372.22 L411.64,372.42 L412.31,372.61 L412.97,372.80 L413.64,372.98 L414.30,373.17 L414.97,373.35 L415.63,373.53 L416.30,373.71 L416.96,373.89 L417.63,374.07 L418.29,374.25 L418.96,374.43 L419.62,374.60 L420.29,374.78 L420.95,374.95 L421.62,375.13 L422.28,375.30 L422.95,375.48 L423.61,375.66 L424.28,375.83 L424.94,376.01 L425.61,376.19 L426.27,376.37 L426.94,376.55 L427.60,376.74 L428.27,376.92 L428.93,377.11 L429.60,377.30 L430.26,377.49 L430.93,377.68 L431.59,377.88 L432.26,378.08 L432.93,378.28 L433.59,378.48 L434.26,378.69 L434.92,378.90 L435.59,379.12 L436.25,379.34 L436.92,379.56 L437.58,379.79 L438.25,380.02 L438.91,380.26 L439.58,380.50 L440.24,380.74 L440.91,380.99 L441.57,381.25 L442.24,381.51 L442.90,381.78 L443.57,382.05 L444.23,382.33 L444.90,382.61 L445.56,382.90 L446.23,383.20 L446.89,383.51 L447.56,383.82 L448.22,384.13 L448.89,384.46 L449.55,384.79 L450.22,385.13 L450.88,385.47 L451.55,385.83 L452.21,386.19 L452.88,386.56 L453.54,386.94 L454.21,387.33 L454.87,387.72 L455.54,388.13 L456.20,388.54 L456.87,388.97 L457.53,389.40 L458.20,389.84 L458.86,390.29 L459.53,390.75 L460.19,391.23 L460.86,391.71 L461.52,392.20 L462.19,392.70 L462.85,393.22 L463.52,393.74 L464.19,394.28 L464.85,394.82 L465.52,395.38 L466.18,395.95 L466.85,396.53 L467.51,397.13 L468.18,397.73 L468.84,398.35 L469.51,398.98 L470.17,399.62 L470.84,400.28 L471.50,400.95 L472.17,401.64 L472.83,402.34 L473.50,403.06 L474.16,403.79 L474.83,404.55 L475.49,405.32 L476.16,406.11 L476.82,406.92 L477.49,407.75 L478.15,408.60 L478.82,409.47 L479.48,410.36 L480.15,411.28 L480.81,412.22 L481.48,413.18 L482.14,414.17 L482.81,415.18 L483.47,416.22 L484.14,417.28 L484.80,418.37 L485.47,419.49 L486.13,420.64 L486.80,421.82 L487.46,423.02 L488.13,424.26 L488.79,425.52 L489.46,426.82 L490.12,428.15 L490.79,429.51 L491.45,430.91 L492.12,432.34 L492.78,433.80 L493.45,435.30 L494.11,436.84 L494.78,438.41 L495.44,440.01 L496.11,441.66 L496.78,443.34 L497.44,445.07 L498.11,446.83 L498.77,448.63 L499.44,450.48 L500.10,452.36 L500.77,454.29 L501.43,456.26 L502.10,458.26 L502.76,460.30 L503.43,462.38 L504.09,464.48 L504.76,466.61 L505.42,468.76 L506.09,470.94 L506.75,473.13 L507.42,475.34 L508.08,477.56 L508.75,479.80 L509.41,482.04 L510.08,484.28 L510.74,486.53 L511.41,488.77 L512.07,491.01 L512.74,493.25 L513.40,495.47 L514.07,497.68 L514.73,499.88 L515.40,502.06 L516.06,504.22 L516.73,506.36 L517.39,508.47 L518.06,510.55 L518.72,512.60 L519.39,514.61 L520.05,516.59 L520.72,518.53 L521.38,520.42 L522.05,522.27 L522.71,524.07 L523.38,525.82 L524.04,527.52 L524.71,529.16 L525.37,530.73 L526.04,532.25 L526.70,533.70 L527.37,535.08 L528.04,536.40 L528.70,537.64 L529.37,538.80 L530.03,539.88 L530.70,540.88 L531.36,541.80 L532.03,542.63 L532.69,543.36 L533.36,544.01 L534.02,544.55 L534.69,545.00 L535.35,545.35 L536.02,545.59 L536.68,545.72 L537.35,545.74 L538.01,545.66 L538.68,545.46 L539.34,545.16 L540.01,544.75 L540.67,544.24 L541.34,543.62 L542.00,542.89 L542.67,542.06 L543.33,541.13 L544.00,540.09 L544.66,538.95 L545.33,537.70 L545.99,536.36 L546.66,534.92 L547.32,533.38 L547.99,531.76 L548.65,530.05 L549.32,528.26 L549.98,526.39 L550.65,524.45 L551.31,522.44 L551.98,520.36 L552.64,518.22 L553.31,516.01 L553.97,513.76 L554.64,511.45 L555.30,509.09 L555.97,506.69 L556.63,504.24 L557.30,501.77 L557.96,499.25 L558.63,496.71 L559.30,494.14 L559.96,491.55 L560.63,488.94 L561.29,486.32 L561.96,483.68 L562.62,481.04 L563.29,478.40 L563.95,475.75 L564.62,473.11 L565.28,470.48 L565.95,467.86 L566.61,465.25 L567.28,462.66 L567.94,460.10 L568.61,457.56 L569.27,455.05 L569.94,452.58 L570.60,450.14 L571.27,447.75 L571.93,445.39 L572.60,443.08 L573.26,440.81 L573.93,438.58 L574.59,436.39 L575.26,434.24 L575.92,432.13 L576.59,430.07 L577.25,428.04 L577.92,426.06 L578.58,424.11 L579.25,422.21 L579.91,420.34 L580.58,418.52 L581.24,416.74 L581.91,414.99 L582.57,413.29 L583.24,411.62 L583.90,410.00 L584.57,408.41 L585.23,406.86 L585.90,405.35 L586.56,403.88 L587.23,402.45 L587.89,401.06 L588.56,399.70 L589.22,398.39 L589.89,397.11 L590.56,395.86 L591.22,394.66 L591.89,393.48 L592.55,392.34 L593.22,391.24 L593.88,390.17 L594.55,389.13 L595.21,388.13 L595.88,387.16 L596.54,386.22 L597.21,385.31 L597.87,384.43 L598.54,383.58 L599.20,382.76 L599.87,381.97 L600.53,381.21 L601.20,380.47 L601.86,379.77 L602.53,379.09 L603.19,378.43 L603.86,377.80 L604.52,377.20 L605.19,376.62 L605.85,376.07 L606.52,375.54 L607.18,375.03 L607.85,374.54 L608.51,374.08 L609.18,373.63 L609.84,373.21 L610.51,372.81 L611.17,372.43 L611.84,372.07 L612.50,371.72 L613.17,371.40 L613.83,371.09 L614.50,370.80 L615.16,370.53 L615.83,370.27 L616.49,370.02 L617.16,369.80 L617.82,369.58 L618.49,369.38 L619.15,369.20 L619.82,369.02 L620.48,368.86 L621.15,368.71 L621.81,368.57 L622.48,368.45 L623.15,368.33 L623.81,368.22 L624.48,368.12 L625.14,368.03 L625.81,367.95 L626.47,367.87 L627.14,367.81 L627.80,367.74 L628.47,367.69 L629.13,367.64 L629.80,367.59 L630.46,367.55 L631.13,367.51 L631.79,367.48 L632.46,367.44 L633.12,367.41 L633.79,367.39 L634.45,367.36 L635.12,367.33 L635.78,367.30 L636.45,367.28 L637.11,367.25 L637.78,367.22 L638.44,367.20 L639.11,367.17 L639.77,367.15 L640.44,367.13 L641.10,367.10 L641.77,367.08 L642.43,367.06 L643.10,367.04 L643.76,367.02 L644.43,367.01 L645.09,366.99 L645.76,366.98 L646.42,366.96 L647.09,366.95 L647.75,366.94 L648.42,366.94 L649.08,366.93 L649.75,366.93 L650.41,366.93 L651.08,366.93 L651.74,366.93 L652.41,366.93 L653.07,366.94 L653.74,366.95 L654.41,366.96 L655.07,366.98 L655.74,366.99 L656.40,367.01 L657.07,367.04 L657.73,367.06 L658.40,367.09 L659.06,367.12 L659.73,367.16 L660.39,367.20 L661.06,367.24 L661.72,367.29 L662.39,367.33 L663.05,367.39 L663.72,367.44 L664.38,367.50 L665.05,367.57 L665.71,367.63 L666.38,367.71 L667.04,367.78 L667.71,367.86 L668.37,367.94 L669.04,368.03 L669.70,368.13 L670.37,368.22 L671.03,368.33 L671.70,368.43 L672.36,368.54 L673.03,368.66 L673.69,368.78 L674.36,368.91 L675.02,369.04 L675.69,369.17 L676.35,369.31 L677.02,369.46 L677.68,369.61 L678.35,369.77 L679.01,369.93 L679.68,370.10 L680.34,370.28 L681.01,370.46 L681.67,370.64 L682.34,370.74 L683.00,370.74 L683.67,370.74 L684.33,370.74 L685.00,370.74" stroke="#2342e6"/>
<path d="M401.00,361.93 L401.67,361.93 L402.33,361.93 L403.00,361.93 L403.66,361.93 L404.33,361.99 L404.99,362.13 L405.66,362.26 L406.32,362.39 L406.99,362.52 L407.65,362.64 L408.32,362.77 L408.98,362.89 L409.65,363.01 L410.31,363.13 L410.98,363.25 L411.64,363.36 L412.31,363.48 L412.97,363.59 L413.64,363.71 L414.30,363.82 L414.97,363.93 L415.63,364.04 L416.30,364.15 L416.96,364.26 L417.63,364.36 L418.29,364.47 L418.96,364.58 L419.62,364.68 L420.29,364.79 L420.95,364.90 L421.62,365.00 L422.28,365.11 L422.95,365.21 L423.61,365.32 L424.28,365.42 L424.94,365.53 L425.61,365.63 L426.27,365.74 L426.94,365.85 L427.60,365.95 L428.27,366.06 L428.93,366.17 L429.60,366.28 L430.26,366.39 L430.93,366.50 L431.59,366.61 L432.26,366.73 L432.93,366.84 L433.59,366.96 L434.26,367.08 L434.92,367.19 L435.59,367.31 L436.25,367.44 L436.92,367.56 L437.58,367.68 L438.25,367.81 L438.91,367.94 L439.58,368.07 L440.24,368.20 L440.91,368.34 L441.57,368.48 L442.24,368.62 L442.90,368.76 L443.57,368.90 L444.23,369.05 L444.90,369.20 L445.56,369.35 L446.23,369.51 L446.89,369.67 L447.56,369.83 L448.22,369.99 L448.89,370.16 L449.55,370.33 L450.22,370.50 L450.88,370.68 L451.55,370.86 L452.21,371.04 L452.88,371.23 L453.54,371.42 L454.21,371.62 L454.87,371.82 L455.54,372.02 L456.20,372.23 L456.87,372.44 L457.53,372.65 L458.20,372.87 L458.86,373.10 L459.53,373.33 L460.19,373.56 L460.86,373.80 L461.52,374.04 L462.19,374.28 L462.85,374.54 L463.52,374.79 L464.19,375.05 L464.85,375.32 L465.52,375.59 L466.18,375.87 L466.85,376.15 L467.51,376.44 L468.18,376.73 L468.84,377.03 L469.51,377.33 L470.17,377.64 L470.84,377.96 L471.50,378.28 L472.17,378.61 L472.83,378.95 L473.50,379.29 L474.16,379.64 L474.83,380.01 L475.49,380.38 L476.16,380.76 L476.82,381.15 L477.49,381.55 L478.15,381.96 L478.82,382.38 L479.48,382.81 L480.15,383.26 L480.81,383.72 L481.48,384.19 L482.14,384.67 L482.81,385.17 L483.47,385.68 L484.14,386.21 L484.80,386.75 L485.47,387.31 L486.13,387.89 L486.80,388.48 L487.46,389.08 L488.13,389.71 L488.79,390.35 L489.46,391.01 L490.12,391.69 L490.79,392.39 L491.45,393.11 L492.12,393.84 L492.78,394.60 L493.45,395.38 L494.11,396.18 L494.78,397.00 L495.44,397.85 L496.11,398.71 L496.78,399.60 L497.44,400.50 L498.11,401.42 L498.77,402.36 L499.44,403.31 L500.10,404.28 L500.77,405.26 L501.43,406.26 L502.10,407.26 L502.76,408.27 L503.43,409.30 L504.09,410.32 L504.76,411.36 L505.42,412.40 L506.09,413.44 L506.75,414.49 L507.42,415.53 L508.08,416.58 L508.75,417.63 L509.41,418.67 L510.08,419.71 L510.74,420.74 L511.41,421.77 L512.07,422.79 L512.74,423.81 L513.40,424.81 L514.07,425.80 L514.73,426.78 L515.40,427.75 L516.06,428.71 L516.73,429.64 L517.39,430.57 L518.06,431.47 L518.72,432.35 L519.39,433.22 L520.05,434.06 L520.72,434.88 L521.38,435.68 L522.05,436.45 L522.71,437.20 L523.38,437.91 L524.04,438.60 L524.71,439.26 L525.37,439.89 L526.04,440.49 L526.70,441.05 L527.37,441.58 L528.04,442.07 L528.70,442.53 L529.37,442.95 L530.03,443.33 L530.70,443.66 L531.36,443.96 L532.03,444.22 L532.69,444.43 L533.36,444.59 L534.02,444.71 L534.69,444.78 L535.35,444.80 L536.02,444.77 L536.68,444.69 L537.35,444.56 L538.01,444.38 L538.68,444.14 L539.34,443.84 L540.01,443.49 L540.67,443.08 L541.34,442.60 L542.00,442.08 L542.67,441.49 L543.33,440.85 L544.00,440.16 L544.66,439.43 L545.33,438.64 L545.99,437.81 L546.66,436.94 L547.32,436.02 L547.99,435.07 L548.65,434.08 L549.32,433.06 L549.98,432.00 L550.65,430.92 L551.31,429.81 L551.98,428.67 L552.64,427.51 L553.31,426.33 L553.97,425.12 L554.64,423.91 L555.30,422.67 L555.97,421.43 L556.63,420.18 L557.30,418.91 L557.96,417.64 L558.63,416.37 L559.30,415.10 L559.96,413.82 L560.63,412.55 L561.29,411.29 L561.96,410.03 L562.62,408.78 L563.29,407.54 L563.95,406.31 L564.62,405.10 L565.28,403.89 L565.95,402.70 L566.61,401.52 L567.28,400.35 L567.94,399.19 L568.61,398.04 L569.27,396.91 L569.94,395.79 L570.60,394.69 L571.27,393.59 L571.93,392.51 L572.60,391.45 L573.26,390.40 L573.93,389.36 L574.59,388.34 L575.26,387.33 L575.92,386.34 L576.59,385.36 L577.25,384.40 L577.92,383.46 L578.58,382.53 L579.25,381.62 L579.91,380.72 L580.58,379.84 L581.24,378.98 L581.91,378.14 L582.57,377.31 L583.24,376.50 L583.90,375.71 L584.57,374.94 L585.23,374.19 L585.90,373.45 L586.56,372.74 L587.23,372.04 L587.89,371.36 L588.56,370.71 L589.22,370.07 L589.89,369.45 L590.56,368.86 L591.22,368.28 L591.89,367.73 L592.55,367.19 L593.22,366.68 L593.88,366.19 L594.55,365.72 L595.21,365.27 L595.88,364.83 L596.54,364.42 L597.21,364.02 L597.87,363.64 L598.54,363.28 L599.20,362.94 L599.87,362.61 L600.53,362.30 L601.20,362.01 L601.86,361.73 L602.53,361.47 L603.19,361.22 L603.86,360.99 L604.52,360.77 L605.19,360.57 L605.85,360.38 L606.52,360.20 L607.18,360.03 L607.85,359.88 L608.51,359.74 L609.18,359.61 L609.84,359.49 L610.51,359.39 L611.17,359.29 L611.84,359.21 L612.50,359.13 L613.17,359.06 L613.83,359.00 L614.50,358.95 L615.16,358.91 L615.83,358.88 L616.49,358.85 L617.16,358.84 L617.82,358.82 L618.49,358.82 L619.15,358.82 L619.82,358.82 L620.48,358.83 L621.15,358.85 L621.81,358.87 L622.48,358.89 L623.15,358.92 L623.81,358.95 L624.48,358.99 L625.14,359.02 L625.81,359.06 L626.47,359.10 L627.14,359.15 L627.80,359.19 L628.47,359.23 L629.13,359.28 L629.80,359.32 L630.46,359.37 L631.13,359.41 L631.79,359.45 L632.46,359.49 L633.12,359.53 L633.79,359.56 L634.45,359.60 L635.12,359.63 L635.78,359.65 L636.45,359.68 L637.11,359.70 L637.78,359.71 L638.44,359.73 L639.11,359.74 L639.77,359.75 L640.44,359.76 L641.10,359.77 L641.77,359.77 L642.43,359.77 L643.10,359.77 L643.76,359.77 L644.43,359.77 L645.09,359.77 L645.76,359.77 L646.42,359.76 L647.09,359.76 L647.75,359.75 L648.42,359.75 L649.08,359.74 L649.75,359.74 L650.41,359.73 L651.08,359.73 L651.74,359.72 L652.41,359.72 L653.07,359.72 L653.74,359.72 L654.41,359.72 L655.07,359.72 L655.74,359.72 L656.40,359.72 L657.07,359.73 L657.73,359.74 L658.40,359.75 L659.06,359.76 L659.73,359.78 L660.39,359.79 L661.06,359.81 L661.72,359.84 L662.39,359.86 L663.05,359.89 L663.72,359.93 L664.38,359.96 L665.05,360.00 L665.71,360.05 L666.38,360.09 L667.04,360.15 L667.71,360.20 L668.37,360.26 L669.04,360.33 L669.70,360.40 L670.37,360.48 L671.03,360.56 L671.70,360.64 L672.36,360.73 L673.03,360.83 L673.69,360.93 L674.36,361.04 L675.02,361.16 L675.69,361.28 L676.35,361.40 L677.02,361.54 L677.68,361.68 L678.35,361.83 L679.01,361.98 L679.68,362.14 L680.34,362.31 L681.01,362.49 L681.67,362.67 L682.34,362.77 L683.00,362.77 L683.67,362.77 L684.33,362.77 L685.00,362.77" stroke="#55e64c"/>
<path d="M401.00,359.10 L401.67,359.10 L402.33,359.10 L403.00,359.10 L403.66,359.10 L404.33,359.15 L404.99,359.25 L405.66,359.35 L406.32,359.45 L406.99,359.54 L407.65,359.63 L408.32,359.72 L408.98,359.80 L409.65,359.89 L410.31,359.97 L410.98,360.04 L411.64,360.12 L412.31,360.19 L412.97,360.27 L413.64,360.34 L414.30,360.41 L414.97,360.47 L415.63,360.54 L416.30,360.60 L416.96,360.66 L417.63,360.72 L418.29,360.78 L418.96,360.84 L419.62,360.89 L420.29,360.95 L420.95,361.00 L421.62,361.05 L422.28,361.11 L422.95,361.16 L423.61,361.21 L424.28,361.26 L424.94,361.31 L425.61,361.36 L426.27,361.40 L426.94,361.45 L427.60,361.50 L428.27,361.55 L428.93,361.59 L429.60,361.64 L430.26,361.69 L430.93,361.74 L431.59,361.79 L432.26,361.83 L432.93,361.88 L433.59,361.93 L434.26,361.98 L434.92,362.03 L435.59,362.08 L436.25,362.13 L436.92,362.18 L437.58,362.24 L438.25,362.29 L438.91,362.35 L439.58,362.40 L440.24,362.46 L440.91,362.52 L441.57,362.58 L442.24,362.64 L442.90,362.71 L443.57,362.77 L444.23,362.84 L444.90,362.91 L445.56,362.98 L446.23,363.05 L446.89,363.13 L447.56,363.21 L448.22,363.28 L448.89,363.37 L449.55,363.45 L450.22,363.54 L450.88,363.63 L451.55,363.72 L452.21,363.81 L452.88,363.91 L453.54,364.01 L454.21,364.11 L454.87,364.22 L455.54,364.33 L456.20,364.44 L456.87,364.55 L457.53,364.67 L458.20,364.79 L458.86,364.92 L459.53,365.05 L460.19,365.18 L460.86,365.32 L461.52,365.46 L462.19,365.60 L462.85,365.75 L463.52,365.90 L464.19,366.06 L464.85,366.22 L465.52,366.39 L466.18,366.56 L466.85,366.73 L467.51,366.91 L468.18,367.09 L468.84,367.28 L469.51,367.47 L470.17,367.67 L470.84,367.87 L471.50,368.08 L472.17,368.29 L472.83,368.51 L473.50,368.73 L474.16,368.96 L474.83,369.20 L475.49,369.44 L476.16,369.68 L476.82,369.93 L477.49,370.19 L478.15,370.45 L478.82,370.72 L479.48,370.99 L480.15,371.27 L480.81,371.56 L481.48,371.85 L482.14,372.15 L482.81,372.46 L483.47,372.77 L484.14,373.09 L484.80,373.41 L485.47,373.74 L486.13,374.08 L486.80,374.43 L487.46,374.78 L488.13,375.14 L488.79,375.50 L489.46,375.88 L490.12,376.26 L490.79,376.65 L491.45,377.04 L492.12,377.44 L492.78,377.85 L493.45,378.26 L494.11,378.68 L494.78,379.11 L495.44,379.54 L496.11,379.98 L496.78,380.42 L497.44,380.87 L498.11,381.32 L498.77,381.77 L499.44,382.23 L500.10,382.70 L500.77,383.16 L501.43,383.63 L502.10,384.11 L502.76,384.58 L503.43,385.06 L504.09,385.54 L504.76,386.03 L505.42,386.51 L506.09,387.00 L506.75,387.49 L507.42,387.98 L508.08,388.47 L508.75,388.96 L509.41,389.45 L510.08,389.94 L510.74,390.44 L511.41,390.93 L512.07,391.42 L512.74,391.91 L513.40,392.40 L514.07,392.89 L514.73,393.38 L515.40,393.87 L516.06,394.35 L516.73,394.83 L517.39,395.31 L518.06,395.79 L518.72,396.26 L519.39,396.72 L520.05,397.18 L520.72,397.63 L521.38,398.07 L522.05,398.50 L522.71,398.92 L523.38,399.33 L524.04,399.72 L524.71,400.11 L525.37,400.47 L526.04,400.83 L526.70,401.16 L527.37,401.48 L528.04,401.78 L528.70,402.06 L529.37,402.32 L530.03,402.56 L530.70,402.78 L531.36,402.98 L532.03,403.15 L532.69,403.29 L533.36,403.41 L534.02,403.50 L534.69,403.57 L535.35,403.61 L536.02,403.61 L536.68,403.59 L537.35,403.53 L538.01,403.44 L538.68,403.32 L539.34,403.17 L540.01,402.97 L540.67,402.75 L541.34,402.49 L542.00,402.19 L542.67,401.87 L543.33,401.51 L544.00,401.13 L544.66,400.72 L545.33,400.28 L545.99,399.81 L546.66,399.32 L547.32,398.81 L547.99,398.28 L548.65,397.72 L549.32,397.15 L549.98,396.56 L550.65,395.95 L551.31,395.32 L551.98,394.68 L552.64,394.02 L553.31,393.36 L553.97,392.68 L554.64,391.99 L555.30,391.29 L555.97,390.59 L556.63,389.87 L557.30,389.16 L557.96,388.44 L558.63,387.71 L559.30,386.99 L559.96,386.26 L560.63,385.53 L561.29,384.81 L561.96,384.09 L562.62,383.37 L563.29,382.66 L563.95,381.95 L564.62,381.25 L565.28,380.57 L565.95,379.89 L566.61,379.22 L567.28,378.56 L567.94,377.92 L568.61,377.29 L569.27,376.67 L569.94,376.07 L570.60,375.47 L571.27,374.89 L571.93,374.32 L572.60,373.76 L573.26,373.22 L573.93,372.68 L574.59,372.16 L575.26,371.64 L575.92,371.14 L576.59,370.65 L577.25,370.17 L577.92,369.70 L578.58,369.24 L579.25,368.79 L579.91,368.35 L580.58,367.92 L581.24,367.50 L581.91,367.10 L582.57,366.70 L583.24,366.31 L583.90,365.93 L584.57,365.56 L585.23,365.20 L585.90,364.84 L586.56,364.50 L587.23,364.17 L587.89,363.84 L588.56,363.53 L589.22,363.22 L589.89,362.92 L590.56,362.63 L591.22,362.34 L591.89,362.07 L592.55,361.80 L593.22,361.54 L593.88,361.29 L594.55,361.05 L595.21,360.81 L595.88,360.58 L596.54,360.36 L597.21,360.14 L597.87,359.94 L598.54,359.73 L599.20,359.54 L599.87,359.35 L600.53,359.17 L601.20,358.99 L601.86,358.82 L602.53,358.66 L603.19,358.50 L603.86,358.35 L604.52,358.21 L605.19,358.07 L605.85,357.93 L606.52,357.81 L607.18,357.68 L607.85,357.57 L608.51,357.46 L609.18,357.35 L609.84,357.25 L610.51,357.15 L611.17,357.06 L611.84,356.98 L612.50,356.89 L613.17,356.82 L613.83,356.75 L614.50,356.68 L615.16,356.62 L615.83,356.56 L616.49,356.51 L617.16,356.46 L617.82,356.41 L618.49,356.37 L619.15,356.34 L619.82,356.30 L620.48,356.28 L621.15,356.25 L621.81,356.23 L622.48,356.21 L623.15,356.20 L623.81,356.19 L624.48,356.18 L625.14,356.18 L625.81,356.18 L626.47,356.18 L627.14,356.19 L627.80,356.19 L628.47,356.21 L629.13,356.22 L629.80,356.24 L630.46,356.26 L631.13,356.28 L631.79,356.30 L632.46,356.33 L633.12,356.36 L633.79,356.39 L634.45,356.43 L635.12,356.46 L635.78,356.50 L636.45,356.54 L637.11,356.58 L637.78,356.63 L638.44,356.67 L639.11,356.72 L639.77,356.77 L640.44,356.82 L641.10,356.87 L641.77,356.92 L642.43,356.97 L643.10,357.03 L643.76,357.08 L644.43,357.14 L645.09,357.19 L645.76,357.25 L646.42,357.31 L647.09,357.37 L647.75,357.43 L648.42,357.49 L649.08,357.55 L649.75,357.61 L650.41,357.67 L651.08,357.73 L651.74,357.79 L652.41,357.85 L653.07,357.91 L653.74,357.97 L654.41,358.03 L655.07,358.08 L655.74,358.14 L656.40,358.20 L657.07,358.26 L657.73,358.31 L658.40,358.37 L659.06,358.42 L659.73,358.48 L660.39,358.53 L661.06,358.58 L661.72,358.63 L662.39,358.68 L663.05,358.72 L663.72,358.77 L664.38,358.81 L665.05,358.86 L665.71,358.90 L666.38,358.93 L667.04,358.97 L667.71,359.00 L668.37,359.04 L669.04,359.07 L669.70,359.09 L670.37,359.12 L671.03,359.14 L671.70,359.16 L672.36,359.18 L673.03,359.20 L673.69,359.21 L674.36,359.22 L675.02,359.22 L675.69,359.23 L676.35,359.23 L677.02,359.22 L677.68,359.22 L678.35,359.21 L679.01,359.19 L679.68,359.18 L680.34,359.16 L681.01,359.13 L681.67,359.11 L682.34,359.09 L683.00,359.09 L683.67,359.09 L684.33,359.09 L685.00,359.09" stroke="#f22a14"/>
<path d="M401.00,370.00 L401.67,370.00 L402.33,370.00 L403.00,370.00 L403.66,370.00 L404.33,370.11 L404.99,370.34 L405.66,370.57 L406.32,370.78 L406.99,371.00 L407.65,371.21 L408.32,371.42 L408.98,371.63 L409.65,371.83 L410.31,372.03 L410.98,372.22 L411.64,372.42 L412.31,372.61 L412.97,372.80 L413.64,372.98 L414.30,373.17 L414.97,373.35 L415.63,373.53 L416.30,373.71 L416.96,373.89 L417.63,374.07 L418.29,374.25 L418.96,374.43 L419.62,374.60 L420.29,374.78 L420.95,374.95 L421.62,375.13 L422.28,375.30 L422.95,375.48 L423.61,375.66 L424.28,375.83 L424.94,376.01 L425.61,376.19 L426.27,376.37 L426.94,376.55 L427.60,376.74 L428.27,376.92 L428.93,377.11 L429.60,377.30 L430.26,377.49 L430.93,377.68 L431.59,377.88 L432.26,378.08 L432.93,378.28 L433.59,378.48 L434.26,378.69 L434.92,378.90 L435.59,379.12 L436.25,379.34 L436.92,379.56 L437.58,379.79 L438.25,380.02 L438.91,380.26 L439.58,380.50 L440.24,380.74 L440.91,380.99 L441.57,381.25 L442.24,381.51 L442.90,381.78 L443.57,382.05 L444.23,382.33 L444.90,382.61 L445.56,382.90 L446.23,383.20 L446.89,383.51 L447.56,383.82 L448.22,384.13 L448.89,384.46 L449.55,384.79 L450.22,385.13 L450.88,385.47 L451.55,385.83 L452.21,386.19 L452.88,386.56 L453.54,386.94 L454.21,387.33 L454.87,387.72 L455.54,388.13 L456.20,388.54 L456.87,388.97 L457.53,389.40 L458.20,389.84 L458.86,390.29 L459.53,390.75 L460.19,391.23 L460.86,391.71 L461.52,392.20 L462.19,392.70 L462.85,393.22 L463.52,393.74 L464.19,394.28 L464.85,394.82 L465.52,395.38 L466.18,395.95 L466.85,396.53 L467.51,397.13 L468.18,397.73 L468.84,398.35 L469.51,398.98 L470.17,399.62 L470.84,400.28 L471.50,400.95 L472.17,401.64 L472.83,402.34 L473.50,403.06 L474.16,403.79 L474.83,404.55 L475.49,405.32 L476.16,406.11 L476.82,406.92 L477.49,407.75 L478.15,408.60 L478.82,409.47 L479.48,410.36 L480.15,411.28 L480.81,412.22 L481.48,413.18 L482.14,414.17 L482.81,415.18 L483.47,416.22 L484.14,417.28 L484.80,418.37 L485.47,419.49 L486.13,420.64 L486.80,421.82 L487.46,423.02 L488.13,424.26 L488.79,425.52 L489.46,426.82 L490.12,428.15 L490.79,429.51 L491.45,430.91 L492.12,432.34 L492.78,433.80 L493.45,435.30 L494.11,436.84 L494.78,438.41 L495.44,440.01 L496.11,441.66 L496.78,443.34 L497.44,445.07 L498.11,446.83 L498.77,448.63 L499.44,450.48 L500.10,452.36 L500.77,454.29 L501.43,456.26 L502.10,458.26 L502.76,460.30 L503.43,462.38 L504.09,464.48 L504.76,466.61 L505.42,468.76 L506.09,470.94 L506.75,473.13 L507.42,475.34 L508.08,477.56 L508.75,479.80 L509.41,482.04 L510.08,484.28 L510.74,486.53 L511.41,488.77 L512.07,491.02 L512.74,493.25 L513.40,495.48 L514.07,497.70 L514.73,499.90 L515.40,502.09 L516.06,504.25 L516.73,506.40 L517.39,508.52 L518.06,510.62 L518.72,512.69 L519.39,514.72 L520.05,516.73 L520.72,518.70 L521.38,520.63 L522.05,522.53 L522.71,524.38 L523.38,526.19 L524.04,527.95 L524.71,529.67 L525.37,531.33 L526.04,532.93 L526.70,534.48 L527.37,535.97 L528.04,537.39 L528.70,538.74 L529.37,540.02 L530.03,541.21 L530.70,542.27 L531.36,543.19 L532.03,544.03 L532.69,544.80 L533.36,545.48 L534.02,546.08 L534.69,546.59 L535.35,547.01 L536.02,547.33 L536.68,547.56 L537.35,547.71 L538.01,547.76 L538.68,547.71 L539.34,547.56 L540.01,547.31 L540.67,546.97 L541.34,546.54 L542.00,546.02 L542.67,545.39 L543.33,544.60 L544.00,543.71 L544.66,542.72 L545.33,541.62 L545.99,540.43 L546.66,539.14 L547.32,537.75 L547.99,536.28 L548.65,534.72 L549.32,533.08 L549.98,531.36 L550.65,529.56 L551.31,527.69 L551.98,525.75 L552.64,523.75 L553.31,521.69 L553.97,519.56 L554.64,517.38 L555.30,515.15 L555.97,512.87 L556.63,510.54 L557.30,508.17 L557.96,505.75 L558.63,503.31 L559.30,500.82 L559.96,498.31 L560.63,495.77 L561.29,493.21 L561.96,490.63 L562.62,488.04 L563.29,485.43 L563.95,482.82 L564.62,480.20 L565.28,477.58 L565.95,474.97 L566.61,472.35 L567.28,469.73 L567.94,467.12 L568.61,464.52 L569.27,461.95 L569.94,459.41 L570.60,456.89 L571.27,454.41 L571.93,451.96 L572.60,449.55 L573.26,447.19 L573.93,444.86 L574.59,442.58 L575.26,440.34 L575.92,438.14 L576.59,435.99 L577.25,433.87 L577.92,431.79 L578.58,429.76 L579.25,427.76 L579.91,425.81 L580.58,423.89 L581.24,422.02 L581.91,420.18 L582.57,418.39 L583.24,416.63 L583.90,414.92 L584.57,413.24 L585.23,411.61 L585.90,410.01 L586.56,408.45 L587.23,406.93 L587.89,405.45 L588.56,404.01 L589.22,402.61 L589.89,401.25 L590.56,399.92 L591.22,398.63 L591.89,397.38 L592.55,396.16 L593.22,394.98 L593.88,393.83 L594.55,392.72 L595.21,391.64 L595.88,390.60 L596.54,389.58 L597.21,388.60 L597.87,387.65 L598.54,386.74 L599.20,385.85 L599.87,384.99 L600.53,384.17 L601.20,383.37 L601.86,382.60 L602.53,381.86 L603.19,381.14 L603.86,380.46 L604.52,379.80 L605.19,379.16 L605.85,378.55 L606.52,377.97 L607.18,377.41 L607.85,376.87 L608.51,376.35 L609.18,375.86 L609.84,375.39 L610.51,374.95 L611.17,374.52 L611.84,374.11 L612.50,373.73 L613.17,373.36 L613.83,373.01 L614.50,372.68 L615.16,372.37 L615.83,372.07 L616.49,371.79 L617.16,371.53 L617.82,371.28 L618.49,371.05 L619.15,370.84 L619.82,370.63 L620.48,370.44 L621.15,370.27 L621.81,370.10 L622.48,369.95 L623.15,369.81 L623.81,369.68 L624.48,369.56 L625.14,369.45 L625.81,369.35 L626.47,369.25 L627.14,369.17 L627.80,369.09 L628.47,369.02 L629.13,368.96 L629.80,368.90 L630.46,368.85 L631.13,368.80 L631.79,368.76 L632.46,368.72 L633.12,368.69 L633.79,368.65 L634.45,368.62 L635.12,368.59 L635.78,368.56 L636.45,368.54 L637.11,368.51 L637.78,368.48 L638.44,368.46 L639.11,368.43 L639.77,368.40 L640.44,368.38 L641.10,368.36 L641.77,368.33 L642.43,368.31 L643.10,368.29 L643.76,368.27 L644.43,368.25 L645.09,368.23 L645.76,368.21 L646.42,368.19 L647.09,368.18 L647.75,368.17 L648.42,368.16 L649.08,368.15 L649.75,368.14 L650.41,368.13 L651.08,368.13 L651.74,368.13 L652.41,368.13 L653.07,368.13 L653.74,368.13 L654.41,368.14 L655.07,368.15 L655.74,368.16 L656.40,368.17 L657.07,368.19 L657.73,368.21 L658.40,368.23 L659.06,368.26 L659.73,368.28 L660.39,368.32 L661.06,368.35 L661.72,368.39 L662.39,368.43 L663.05,368.47 L663.72,368.52 L664.38,368.57 L665.05,368.63 L665.71,368.69 L666.38,368.75 L667.04,368.82 L667.71,368.89 L668.37,368.96 L669.04,369.04 L669.70,369.12 L670.37,369.21 L671.03,369.30 L671.70,369.40 L672.36,369.50 L673.03,369.60 L673.69,369.71 L674.36,369.83 L675.02,369.95 L675.69,370.07 L676.35,370.20 L677.02,370.34 L677.68,370.48 L678.35,370.62 L679.01,370.77 L679.68,370.93 L680.34,371.09 L681.01,371.26 L681.67,371.43 L682.34,371.61 L683.00,371.80 L683.67,371.94 L684.33,371.94 L685.00,371.94" stroke="#2342e6" stroke-dasharray="6 4.5"/>
<path d="M401.00,361.93 L401.67,361.93 L402.33,361.93 L403.00,361.93 L403.66,361.93 L404.33,361.99 L404.99,362.13 L405.66,362.26 L406.32,362.39 L406.99,362.52 L407.65,362.64 L408.32,362.77 L408.98,362.89 L409.65,363.01 L410.31,363.13 L410.98,363.25 L411.64,363.36 L412.31,363.48 L412.97,363.59 L413.64,363.71 L414.30,363.82 L414.97,363.93 L415.63,364.04 L416.30,364.15 L416.96,364.26 L417.63,364.36 L418.29,364.47 L418.96,364.58 L419.62,364.68 L420.29,364.79 L420.95,364.90 L421.62,365.00 L422.28,365.11 L422.95,365.21 L423.61,365.32 L424.28,365.42 L424.94,365.53 L425.61,365.63 L426.27,365.74 L426.94,365.85 L427.60,365.95 L428.27,366.06 L428.93,366.17 L429.60,366.28 L430.26,366.39 L430.93,366.50 L431.59,366.61 L432.26,366.73 L432.93,366.84 L433.59,366.96 L434.26,367.08 L434.92,367.19 L435.59,367.31 L436.25,367.44 L436.92,367.56 L437.58,367.68 L438.25,367.81 L438.91,367.94 L439.58,368.07 L440.24,368.20 L440.91,368.34 L441.57,368.48 L442.24,368.62 L442.90,368.76 L443.57,368.90 L444.23,369.05 L444.90,369.20 L445.56,369.35 L446.23,369.51 L446.89,369.67 L447.56,369.83 L448.22,369.99 L448.89,370.16 L449.55,370.33 L450.22,370.50 L450.88,370.68 L451.55,370.86 L452.21,371.04 L452.88,371.23 L453.54,371.42 L454.21,371.62 L454.87,371.82 L455.54,372.02 L456.20,372.23 L456.87,372.44 L457.53,372.65 L458.20,372.87 L458.86,373.10 L459.53,373.33 L460.19,373.56 L460.86,373.80 L461.52,374.04 L462.19,374.28 L462.85,374.54 L463.52,374.79 L464.19,375.05 L464.85,375.32 L465.52,375.59 L466.18,375.87 L466.85,376.15 L467.51,376.44 L468.18,376.73 L468.84,377.03 L469.51,377.33 L470.17,377.64 L470.84,377.96 L471.50,378.28 L472.17,378.61 L472.83,378.95 L473.50,379.29 L474.16,379.64 L474.83,380.01 L475.49,380.38 L476.16,380.76 L476.82,381.15 L477.49,381.55 L478.15,381.96 L478.82,382.38 L479.48,382.81 L480.15,383.26 L480.81,383.72 L481.48,384.19 L482.14,384.67 L482.81,385.17 L483.47,385.68 L484.14,386.21 L484.80,386.75 L485.47,387.31 L486.13,387.89 L486.80,388.48 L487.46,389.08 L488.13,389.71 L488.79,390.35 L489.46,391.01 L490.12,391.69 L490.79,392.39 L491.45,393.11 L492.12,393.84 L492.78,394.60 L493.45,395.38 L494.11,396.18 L494.78,397.00 L495.44,397.85 L496.11,398.71 L496.78,399.60 L497.44,400.50 L498.11,401.42 L498.77,402.36 L499.44,403.31 L500.10,404.28 L500.77,405.26 L501.43,406.26 L502.10,407.26 L502.76,408.27 L503.43,409.30 L504.09,410.32 L504.76,411.36 L505.42,412.40 L506.09,413.44 L506.75,414.49 L507.42,415.53 L508.08,416.58 L508.75,417.63 L509.41,418.67 L510.08,419.71 L510.74,420.74 L511.41,421.77 L512.07,422.80 L512.74,423.81 L513.40,424.81 L514.07,425.81 L514.73,426.79 L515.40,427.76 L516.06,428.72 L516.73,429.66 L517.39,430.59 L518.06,431.50 L518.72,432.39 L519.39,433.26 L520.05,434.12 L520.72,434.95 L521.38,435.77 L522.05,436.56 L522.71,437.33 L523.38,438.07 L524.04,438.79 L524.71,439.48 L525.37,440.15 L526.04,440.79 L526.70,441.40 L527.37,441.98 L528.04,442.52 L528.70,443.03 L529.37,443.51 L530.03,443.94 L530.70,444.34 L531.36,444.68 L532.03,444.97 L532.69,445.22 L533.36,445.43 L534.02,445.59 L534.69,445.71 L535.35,445.77 L536.02,445.78 L536.68,445.74 L537.35,445.66 L538.01,445.53 L538.68,445.34 L539.34,445.10 L540.01,444.80 L540.67,444.45 L541.34,444.04 L542.00,443.57 L542.67,443.05 L543.33,442.45 L544.00,441.79 L544.66,441.07 L545.33,440.30 L545.99,439.49 L546.66,438.63 L547.32,437.74 L547.99,436.80 L548.65,435.83 L549.32,434.83 L549.98,433.80 L550.65,432.74 L551.31,431.65 L551.98,430.54 L552.64,429.40 L553.31,428.25 L553.97,427.08 L554.64,425.88 L555.30,424.68 L555.97,423.46 L556.63,422.23 L557.30,420.99 L557.96,419.74 L558.63,418.49 L559.30,417.23 L559.96,415.97 L560.63,414.72 L561.29,413.46 L561.96,412.21 L562.62,410.97 L563.29,409.74 L563.95,408.51 L564.62,407.30 L565.28,406.10 L565.95,404.91 L566.61,403.73 L567.28,402.56 L567.94,401.38 L568.61,400.22 L569.27,399.08 L569.94,397.94 L570.60,396.82 L571.27,395.71 L571.93,394.61 L572.60,393.53 L573.26,392.46 L573.93,391.41 L574.59,390.37 L575.26,389.35 L575.92,388.34 L576.59,387.34 L577.25,386.36 L577.92,385.40 L578.58,384.45 L579.25,383.52 L579.91,382.60 L580.58,381.70 L581.24,380.82 L581.91,379.96 L582.57,379.11 L583.24,378.28 L583.90,377.47 L584.57,376.67 L585.23,375.90 L585.90,375.14 L586.56,374.40 L587.23,373.68 L587.89,372.98 L588.56,372.30 L589.22,371.64 L589.89,371.00 L590.56,370.38 L591.22,369.78 L591.89,369.20 L592.55,368.64 L593.22,368.10 L593.88,367.58 L594.55,367.09 L595.21,366.61 L595.88,366.16 L596.54,365.72 L597.21,365.30 L597.87,364.90 L598.54,364.52 L599.20,364.15 L599.87,363.81 L600.53,363.48 L601.20,363.16 L601.86,362.87 L602.53,362.59 L603.19,362.32 L603.86,362.07 L604.52,361.84 L605.19,361.62 L605.85,361.41 L606.52,361.21 L607.18,361.03 L607.85,360.87 L608.51,360.71 L609.18,360.57 L609.84,360.44 L610.51,360.32 L611.17,360.21 L611.84,360.11 L612.50,360.02 L613.17,359.94 L613.83,359.87 L614.50,359.81 L615.16,359.76 L615.83,359.72 L616.49,359.69 L617.16,359.66 L617.82,359.64 L618.49,359.62 L619.15,359.62 L619.82,359.62 L620.48,359.62 L621.15,359.63 L621.81,359.65 L622.48,359.67 L623.15,359.69 L623.81,359.72 L624.48,359.75 L625.14,359.78 L625.81,359.82 L626.47,359.86 L627.14,359.90 L627.80,359.94 L628.47,359.98 L629.13,360.03 L629.80,360.07 L630.46,360.11 L631.13,360.16 L631.79,360.20 L632.46,360.24 L633.12,360.28 L633.79,360.32 L634.45,360.36 L635.12,360.39 L635.78,360.42 L636.45,360.45 L637.11,360.47 L637.78,360.49 L638.44,360.51 L639.11,360.53 L639.77,360.54 L640.44,360.55 L641.10,360.56 L641.77,360.56 L642.43,360.57 L643.10,360.57 L643.76,360.57 L644.43,360.57 L645.09,360.57 L645.76,360.57 L646.42,360.57 L647.09,360.56 L647.75,360.56 L648.42,360.55 L649.08,360.55 L649.75,360.54 L650.41,360.54 L651.08,360.53 L651.74,360.53 L652.41,360.53 L653.07,360.52 L653.74,360.52 L654.41,360.52 L655.07,360.52 L655.74,360.52 L656.40,360.52 L657.07,360.52 L657.73,360.53 L658.40,360.54 L659.06,360.55 L659.73,360.56 L660.39,360.57 L661.06,360.59 L661.72,360.61 L662.39,360.63 L663.05,360.66 L663.72,360.69 L664.38,360.72 L665.05,360.75 L665.71,360.79 L666.38,360.84 L667.04,360.88 L667.71,360.94 L668.37,360.99 L669.04,361.05 L669.70,361.12 L670.37,361.19 L671.03,361.26 L671.70,361.34 L672.36,361.42 L673.03,361.51 L673.69,361.61 L674.36,361.71 L675.02,361.82 L675.69,361.93 L676.35,362.05 L677.02,362.18 L677.68,362.31 L678.35,362.45 L679.01,362.60 L679.68,362.75 L680.34,362.91 L681.01,363.08 L681.67,363.25 L682.34,363.43 L683.00,363.57 L683.67,363.57 L684.33,363.57 L685.00,363.57" stroke="#55e64c" stroke-dasharray="6 4.5"/>
<path d="M401.00,359.10 L401.67,359.10 L402.33,359.10 L403.00,359.10 L403.66,359.10 L404.33,359.15 L404.99,359.25 L405.66,359.35 L406.32,359.45 L406.99,359.54 L407.65,359.63 L408.32,359.72 L408.98,359.80 L409.65,359.89 L410.31,359.97 L410.98,360.04 L411.64,360.12 L412.31,360.19 L412.97,360.27 L413.64,360.34 L414.30,360.41 L414.97,360.47 L415.63,360.54 L416.30,360.60 L416.96,360.66 L417.63,360.72 L418.29,360.78 L418.96,360.84 L419.62,360.89 L420.29,360.95 L420.95,361.00 L421.62,361.05 L422.28,361.11 L422.95,361.16 L423.61,361.21 L424.28,361.26 L424.94,361.31 L425.61,361.36 L426.27,361.40 L426.94,361.45 L427.60,361.50 L428.27,361.55 L428.93,361.59 L429.60,361.64 L430.26,361.69 L430.93,361.74 L431.59,361.79 L432.26,361.83 L432.93,361.88 L433.59,361.93 L434.26,361.98 L434.92,362.03 L435.59,362.08 L436.25,362.13 L436.92,362.18 L437.58,362.24 L438.25,362.29 L438.91,362.35 L439.58,362.40 L440.24,362.46 L440.91,362.52 L441.57,362.58 L442.24,362.64 L442.90,362.71 L443.57,362.77 L444.23,362.84 L444.90,362.91 L445.56,362.98 L446.23,363.05 L446.89,363.13 L447.56,363.21 L448.22,363.28 L448.89,363.37 L449.55,363.45 L450.22,363.54 L450.88,363.63 L451.55,363.72 L452.21,363.81 L452.88,363.91 L453.54,364.01 L454.21,364.11 L454.87,364.22 L455.54,364.33 L456.20,364.44 L456.87,364.55 L457.53,364.67 L458.20,364.79 L458.86,364.92 L459.53,365.05 L460.19,365.18 L460.86,365.32 L461.52,365.46 L462.19,365.60 L462.85,365.75 L463.52,365.90 L464.19,366.06 L464.85,366.22 L465.52,366.39 L466.18,366.56 L466.85,366.73 L467.51,366.91 L468.18,367.09 L468.84,367.28 L469.51,367.47 L470.17,367.67 L470.84,367.87 L471.50,368.08 L472.17,368.29 L472.83,368.51 L473.50,368.73 L474.16,368.96 L474.83,369.20 L475.49,369.44 L476.16,369.68 L476.82,369.93 L477.49,370.19 L478.15,370.45 L478.82,370.72 L479.48,370.99 L480.15,371.27 L480.81,371.56 L481.48,371.85 L482.14,372.15 L482.81,372.46 L483.47,372.77 L484.14,373.09 L484.80,373.41 L485.47,373.74 L486.13,374.08 L486.80,374.43 L487.46,374.78 L488.13,375.14 L488.79,375.50 L489.46,375.88 L490.12,376.26 L490.79,376.65 L491.45,377.04 L492.12,377.44 L492.78,377.85 L493.45,378.26 L494.11,378.68 L494.78,379.11 L495.44,379.54 L496.11,379.98 L496.78,380.42 L497.44,380.87 L498.11,381.32 L498.77,381.77 L499.44,382.23 L500.10,382.70 L500.77,383.16 L501.43,383.63 L502.10,384.11 L502.76,384.58 L503.43,385.06 L504.09,385.54 L504.76,386.03 L505.42,386.51 L506.09,387.00 L506.75,387.49 L507.42,387.98 L508.08,388.47 L508.75,388.96 L509.41,389.45 L510.08,389.94 L510.74,390.44 L511.41,390.93 L512.07,391.42 L512.74,391.91 L513.40,392.40 L514.07,392.89 L514.73,393.38 L515.40,393.87 L516.06,394.35 L516.73,394.84 L517.39,395.32 L518.06,395.79 L518.72,396.27 L519.39,396.73 L520.05,397.20 L520.72,397.65 L521.38,398.10 L522.05,398.54 L522.71,398.97 L523.38,399.39 L524.04,399.80 L524.71,400.19 L525.37,400.58 L526.04,400.95 L526.70,401.31 L527.37,401.66 L528.04,401.99 L528.70,402.31 L529.37,402.60 L530.03,402.88 L530.70,403.14 L531.36,403.38 L532.03,403.60 L532.69,403.79 L533.36,403.95 L534.02,404.09 L534.69,404.19 L535.35,404.27 L536.02,404.32 L536.68,404.33 L537.35,404.31 L538.01,404.25 L538.68,404.16 L539.34,404.03 L540.01,403.86 L540.67,403.66 L541.34,403.42 L542.00,403.15 L542.67,402.84 L543.33,402.49 L544.00,402.11 L544.66,401.71 L545.33,401.27 L545.99,400.80 L546.66,400.30 L547.32,399.77 L547.99,399.22 L548.65,398.65 L549.32,398.06 L549.98,397.45 L550.65,396.83 L551.31,396.19 L551.98,395.54 L552.64,394.88 L553.31,394.21 L553.97,393.53 L554.64,392.84 L555.30,392.15 L555.97,391.45 L556.63,390.74 L557.30,390.03 L557.96,389.31 L558.63,388.59 L559.30,387.88 L559.96,387.16 L560.63,386.44 L561.29,385.72 L561.96,385.01 L562.62,384.30 L563.29,383.59 L563.95,382.89 L564.62,382.20 L565.28,381.51 L565.95,380.84 L566.61,380.17 L567.28,379.52 L567.94,378.88 L568.61,378.25 L569.27,377.63 L569.94,377.02 L570.60,376.42 L571.27,375.83 L571.93,375.25 L572.60,374.68 L573.26,374.13 L573.93,373.58 L574.59,373.05 L575.26,372.53 L575.92,372.02 L576.59,371.52 L577.25,371.03 L577.92,370.55 L578.58,370.08 L579.25,369.63 L579.91,369.18 L580.58,368.74 L581.24,368.32 L581.91,367.90 L582.57,367.50 L583.24,367.10 L583.90,366.71 L584.57,366.34 L585.23,365.97 L585.90,365.61 L586.56,365.26 L587.23,364.92 L587.89,364.59 L588.56,364.26 L589.22,363.95 L589.89,363.64 L590.56,363.35 L591.22,363.06 L591.89,362.78 L592.55,362.50 L593.22,362.24 L593.88,361.98 L594.55,361.73 L595.21,361.49 L595.88,361.25 L596.54,361.03 L597.21,360.81 L597.87,360.59 L598.54,360.38 L599.20,360.19 L599.87,359.99 L600.53,359.81 L601.20,359.62 L601.86,359.45 L602.53,359.28 L603.19,359.12 L603.86,358.97 L604.52,358.82 L605.19,358.67 L605.85,358.53 L606.52,358.40 L607.18,358.28 L607.85,358.15 L608.51,358.04 L609.18,357.93 L609.84,357.82 L610.51,357.72 L611.17,357.63 L611.84,357.54 L612.50,357.46 L613.17,357.38 L613.83,357.30 L614.50,357.23 L615.16,357.16 L615.83,357.10 L616.49,357.05 L617.16,356.99 L617.82,356.95 L618.49,356.90 L619.15,356.86 L619.82,356.83 L620.48,356.80 L621.15,356.77 L621.81,356.75 L622.48,356.73 L623.15,356.71 L623.81,356.70 L624.48,356.69 L625.14,356.68 L625.81,356.68 L626.47,356.68 L627.14,356.68 L627.80,356.69 L628.47,356.70 L629.13,356.71 L629.80,356.72 L630.46,356.74 L631.13,356.76 L631.79,356.79 L632.46,356.81 L633.12,356.84 L633.79,356.87 L634.45,356.90 L635.12,356.94 L635.78,356.97 L636.45,357.01 L637.11,357.05 L637.78,357.09 L638.44,357.14 L639.11,357.18 L639.77,357.23 L640.44,357.28 L641.10,357.33 L641.77,357.38 L642.43,357.43 L643.10,357.48 L643.76,357.54 L644.43,357.59 L645.09,357.65 L645.76,357.71 L646.42,357.77 L647.09,357.82 L647.75,357.88 L648.42,357.94 L649.08,358.00 L649.75,358.06 L650.41,358.12 L651.08,358.18 L651.74,358.24 L652.41,358.30 L653.07,358.36 L653.74,358.42 L654.41,358.48 L655.07,358.54 L655.74,358.60 L656.40,358.66 L657.07,358.71 L657.73,358.77 L658.40,358.83 L659.06,358.88 L659.73,358.94 L660.39,358.99 L661.06,359.04 L661.72,359.09 L662.39,359.14 L663.05,359.19 L663.72,359.24 L664.38,359.28 L665.05,359.32 L665.71,359.37 L666.38,359.41 L667.04,359.44 L667.71,359.48 L668.37,359.51 L669.04,359.54 L669.70,359.57 L670.37,359.60 L671.03,359.63 L671.70,359.65 L672.36,359.67 L673.03,359.68 L673.69,359.70 L674.36,359.71 L675.02,359.72 L675.69,359.72 L676.35,359.73 L677.02,359.73 L677.68,359.72 L678.35,359.72 L679.01,359.71 L679.68,359.69 L680.34,359.67 L681.01,359.65 L681.67,359.63 L682.34,359.60 L683.00,359.59 L683.67,359.59 L684.33,359.59 L685.00,359.59" stroke="#f22a14" stroke-dasharray="6 4.5"/>
</g>
<rect x="404.05" y="356.30" width="278.25" height="209.60" fill="none" stroke="#262626" stroke-width="1.85"/>
<path d="M404.05,398.22h3.80M682.30,398.22h-3.80M404.05,440.14h3.80M682.30,440.14h-3.80M404.05,482.06h3.80M682.30,482.06h-3.80M404.05,523.98h3.80M682.30,523.98h-3.80M473.61,565.90v-3.80M473.61,356.30v3.80M543.17,565.90v-3.80M543.17,356.30v3.80M612.74,565.90v-3.80M612.74,356.30v3.80" stroke="#262626" stroke-width="1.8" fill="none"/>
<g font-family='"Liberation Sans", sans-serif' font-size="14.0" fill="#262626">
<text x="399.05" y="362.00" text-anchor="end">0</text>
<text x="399.05" y="403.92" text-anchor="end">-0.1</text>
<text x="399.05" y="445.84" text-anchor="end">-0.2</text>
<text x="399.05" y="487.76" text-anchor="end">-0.3</text>
<text x="399.05" y="529.68" text-anchor="end">-0.4</text>
<text x="399.05" y="571.60" text-anchor="end">-0.5</text>
<text x="404.05" y="584.50" text-anchor="middle">-2</text>
<text x="473.61" y="584.50" text-anchor="middle">-1</text>
<text x="543.17" y="584.50" text-anchor="middle">0</text>
<text x="612.74" y="584.50" text-anchor="middle">1</text>
<text x="682.30" y="584.50" text-anchor="middle">2</text>
<text transform="translate(370.85,458.60) rotate(-90)" text-anchor="middle" font-style="italic">Sk</text>
</g>
<text x="543.67" y="601.90" text-anchor="middle" font-family='"Liberation Serif", serif' font-style="italic" font-size="13.5" fill="#262626">ξ</text>
<rect x="412.20" y="500.10" width="80.55" height="57.15" fill="#fff" stroke="#262626" stroke-width="1.8"/>
<path d="M414.90,510.20H440.00" stroke="#2342e6" stroke-width="1.7"/>
<text x="442.70" y="514.70" font-family='"Liberation Sans", sans-serif' font-size="10" fill="#000"><tspan font-style="italic">Re</tspan> = 500</text>
<path d="M414.90,528.30H440.00" stroke="#55e64c" stroke-width="1.7"/>
<text x="442.70" y="532.80" font-family='"Liberation Sans", sans-serif' font-size="10" fill="#000"><tspan font-style="italic">Re</tspan> = 900</text>
<path d="M414.90,546.20H440.00" stroke="#f22a14" stroke-width="1.7"/>
<text x="442.70" y="550.70" font-family='"Liberation Sans", sans-serif' font-size="10" fill="#000"><tspan font-style="italic">Re</tspan> = 1300</text>
<text x="589.00" y="532.80" font-family='"Liberation Sans", sans-serif' font-size="10.2" letter-spacing="0.1" fill="#000">__Fe<tspan font-size="7.8" dy="5.2">3</tspan><tspan dy="-5.2">O</tspan><tspan font-size="7.8" dy="5.2">4</tspan><tspan dy="-5.2"></tspan></text>
<text x="589.00" y="551.40" font-family='"Liberation Sans", sans-serif' font-size="10.2" letter-spacing="0.1" fill="#000">---Fe<tspan font-size="7.8" dy="5.2">3</tspan><tspan dy="-5.2">O</tspan><tspan font-size="7.8" dy="5.2">4</tspan><tspan dy="-5.2">-MWCNT</tspan></text>
<text x="543.20" y="653.70" text-anchor="middle" font-family='"Liberation Serif", serif' font-size="20" fill="#000">(d)</text>
<clipPath id="clipe"><rect x="231.80" y="707.75" width="270.00" height="209.95"/></clipPath>
<g clip-path="url(#clipe)" fill="none" stroke-width="1.7" stroke-linejoin="round">
<path d="M228.70,717.97 L229.37,717.97 L230.03,717.97 L230.70,717.97 L231.36,717.97 L232.03,718.03 L232.70,718.15 L233.36,718.27 L234.03,718.40 L234.70,718.53 L235.36,718.66 L236.03,718.79 L236.69,718.92 L237.36,719.06 L238.03,719.20 L238.69,719.34 L239.36,719.48 L240.03,719.63 L240.69,719.78 L241.36,719.93 L242.02,720.08 L242.69,720.24 L243.36,720.39 L244.02,720.56 L244.69,720.72 L245.35,720.89 L246.02,721.06 L246.69,721.23 L247.35,721.40 L248.02,721.58 L248.69,721.76 L249.35,721.95 L250.02,722.13 L250.68,722.32 L251.35,722.52 L252.02,722.71 L252.68,722.91 L253.35,723.12 L254.01,723.32 L254.68,723.53 L255.35,723.75 L256.01,723.96 L256.68,724.18 L257.35,724.40 L258.01,724.63 L258.68,724.86 L259.34,725.10 L260.01,725.33 L260.68,725.57 L261.34,725.82 L262.01,726.07 L262.68,726.32 L263.34,726.58 L264.01,726.84 L264.67,727.10 L265.34,727.37 L266.01,727.64 L266.67,727.92 L267.34,728.20 L268.00,728.48 L268.67,728.77 L269.34,729.07 L270.00,729.36 L270.67,729.67 L271.34,729.97 L272.00,730.28 L272.67,730.60 L273.33,730.92 L274.00,731.24 L274.67,731.57 L275.33,731.90 L276.00,732.24 L276.67,732.58 L277.33,732.93 L278.00,733.28 L278.66,733.64 L279.33,734.00 L280.00,734.36 L280.66,734.74 L281.33,735.11 L281.99,735.49 L282.66,735.88 L283.33,736.27 L283.99,736.67 L284.66,737.07 L285.33,737.48 L285.99,737.89 L286.66,738.32 L287.32,738.75 L287.99,739.18 L288.66,739.63 L289.32,740.09 L289.99,740.56 L290.66,741.04 L291.32,741.53 L291.99,742.03 L292.65,742.54 L293.32,743.07 L293.99,743.61 L294.65,744.17 L295.32,744.74 L295.98,745.32 L296.65,745.92 L297.32,746.54 L297.98,747.18 L298.65,747.83 L299.32,748.50 L299.98,749.19 L300.65,749.90 L301.31,750.64 L301.98,751.39 L302.65,752.16 L303.31,752.95 L303.98,753.77 L304.64,754.61 L305.31,755.47 L305.98,756.36 L306.64,757.27 L307.31,758.21 L307.98,759.17 L308.64,760.16 L309.31,761.18 L309.97,762.23 L310.64,763.30 L311.31,764.40 L311.97,765.53 L312.64,766.69 L313.31,767.89 L313.97,769.11 L314.64,770.37 L315.30,771.65 L315.97,772.97 L316.64,774.33 L317.30,775.71 L317.97,777.14 L318.63,778.59 L319.30,780.09 L319.97,781.62 L320.63,783.18 L321.30,784.78 L321.97,786.40 L322.63,788.06 L323.30,789.75 L323.96,791.46 L324.63,793.19 L325.30,794.95 L325.96,796.73 L326.63,798.53 L327.30,800.34 L327.96,802.17 L328.63,804.02 L329.29,805.88 L329.96,807.75 L330.63,809.63 L331.29,811.51 L331.96,813.40 L332.62,815.30 L333.29,817.20 L333.96,819.10 L334.62,821.00 L335.29,822.90 L335.96,824.79 L336.62,826.68 L337.29,828.56 L337.95,830.43 L338.62,832.29 L339.29,834.13 L339.95,835.97 L340.62,837.78 L341.29,839.58 L341.95,841.36 L342.62,843.12 L343.28,844.86 L343.95,846.57 L344.62,848.25 L345.28,849.90 L345.95,851.51 L346.61,853.09 L347.28,854.61 L347.95,856.09 L348.61,857.52 L349.28,858.89 L349.95,860.20 L350.61,861.45 L351.28,862.63 L351.94,863.74 L352.61,864.78 L353.28,865.74 L353.94,866.61 L354.61,867.40 L355.27,868.11 L355.94,868.71 L356.61,869.23 L357.27,869.64 L357.94,869.94 L358.61,870.14 L359.27,870.23 L359.94,870.20 L360.60,870.05 L361.27,869.78 L361.94,869.38 L362.60,868.86 L363.27,868.21 L363.94,867.45 L364.60,866.57 L365.27,865.58 L365.93,864.49 L366.60,863.29 L367.27,861.99 L367.93,860.60 L368.60,859.12 L369.26,857.55 L369.93,855.89 L370.60,854.15 L371.26,852.34 L371.93,850.46 L372.60,848.50 L373.26,846.48 L373.93,844.41 L374.59,842.27 L375.26,840.08 L375.93,837.84 L376.59,835.55 L377.26,833.22 L377.93,830.85 L378.59,828.45 L379.26,826.01 L379.92,823.55 L380.59,821.07 L381.26,818.57 L381.92,816.05 L382.59,813.51 L383.25,810.97 L383.92,808.43 L384.59,805.89 L385.25,803.34 L385.92,800.81 L386.59,798.28 L387.25,795.77 L387.92,793.28 L388.58,790.81 L389.25,788.36 L389.92,785.94 L390.58,783.55 L391.25,781.20 L391.91,778.88 L392.58,776.60 L393.25,774.36 L393.91,772.16 L394.58,770.02 L395.25,767.93 L395.91,765.89 L396.58,763.91 L397.24,761.99 L397.91,760.13 L398.58,758.34 L399.24,756.61 L399.91,754.94 L400.58,753.33 L401.24,751.77 L401.91,750.27 L402.57,748.82 L403.24,747.42 L403.91,746.07 L404.57,744.76 L405.24,743.49 L405.90,742.27 L406.57,741.08 L407.24,739.93 L407.90,738.81 L408.57,737.73 L409.24,736.68 L409.90,735.65 L410.57,734.65 L411.23,733.69 L411.90,732.74 L412.57,731.83 L413.23,730.94 L413.90,730.08 L414.57,729.24 L415.23,728.43 L415.90,727.64 L416.56,726.88 L417.23,726.14 L417.90,725.42 L418.56,724.73 L419.23,724.07 L419.89,723.42 L420.56,722.80 L421.23,722.20 L421.89,721.62 L422.56,721.06 L423.23,720.52 L423.89,720.00 L424.56,719.51 L425.22,719.03 L425.89,718.57 L426.56,718.13 L427.22,717.71 L427.89,717.30 L428.56,716.92 L429.22,716.55 L429.89,716.20 L430.55,715.86 L431.22,715.54 L431.89,715.24 L432.55,714.95 L433.22,714.68 L433.88,714.42 L434.55,714.18 L435.22,713.94 L435.88,713.73 L436.55,713.52 L437.22,713.33 L437.88,713.15 L438.55,712.98 L439.21,712.83 L439.88,712.68 L440.55,712.55 L441.21,712.42 L441.88,712.31 L442.54,712.21 L443.21,712.11 L443.88,712.02 L444.54,711.95 L445.21,711.88 L445.88,711.81 L446.54,711.76 L447.21,711.71 L447.87,711.67 L448.54,711.63 L449.21,711.60 L449.87,711.58 L450.54,711.56 L451.21,711.54 L451.87,711.53 L452.54,711.52 L453.20,711.52 L453.87,711.52 L454.54,711.52 L455.20,711.52 L455.87,711.53 L456.53,711.53 L457.20,711.54 L457.87,711.55 L458.53,711.56 L459.20,711.57 L459.87,711.58 L460.53,711.59 L461.20,711.60 L461.86,711.61 L462.53,711.62 L463.20,711.64 L463.86,711.65 L464.53,711.67 L465.20,711.69 L465.86,711.71 L466.53,711.73 L467.19,711.75 L467.86,711.77 L468.53,711.80 L469.19,711.83 L469.86,711.86 L470.52,711.89 L471.19,711.93 L471.86,711.96 L472.52,712.00 L473.19,712.05 L473.86,712.10 L474.52,712.15 L475.19,712.20 L475.85,712.26 L476.52,712.32 L477.19,712.38 L477.85,712.45 L478.52,712.52 L479.19,712.59 L479.85,712.67 L480.52,712.76 L481.18,712.85 L481.85,712.94 L482.52,713.04 L483.18,713.14 L483.85,713.25 L484.51,713.36 L485.18,713.48 L485.85,713.60 L486.51,713.73 L487.18,713.86 L487.85,714.00 L488.51,714.15 L489.18,714.30 L489.84,714.45 L490.51,714.62 L491.18,714.79 L491.84,714.96 L492.51,715.15 L493.17,715.34 L493.84,715.53 L494.51,715.74 L495.17,715.95 L495.84,716.16 L496.51,716.39 L497.17,716.62 L497.84,716.86 L498.50,717.11 L499.17,717.36 L499.84,717.63 L500.50,717.90 L501.17,718.18 L501.84,718.32 L502.50,718.32 L503.17,718.32 L503.83,718.32 L504.50,718.32" stroke="#2342e6"/>
<path d="M228.70,720.52 L229.37,720.52 L230.03,720.52 L230.70,720.52 L231.36,720.52 L232.03,720.55 L232.70,720.64 L233.36,720.72 L234.03,720.81 L234.70,720.91 L235.36,721.01 L236.03,721.11 L236.69,721.22 L237.36,721.33 L238.03,721.44 L238.69,721.56 L239.36,721.69 L240.03,721.81 L240.69,721.95 L241.36,722.08 L242.02,722.22 L242.69,722.37 L243.36,722.52 L244.02,722.67 L244.69,722.83 L245.35,722.99 L246.02,723.15 L246.69,723.32 L247.35,723.50 L248.02,723.68 L248.69,723.86 L249.35,724.04 L250.02,724.24 L250.68,724.43 L251.35,724.63 L252.02,724.83 L252.68,725.04 L253.35,725.25 L254.01,725.47 L254.68,725.69 L255.35,725.92 L256.01,726.15 L256.68,726.38 L257.35,726.62 L258.01,726.86 L258.68,727.11 L259.34,727.36 L260.01,727.61 L260.68,727.87 L261.34,728.14 L262.01,728.40 L262.68,728.68 L263.34,728.95 L264.01,729.23 L264.67,729.52 L265.34,729.81 L266.01,730.10 L266.67,730.40 L267.34,730.70 L268.00,731.01 L268.67,731.32 L269.34,731.64 L270.00,731.96 L270.67,732.28 L271.34,732.61 L272.00,732.94 L272.67,733.28 L273.33,733.62 L274.00,733.97 L274.67,734.32 L275.33,734.68 L276.00,735.04 L276.67,735.40 L277.33,735.77 L278.00,736.14 L278.66,736.52 L279.33,736.90 L280.00,737.29 L280.66,737.68 L281.33,738.07 L281.99,738.47 L282.66,738.88 L283.33,739.28 L283.99,739.70 L284.66,740.12 L285.33,740.54 L285.99,740.97 L286.66,741.41 L287.32,741.85 L287.99,742.31 L288.66,742.77 L289.32,743.24 L289.99,743.73 L290.66,744.22 L291.32,744.73 L291.99,745.25 L292.65,745.79 L293.32,746.34 L293.99,746.90 L294.65,747.49 L295.32,748.09 L295.98,748.70 L296.65,749.34 L297.32,749.99 L297.98,750.66 L298.65,751.36 L299.32,752.07 L299.98,752.81 L300.65,753.57 L301.31,754.35 L301.98,755.16 L302.65,755.99 L303.31,756.85 L303.98,757.74 L304.64,758.65 L305.31,759.59 L305.98,760.56 L306.64,761.56 L307.31,762.59 L307.98,763.64 L308.64,764.74 L309.31,765.86 L309.97,767.02 L310.64,768.21 L311.31,769.43 L311.97,770.69 L312.64,771.99 L313.31,773.32 L313.97,774.69 L314.64,776.10 L315.30,777.55 L315.97,779.04 L316.64,780.57 L317.30,782.14 L317.97,783.75 L318.63,785.41 L319.30,787.10 L319.97,788.84 L320.63,790.62 L321.30,792.43 L321.97,794.27 L322.63,796.15 L323.30,798.07 L323.96,800.01 L324.63,801.97 L325.30,803.97 L325.96,805.98 L326.63,808.02 L327.30,810.08 L327.96,812.16 L328.63,814.25 L329.29,816.35 L329.96,818.47 L330.63,820.60 L331.29,822.74 L331.96,824.89 L332.62,827.04 L333.29,829.19 L333.96,831.34 L334.62,833.50 L335.29,835.65 L335.96,837.80 L336.62,839.94 L337.29,842.07 L337.95,844.19 L338.62,846.30 L339.29,848.40 L339.95,850.48 L340.62,852.55 L341.29,854.59 L341.95,856.61 L342.62,858.61 L343.28,860.58 L343.95,862.51 L344.62,864.41 L345.28,866.27 L345.95,868.08 L346.61,869.85 L347.28,871.57 L347.95,873.23 L348.61,874.84 L349.28,876.38 L349.95,877.86 L350.61,879.27 L351.28,880.61 L351.94,881.87 L352.61,883.06 L353.28,884.16 L353.94,885.18 L354.61,886.11 L355.27,886.94 L355.94,887.68 L356.61,888.32 L357.27,888.85 L357.94,889.28 L358.61,889.59 L359.27,889.80 L359.94,889.88 L360.60,889.84 L361.27,889.68 L361.94,889.39 L362.60,888.98 L363.27,888.44 L363.94,887.78 L364.60,887.00 L365.27,886.10 L365.93,885.10 L366.60,883.98 L367.27,882.77 L367.93,881.45 L368.60,880.03 L369.26,878.52 L369.93,876.92 L370.60,875.23 L371.26,873.45 L371.93,871.59 L372.60,869.65 L373.26,867.64 L373.93,865.56 L374.59,863.40 L375.26,861.18 L375.93,858.90 L376.59,856.56 L377.26,854.17 L377.93,851.72 L378.59,849.22 L379.26,846.68 L379.92,844.09 L380.59,841.46 L381.26,838.80 L381.92,836.10 L382.59,833.38 L383.25,830.63 L383.92,827.85 L384.59,825.06 L385.25,822.24 L385.92,819.42 L386.59,816.58 L387.25,813.74 L387.92,810.91 L388.58,808.08 L389.25,805.26 L389.92,802.46 L390.58,799.68 L391.25,796.93 L391.91,794.22 L392.58,791.54 L393.25,788.92 L393.91,786.34 L394.58,783.82 L395.25,781.36 L395.91,778.98 L396.58,776.66 L397.24,774.42 L397.91,772.27 L398.58,770.21 L399.24,768.23 L399.91,766.32 L400.58,764.50 L401.24,762.74 L401.91,761.05 L402.57,759.43 L403.24,757.87 L403.91,756.37 L404.57,754.93 L405.24,753.53 L405.90,752.19 L406.57,750.88 L407.24,749.62 L407.90,748.40 L408.57,747.21 L409.24,746.05 L409.90,744.92 L410.57,743.82 L411.23,742.75 L411.90,741.70 L412.57,740.68 L413.23,739.69 L413.90,738.72 L414.57,737.78 L415.23,736.86 L415.90,735.97 L416.56,735.11 L417.23,734.26 L417.90,733.45 L418.56,732.65 L419.23,731.88 L419.89,731.14 L420.56,730.41 L421.23,729.71 L421.89,729.03 L422.56,728.37 L423.23,727.73 L423.89,727.12 L424.56,726.52 L425.22,725.94 L425.89,725.39 L426.56,724.85 L427.22,724.34 L427.89,723.84 L428.56,723.36 L429.22,722.90 L429.89,722.45 L430.55,722.03 L431.22,721.62 L431.89,721.22 L432.55,720.85 L433.22,720.49 L433.88,720.14 L434.55,719.81 L435.22,719.50 L435.88,719.20 L436.55,718.91 L437.22,718.64 L437.88,718.38 L438.55,718.14 L439.21,717.90 L439.88,717.68 L440.55,717.48 L441.21,717.28 L441.88,717.10 L442.54,716.92 L443.21,716.76 L443.88,716.61 L444.54,716.46 L445.21,716.33 L445.88,716.21 L446.54,716.09 L447.21,715.99 L447.87,715.89 L448.54,715.80 L449.21,715.72 L449.87,715.64 L450.54,715.58 L451.21,715.51 L451.87,715.46 L452.54,715.41 L453.20,715.36 L453.87,715.33 L454.54,715.29 L455.20,715.26 L455.87,715.23 L456.53,715.21 L457.20,715.19 L457.87,715.18 L458.53,715.16 L459.20,715.15 L459.87,715.14 L460.53,715.14 L461.20,715.13 L461.86,715.13 L462.53,715.14 L463.20,715.14 L463.86,715.15 L464.53,715.16 L465.20,715.17 L465.86,715.19 L466.53,715.21 L467.19,715.23 L467.86,715.25 L468.53,715.28 L469.19,715.31 L469.86,715.34 L470.52,715.38 L471.19,715.42 L471.86,715.46 L472.52,715.51 L473.19,715.55 L473.86,715.61 L474.52,715.66 L475.19,715.72 L475.85,715.78 L476.52,715.84 L477.19,715.91 L477.85,715.98 L478.52,716.06 L479.19,716.14 L479.85,716.22 L480.52,716.30 L481.18,716.39 L481.85,716.48 L482.52,716.58 L483.18,716.68 L483.85,716.78 L484.51,716.89 L485.18,717.00 L485.85,717.11 L486.51,717.23 L487.18,717.35 L487.85,717.47 L488.51,717.60 L489.18,717.74 L489.84,717.87 L490.51,718.01 L491.18,718.16 L491.84,718.31 L492.51,718.46 L493.17,718.61 L493.84,718.77 L494.51,718.94 L495.17,719.11 L495.84,719.28 L496.51,719.46 L497.17,719.64 L497.84,719.82 L498.50,720.01 L499.17,720.21 L499.84,720.40 L500.50,720.61 L501.17,720.81 L501.84,720.92 L502.50,720.92 L503.17,720.92 L503.83,720.92 L504.50,720.92" stroke="#55e64c"/>
<path d="M228.70,722.46 L229.37,722.46 L230.03,722.46 L230.70,722.46 L231.36,722.46 L232.03,722.54 L232.70,722.70 L233.36,722.85 L234.03,723.01 L234.70,723.16 L235.36,723.31 L236.03,723.47 L236.69,723.62 L237.36,723.77 L238.03,723.92 L238.69,724.07 L239.36,724.22 L240.03,724.37 L240.69,724.53 L241.36,724.68 L242.02,724.83 L242.69,724.98 L243.36,725.14 L244.02,725.29 L244.69,725.45 L245.35,725.61 L246.02,725.77 L246.69,725.93 L247.35,726.09 L248.02,726.26 L248.69,726.43 L249.35,726.59 L250.02,726.77 L250.68,726.94 L251.35,727.12 L252.02,727.30 L252.68,727.48 L253.35,727.66 L254.01,727.85 L254.68,728.04 L255.35,728.24 L256.01,728.43 L256.68,728.64 L257.35,728.84 L258.01,729.05 L258.68,729.27 L259.34,729.49 L260.01,729.71 L260.68,729.94 L261.34,730.17 L262.01,730.40 L262.68,730.65 L263.34,730.89 L264.01,731.14 L264.67,731.40 L265.34,731.67 L266.01,731.93 L266.67,732.21 L267.34,732.49 L268.00,732.78 L268.67,733.07 L269.34,733.37 L270.00,733.67 L270.67,733.99 L271.34,734.30 L272.00,734.63 L272.67,734.96 L273.33,735.30 L274.00,735.65 L274.67,736.01 L275.33,736.37 L276.00,736.74 L276.67,737.12 L277.33,737.50 L278.00,737.90 L278.66,738.30 L279.33,738.71 L280.00,739.13 L280.66,739.56 L281.33,740.00 L281.99,740.44 L282.66,740.90 L283.33,741.37 L283.99,741.84 L284.66,742.32 L285.33,742.82 L285.99,743.32 L286.66,743.84 L287.32,744.37 L287.99,744.91 L288.66,745.47 L289.32,746.04 L289.99,746.62 L290.66,747.22 L291.32,747.83 L291.99,748.46 L292.65,749.11 L293.32,749.77 L293.99,750.45 L294.65,751.15 L295.32,751.86 L295.98,752.60 L296.65,753.35 L297.32,754.13 L297.98,754.93 L298.65,755.74 L299.32,756.58 L299.98,757.45 L300.65,758.33 L301.31,759.24 L301.98,760.17 L302.65,761.13 L303.31,762.11 L303.98,763.12 L304.64,764.16 L305.31,765.22 L305.98,766.31 L306.64,767.42 L307.31,768.57 L307.98,769.74 L308.64,770.95 L309.31,772.18 L309.97,773.45 L310.64,774.74 L311.31,776.07 L311.97,777.43 L312.64,778.82 L313.31,780.25 L313.97,781.71 L314.64,783.20 L315.30,784.73 L315.97,786.30 L316.64,787.90 L317.30,789.54 L317.97,791.21 L318.63,792.92 L319.30,794.67 L319.97,796.46 L320.63,798.28 L321.30,800.14 L321.97,802.04 L322.63,803.97 L323.30,805.95 L323.96,807.96 L324.63,810.01 L325.30,812.10 L325.96,814.23 L326.63,816.39 L327.30,818.60 L327.96,820.84 L328.63,823.12 L329.29,825.45 L329.96,827.81 L330.63,830.21 L331.29,832.63 L331.96,835.09 L332.62,837.56 L333.29,840.06 L333.96,842.56 L334.62,845.07 L335.29,847.58 L335.96,850.10 L336.62,852.60 L337.29,855.10 L337.95,857.57 L338.62,860.03 L339.29,862.46 L339.95,864.86 L340.62,867.23 L341.29,869.56 L341.95,871.86 L342.62,874.11 L343.28,876.32 L343.95,878.49 L344.62,880.60 L345.28,882.66 L345.95,884.66 L346.61,886.60 L347.28,888.48 L347.95,890.30 L348.61,892.05 L349.28,893.73 L349.95,895.33 L350.61,896.86 L351.28,898.30 L351.94,899.66 L352.61,900.94 L353.28,902.13 L353.94,903.23 L354.61,904.23 L355.27,905.13 L355.94,905.93 L356.61,906.63 L357.27,907.22 L357.94,907.70 L358.61,908.07 L359.27,908.33 L359.94,908.46 L360.60,908.47 L361.27,908.36 L361.94,908.12 L362.60,907.75 L363.27,907.25 L363.94,906.61 L364.60,905.83 L365.27,904.90 L365.93,903.83 L366.60,902.58 L367.27,901.15 L367.93,899.53 L368.60,897.70 L369.26,895.67 L369.93,893.41 L370.60,890.96 L371.26,888.35 L371.93,885.65 L372.60,882.90 L373.26,880.15 L373.93,877.45 L374.59,874.84 L375.26,872.32 L375.93,869.87 L376.59,867.49 L377.26,865.16 L377.93,862.87 L378.59,860.61 L379.26,858.38 L379.92,856.14 L380.59,853.91 L381.26,851.66 L381.92,849.38 L382.59,847.06 L383.25,844.70 L383.92,842.27 L384.59,839.77 L385.25,837.18 L385.92,834.50 L386.59,831.72 L387.25,828.86 L387.92,825.93 L388.58,822.97 L389.25,819.98 L389.92,816.99 L390.58,814.03 L391.25,811.10 L391.91,808.23 L392.58,805.43 L393.25,802.70 L393.91,800.05 L394.58,797.46 L395.25,794.93 L395.91,792.48 L396.58,790.09 L397.24,787.76 L397.91,785.50 L398.58,783.29 L399.24,781.15 L399.91,779.06 L400.58,777.03 L401.24,775.06 L401.91,773.14 L402.57,771.28 L403.24,769.47 L403.91,767.70 L404.57,765.99 L405.24,764.33 L405.90,762.71 L406.57,761.14 L407.24,759.61 L407.90,758.13 L408.57,756.69 L409.24,755.28 L409.90,753.92 L410.57,752.60 L411.23,751.31 L411.90,750.06 L412.57,748.84 L413.23,747.66 L413.90,746.50 L414.57,745.38 L415.23,744.29 L415.90,743.23 L416.56,742.20 L417.23,741.20 L417.90,740.22 L418.56,739.28 L419.23,738.36 L419.89,737.48 L420.56,736.61 L421.23,735.78 L421.89,734.97 L422.56,734.19 L423.23,733.43 L423.89,732.70 L424.56,731.99 L425.22,731.31 L425.89,730.65 L426.56,730.01 L427.22,729.39 L427.89,728.80 L428.56,728.23 L429.22,727.68 L429.89,727.16 L430.55,726.65 L431.22,726.16 L431.89,725.70 L432.55,725.25 L433.22,724.82 L433.88,724.41 L434.55,724.02 L435.22,723.65 L435.88,723.29 L436.55,722.95 L437.22,722.63 L437.88,722.32 L438.55,722.02 L439.21,721.75 L439.88,721.48 L440.55,721.24 L441.21,721.00 L441.88,720.78 L442.54,720.57 L443.21,720.37 L443.88,720.19 L444.54,720.01 L445.21,719.85 L445.88,719.70 L446.54,719.56 L447.21,719.43 L447.87,719.30 L448.54,719.19 L449.21,719.09 L449.87,718.99 L450.54,718.90 L451.21,718.82 L451.87,718.74 L452.54,718.67 L453.20,718.61 L453.87,718.55 L454.54,718.50 L455.20,718.45 L455.87,718.41 L456.53,718.37 L457.20,718.33 L457.87,718.30 L458.53,718.27 L459.20,718.24 L459.87,718.21 L460.53,718.18 L461.20,718.16 L461.86,718.14 L462.53,718.12 L463.20,718.11 L463.86,718.10 L464.53,718.09 L465.20,718.08 L465.86,718.08 L466.53,718.08 L467.19,718.08 L467.86,718.08 L468.53,718.09 L469.19,718.10 L469.86,718.12 L470.52,718.13 L471.19,718.15 L471.86,718.18 L472.52,718.20 L473.19,718.23 L473.86,718.27 L474.52,718.30 L475.19,718.34 L475.85,718.39 L476.52,718.43 L477.19,718.49 L477.85,718.54 L478.52,718.60 L479.19,718.66 L479.85,718.73 L480.52,718.79 L481.18,718.87 L481.85,718.95 L482.52,719.03 L483.18,719.11 L483.85,719.20 L484.51,719.30 L485.18,719.39 L485.85,719.50 L486.51,719.60 L487.18,719.71 L487.85,719.83 L488.51,719.95 L489.18,720.07 L489.84,720.20 L490.51,720.33 L491.18,720.47 L491.84,720.61 L492.51,720.76 L493.17,720.91 L493.84,721.07 L494.51,721.23 L495.17,721.40 L495.84,721.57 L496.51,721.75 L497.17,721.93 L497.84,722.12 L498.50,722.31 L499.17,722.51 L499.84,722.71 L500.50,722.92 L501.17,723.13 L501.84,723.24 L502.50,723.24 L503.17,723.24 L503.83,723.24 L504.50,723.24" stroke="#f22a14"/>
<path d="M228.70,717.97 L229.37,717.97 L230.03,717.97 L230.70,717.97 L231.36,717.97 L232.03,718.03 L232.70,718.15 L233.36,718.27 L234.03,718.40 L234.70,718.53 L235.36,718.66 L236.03,718.79 L236.69,718.92 L237.36,719.06 L238.03,719.20 L238.69,719.34 L239.36,719.48 L240.03,719.63 L240.69,719.78 L241.36,719.93 L242.02,720.08 L242.69,720.24 L243.36,720.39 L244.02,720.56 L244.69,720.72 L245.35,720.89 L246.02,721.06 L246.69,721.23 L247.35,721.40 L248.02,721.58 L248.69,721.76 L249.35,721.95 L250.02,722.13 L250.68,722.32 L251.35,722.52 L252.02,722.71 L252.68,722.91 L253.35,723.12 L254.01,723.32 L254.68,723.53 L255.35,723.75 L256.01,723.96 L256.68,724.18 L257.35,724.40 L258.01,724.63 L258.68,724.86 L259.34,725.10 L260.01,725.33 L260.68,725.57 L261.34,725.82 L262.01,726.07 L262.68,726.32 L263.34,726.58 L264.01,726.84 L264.67,727.10 L265.34,727.37 L266.01,727.64 L266.67,727.92 L267.34,728.20 L268.00,728.48 L268.67,728.77 L269.34,729.07 L270.00,729.36 L270.67,729.67 L271.34,729.97 L272.00,730.28 L272.67,730.60 L273.33,730.92 L274.00,731.24 L274.67,731.57 L275.33,731.90 L276.00,732.24 L276.67,732.58 L277.33,732.93 L278.00,733.28 L278.66,733.64 L279.33,734.00 L280.00,734.36 L280.66,734.74 L281.33,735.11 L281.99,735.49 L282.66,735.88 L283.33,736.27 L283.99,736.67 L284.66,737.07 L285.33,737.48 L285.99,737.89 L286.66,738.32 L287.32,738.75 L287.99,739.18 L288.66,739.63 L289.32,740.09 L289.99,740.56 L290.66,741.04 L291.32,741.53 L291.99,742.03 L292.65,742.54 L293.32,743.07 L293.99,743.61 L294.65,744.17 L295.32,744.74 L295.98,745.32 L296.65,745.92 L297.32,746.54 L297.98,747.18 L298.65,747.83 L299.32,748.50 L299.98,749.19 L300.65,749.90 L301.31,750.64 L301.98,751.39 L302.65,752.16 L303.31,752.95 L303.98,753.77 L304.64,754.61 L305.31,755.47 L305.98,756.36 L306.64,757.27 L307.31,758.21 L307.98,759.17 L308.64,760.16 L309.31,761.18 L309.97,762.23 L310.64,763.30 L311.31,764.40 L311.97,765.53 L312.64,766.69 L313.31,767.89 L313.97,769.11 L314.64,770.37 L315.30,771.65 L315.97,772.97 L316.64,774.33 L317.30,775.71 L317.97,777.14 L318.63,778.59 L319.30,780.09 L319.97,781.62 L320.63,783.18 L321.30,784.78 L321.97,786.40 L322.63,788.06 L323.30,789.75 L323.96,791.46 L324.63,793.19 L325.30,794.95 L325.96,796.73 L326.63,798.53 L327.30,800.34 L327.96,802.17 L328.63,804.02 L329.29,805.88 L329.96,807.75 L330.63,809.63 L331.29,811.51 L331.96,813.41 L332.62,815.30 L333.29,817.20 L333.96,819.11 L334.62,821.01 L335.29,822.91 L335.96,824.81 L336.62,826.70 L337.29,828.58 L337.95,830.46 L338.62,832.34 L339.29,834.20 L339.95,836.05 L340.62,837.89 L341.29,839.72 L341.95,841.53 L342.62,843.33 L343.28,845.12 L343.95,846.89 L344.62,848.64 L345.28,850.37 L345.95,852.07 L346.61,853.74 L347.28,855.37 L347.95,856.97 L348.61,858.53 L349.28,860.04 L349.95,861.50 L350.61,862.90 L351.28,864.24 L351.94,865.52 L352.61,866.71 L353.28,867.76 L353.94,868.71 L354.61,869.59 L355.27,870.38 L355.94,871.07 L356.61,871.67 L357.27,872.16 L357.94,872.54 L358.61,872.80 L359.27,873.00 L359.94,873.08 L360.60,873.04 L361.27,872.87 L361.94,872.59 L362.60,872.18 L363.27,871.65 L363.94,871.00 L364.60,870.25 L365.27,869.33 L365.93,868.28 L366.60,867.13 L367.27,865.88 L367.93,864.53 L368.60,863.09 L369.26,861.56 L369.93,859.96 L370.60,858.28 L371.26,856.53 L371.93,854.72 L372.60,852.84 L373.26,850.89 L373.93,848.90 L374.59,846.84 L375.26,844.74 L375.93,842.59 L376.59,840.39 L377.26,838.15 L377.93,835.87 L378.59,833.55 L379.26,831.20 L379.92,828.83 L380.59,826.42 L381.26,823.99 L381.92,821.54 L382.59,819.07 L383.25,816.59 L383.92,814.10 L384.59,811.61 L385.25,809.11 L385.92,806.61 L386.59,804.12 L387.25,801.64 L387.92,799.17 L388.58,796.72 L389.25,794.25 L389.92,791.79 L390.58,789.35 L391.25,786.95 L391.91,784.57 L392.58,782.24 L393.25,779.93 L393.91,777.67 L394.58,775.46 L395.25,773.29 L395.91,771.17 L396.58,769.10 L397.24,767.09 L397.91,765.14 L398.58,763.25 L399.24,761.43 L399.91,759.67 L400.58,757.97 L401.24,756.33 L401.91,754.75 L402.57,753.22 L403.24,751.74 L403.91,750.32 L404.57,748.94 L405.24,747.61 L405.90,746.32 L406.57,745.08 L407.24,743.87 L407.90,742.70 L408.57,741.57 L409.24,740.47 L409.90,739.40 L410.57,738.36 L411.23,737.35 L411.90,736.37 L412.57,735.41 L413.23,734.48 L413.90,733.58 L414.57,732.70 L415.23,731.85 L415.90,731.03 L416.56,730.23 L417.23,729.46 L417.90,728.71 L418.56,727.98 L419.23,727.28 L419.89,726.60 L420.56,725.94 L421.23,725.31 L421.89,724.70 L422.56,724.10 L423.23,723.54 L423.89,722.99 L424.56,722.46 L425.22,721.95 L425.89,721.47 L426.56,721.00 L427.22,720.55 L427.89,720.12 L428.56,719.70 L429.22,719.31 L429.89,718.93 L430.55,718.57 L431.22,718.23 L431.89,717.90 L432.55,717.59 L433.22,717.29 L433.88,717.01 L434.55,716.75 L435.22,716.50 L435.88,716.26 L436.55,716.03 L437.22,715.82 L437.88,715.63 L438.55,715.44 L439.21,715.27 L439.88,715.10 L440.55,714.95 L441.21,714.81 L441.88,714.69 L442.54,714.57 L443.21,714.46 L443.88,714.36 L444.54,714.27 L445.21,714.18 L445.88,714.11 L446.54,714.04 L447.21,713.98 L447.87,713.93 L448.54,713.89 L449.21,713.85 L449.87,713.82 L450.54,713.79 L451.21,713.77 L451.87,713.75 L452.54,713.73 L453.20,713.73 L453.87,713.72 L454.54,713.72 L455.20,713.72 L455.87,713.72 L456.53,713.72 L457.20,713.73 L457.87,713.74 L458.53,713.75 L459.20,713.76 L459.87,713.77 L460.53,713.77 L461.20,713.78 L461.86,713.80 L462.53,713.81 L463.20,713.82 L463.86,713.83 L464.53,713.85 L465.20,713.86 L465.86,713.88 L466.53,713.90 L467.19,713.92 L467.86,713.94 L468.53,713.96 L469.19,713.98 L469.86,714.01 L470.52,714.04 L471.19,714.07 L471.86,714.11 L472.52,714.14 L473.19,714.18 L473.86,714.23 L474.52,714.27 L475.19,714.32 L475.85,714.37 L476.52,714.43 L477.19,714.48 L477.85,714.55 L478.52,714.61 L479.19,714.68 L479.85,714.76 L480.52,714.83 L481.18,714.91 L481.85,715.00 L482.52,715.09 L483.18,715.19 L483.85,715.29 L484.51,715.39 L485.18,715.50 L485.85,715.62 L486.51,715.74 L487.18,715.86 L487.85,715.99 L488.51,716.13 L489.18,716.27 L489.84,716.42 L490.51,716.58 L491.18,716.74 L491.84,716.90 L492.51,717.08 L493.17,717.25 L493.84,717.44 L494.51,717.63 L495.17,717.83 L495.84,718.04 L496.51,718.25 L497.17,718.47 L497.84,718.70 L498.50,718.94 L499.17,719.18 L499.84,719.43 L500.50,719.69 L501.17,719.96 L501.84,720.24 L502.50,720.52 L503.17,720.52 L503.83,720.52 L504.50,720.52" stroke="#2342e6" stroke-dasharray="6 4.5"/>
<path d="M228.70,720.52 L229.37,720.52 L230.03,720.52 L230.70,720.52 L231.36,720.52 L232.03,720.55 L232.70,720.64 L233.36,720.72 L234.03,720.81 L234.70,720.91 L235.36,721.01 L236.03,721.11 L236.69,721.22 L237.36,721.33 L238.03,721.44 L238.69,721.56 L239.36,721.69 L240.03,721.81 L240.69,721.95 L241.36,722.08 L242.02,722.22 L242.69,722.37 L243.36,722.52 L244.02,722.67 L244.69,722.83 L245.35,722.99 L246.02,723.15 L246.69,723.32 L247.35,723.50 L248.02,723.68 L248.69,723.86 L249.35,724.04 L250.02,724.24 L250.68,724.43 L251.35,724.63 L252.02,724.83 L252.68,725.04 L253.35,725.25 L254.01,725.47 L254.68,725.69 L255.35,725.92 L256.01,726.15 L256.68,726.38 L257.35,726.62 L258.01,726.86 L258.68,727.11 L259.34,727.36 L260.01,727.61 L260.68,727.87 L261.34,728.14 L262.01,728.40 L262.68,728.68 L263.34,728.95 L264.01,729.23 L264.67,729.52 L265.34,729.81 L266.01,730.10 L266.67,730.40 L267.34,730.70 L268.00,731.01 L268.67,731.32 L269.34,731.64 L270.00,731.96 L270.67,732.28 L271.34,732.61 L272.00,732.94 L272.67,733.28 L273.33,733.62 L274.00,733.97 L274.67,734.32 L275.33,734.68 L276.00,735.04 L276.67,735.40 L277.33,735.77 L278.00,736.14 L278.66,736.52 L279.33,736.90 L280.00,737.29 L280.66,737.68 L281.33,738.07 L281.99,738.47 L282.66,738.88 L283.33,739.28 L283.99,739.70 L284.66,740.12 L285.33,740.54 L285.99,740.97 L286.66,741.41 L287.32,741.85 L287.99,742.31 L288.66,742.77 L289.32,743.24 L289.99,743.73 L290.66,744.22 L291.32,744.73 L291.99,745.25 L292.65,745.79 L293.32,746.34 L293.99,746.90 L294.65,747.49 L295.32,748.09 L295.98,748.70 L296.65,749.34 L297.32,749.99 L297.98,750.66 L298.65,751.36 L299.32,752.07 L299.98,752.81 L300.65,753.57 L301.31,754.35 L301.98,755.16 L302.65,755.99 L303.31,756.85 L303.98,757.74 L304.64,758.65 L305.31,759.59 L305.98,760.56 L306.64,761.56 L307.31,762.59 L307.98,763.64 L308.64,764.74 L309.31,765.86 L309.97,767.02 L310.64,768.21 L311.31,769.43 L311.97,770.69 L312.64,771.99 L313.31,773.32 L313.97,774.69 L314.64,776.10 L315.30,777.55 L315.97,779.04 L316.64,780.57 L317.30,782.14 L317.97,783.75 L318.63,785.41 L319.30,787.10 L319.97,788.84 L320.63,790.62 L321.30,792.43 L321.97,794.27 L322.63,796.15 L323.30,798.07 L323.96,800.01 L324.63,801.97 L325.30,803.97 L325.96,805.98 L326.63,808.02 L327.30,810.08 L327.96,812.16 L328.63,814.25 L329.29,816.35 L329.96,818.47 L330.63,820.60 L331.29,822.74 L331.96,824.89 L332.62,827.04 L333.29,829.19 L333.96,831.35 L334.62,833.50 L335.29,835.66 L335.96,837.81 L336.62,839.95 L337.29,842.09 L337.95,844.22 L338.62,846.34 L339.29,848.45 L339.95,850.54 L340.62,852.62 L341.29,854.69 L341.95,856.73 L342.62,858.76 L343.28,860.76 L343.95,862.74 L344.62,864.69 L345.28,866.60 L345.95,868.48 L346.61,870.31 L347.28,872.11 L347.95,873.86 L348.61,875.56 L349.28,877.20 L349.95,878.79 L350.61,880.31 L351.28,881.76 L351.94,883.14 L352.61,884.44 L353.28,885.59 L353.94,886.65 L354.61,887.63 L355.27,888.51 L355.94,889.30 L356.61,889.99 L357.27,890.58 L357.94,891.06 L358.61,891.42 L359.27,891.71 L359.94,891.88 L360.60,891.94 L361.27,891.87 L361.94,891.68 L362.60,891.37 L363.27,890.93 L363.94,890.38 L364.60,889.72 L365.27,888.90 L365.93,887.96 L366.60,886.91 L367.27,885.75 L367.93,884.49 L368.60,883.13 L369.26,881.68 L369.93,880.15 L370.60,878.53 L371.26,876.82 L371.93,875.04 L372.60,873.19 L373.26,871.26 L373.93,869.26 L374.59,867.20 L375.26,865.07 L375.93,862.89 L376.59,860.64 L377.26,858.34 L377.93,855.98 L378.59,853.58 L379.26,851.13 L379.92,848.63 L380.59,846.09 L381.26,843.51 L381.92,840.90 L382.59,838.25 L383.25,835.57 L383.92,832.87 L384.59,830.14 L385.25,827.39 L385.92,824.63 L386.59,821.85 L387.25,819.06 L387.92,816.26 L388.58,813.47 L389.25,810.64 L389.92,807.82 L390.58,805.02 L391.25,802.23 L391.91,799.48 L392.58,796.76 L393.25,794.08 L393.91,791.44 L394.58,788.85 L395.25,786.32 L395.91,783.85 L396.58,781.45 L397.24,779.12 L397.91,776.87 L398.58,774.70 L399.24,772.62 L399.91,770.62 L400.58,768.70 L401.24,766.86 L401.91,765.09 L402.57,763.39 L403.24,761.75 L403.91,760.18 L404.57,758.67 L405.24,757.21 L405.90,755.81 L406.57,754.45 L407.24,753.14 L407.90,751.87 L408.57,750.64 L409.24,749.45 L409.90,748.28 L410.57,747.15 L411.23,746.04 L411.90,744.96 L412.57,743.91 L413.23,742.88 L413.90,741.88 L414.57,740.91 L415.23,739.97 L415.90,739.04 L416.56,738.15 L417.23,737.28 L417.90,736.43 L418.56,735.61 L419.23,734.81 L419.89,734.04 L420.56,733.28 L421.23,732.55 L421.89,731.85 L422.56,731.16 L423.23,730.50 L423.89,729.86 L424.56,729.24 L425.22,728.64 L425.89,728.06 L426.56,727.50 L427.22,726.96 L427.89,726.44 L428.56,725.94 L429.22,725.45 L429.89,724.99 L430.55,724.54 L431.22,724.11 L431.89,723.70 L432.55,723.30 L433.22,722.92 L433.88,722.56 L434.55,722.21 L435.22,721.88 L435.88,721.56 L436.55,721.26 L437.22,720.97 L437.88,720.69 L438.55,720.43 L439.21,720.18 L439.88,719.95 L440.55,719.73 L441.21,719.52 L441.88,719.32 L442.54,719.13 L443.21,718.96 L443.88,718.79 L444.54,718.64 L445.21,718.49 L445.88,718.36 L446.54,718.23 L447.21,718.12 L447.87,718.01 L448.54,717.91 L449.21,717.82 L449.87,717.73 L450.54,717.66 L451.21,717.59 L451.87,717.53 L452.54,717.47 L453.20,717.42 L453.87,717.37 L454.54,717.33 L455.20,717.30 L455.87,717.27 L456.53,717.24 L457.20,717.22 L457.87,717.20 L458.53,717.18 L459.20,717.17 L459.87,717.15 L460.53,717.15 L461.20,717.14 L461.86,717.14 L462.53,717.13 L463.20,717.14 L463.86,717.14 L464.53,717.15 L465.20,717.16 L465.86,717.17 L466.53,717.18 L467.19,717.20 L467.86,717.22 L468.53,717.25 L469.19,717.27 L469.86,717.30 L470.52,717.34 L471.19,717.37 L471.86,717.41 L472.52,717.45 L473.19,717.50 L473.86,717.54 L474.52,717.60 L475.19,717.65 L475.85,717.71 L476.52,717.77 L477.19,717.83 L477.85,717.90 L478.52,717.97 L479.19,718.04 L479.85,718.12 L480.52,718.20 L481.18,718.29 L481.85,718.37 L482.52,718.47 L483.18,718.56 L483.85,718.66 L484.51,718.76 L485.18,718.87 L485.85,718.98 L486.51,719.09 L487.18,719.20 L487.85,719.33 L488.51,719.45 L489.18,719.58 L489.84,719.71 L490.51,719.84 L491.18,719.98 L491.84,720.13 L492.51,720.28 L493.17,720.43 L493.84,720.58 L494.51,720.74 L495.17,720.91 L495.84,721.07 L496.51,721.24 L497.17,721.42 L497.84,721.60 L498.50,721.79 L499.17,721.97 L499.84,722.17 L500.50,722.36 L501.17,722.57 L501.84,722.77 L502.50,722.92 L503.17,722.92 L503.83,722.92 L504.50,722.92" stroke="#55e64c" stroke-dasharray="6 4.5"/>
<path d="M228.70,722.46 L229.37,722.46 L230.03,722.46 L230.70,722.46 L231.36,722.46 L232.03,722.54 L232.70,722.70 L233.36,722.85 L234.03,723.01 L234.70,723.16 L235.36,723.31 L236.03,723.47 L236.69,723.62 L237.36,723.77 L238.03,723.92 L238.69,724.07 L239.36,724.22 L240.03,724.37 L240.69,724.53 L241.36,724.68 L242.02,724.83 L242.69,724.98 L243.36,725.14 L244.02,725.29 L244.69,725.45 L245.35,725.61 L246.02,725.77 L246.69,725.93 L247.35,726.09 L248.02,726.26 L248.69,726.43 L249.35,726.59 L250.02,726.77 L250.68,726.94 L251.35,727.12 L252.02,727.30 L252.68,727.48 L253.35,727.66 L254.01,727.85 L254.68,728.04 L255.35,728.24 L256.01,728.43 L256.68,728.64 L257.35,728.84 L258.01,729.05 L258.68,729.27 L259.34,729.49 L260.01,729.71 L260.68,729.94 L261.34,730.17 L262.01,730.40 L262.68,730.65 L263.34,730.89 L264.01,731.14 L264.67,731.40 L265.34,731.67 L266.01,731.93 L266.67,732.21 L267.34,732.49 L268.00,732.78 L268.67,733.07 L269.34,733.37 L270.00,733.67 L270.67,733.99 L271.34,734.30 L272.00,734.63 L272.67,734.96 L273.33,735.30 L274.00,735.65 L274.67,736.01 L275.33,736.37 L276.00,736.74 L276.67,737.12 L277.33,737.50 L278.00,737.90 L278.66,738.30 L279.33,738.71 L280.00,739.13 L280.66,739.56 L281.33,740.00 L281.99,740.44 L282.66,740.90 L283.33,741.37 L283.99,741.84 L284.66,742.32 L285.33,742.82 L285.99,743.32 L286.66,743.84 L287.32,744.37 L287.99,744.91 L288.66,745.47 L289.32,746.04 L289.99,746.62 L290.66,747.22 L291.32,747.83 L291.99,748.46 L292.65,749.11 L293.32,749.77 L293.99,750.45 L294.65,751.15 L295.32,751.86 L295.98,752.60 L296.65,753.35 L297.32,754.13 L297.98,754.93 L298.65,755.74 L299.32,756.58 L299.98,757.45 L300.65,758.33 L301.31,759.24 L301.98,760.17 L302.65,761.13 L303.31,762.11 L303.98,763.12 L304.64,764.16 L305.31,765.22 L305.98,766.31 L306.64,767.42 L307.31,768.57 L307.98,769.74 L308.64,770.95 L309.31,772.18 L309.97,773.45 L310.64,774.74 L311.31,776.07 L311.97,777.43 L312.64,778.82 L313.31,780.25 L313.97,781.71 L314.64,783.20 L315.30,784.73 L315.97,786.30 L316.64,787.90 L317.30,789.54 L317.97,791.21 L318.63,792.92 L319.30,794.67 L319.97,796.46 L320.63,798.28 L321.30,800.14 L321.97,802.04 L322.63,803.97 L323.30,805.95 L323.96,807.96 L324.63,810.01 L325.30,812.10 L325.96,814.23 L326.63,816.39 L327.30,818.60 L327.96,820.84 L328.63,823.12 L329.29,825.45 L329.96,827.81 L330.63,830.21 L331.29,832.63 L331.96,835.09 L332.62,837.56 L333.29,840.06 L333.96,842.56 L334.62,845.07 L335.29,847.59 L335.96,850.10 L336.62,852.61 L337.29,855.11 L337.95,857.59 L338.62,860.06 L339.29,862.49 L339.95,864.91 L340.62,867.29 L341.29,869.64 L341.95,871.95 L342.62,874.23 L343.28,876.47 L343.95,878.67 L344.62,880.82 L345.28,882.93 L345.95,884.99 L346.61,887.00 L347.28,888.95 L347.95,890.85 L348.61,892.69 L349.28,894.47 L349.95,896.18 L350.61,897.82 L351.28,899.38 L351.94,900.87 L352.61,902.27 L353.28,903.59 L353.94,904.78 L354.61,905.84 L355.27,906.80 L355.94,907.67 L356.61,908.44 L357.27,909.10 L357.94,909.65 L358.61,910.08 L359.27,910.40 L359.94,910.60 L360.60,910.71 L361.27,910.70 L361.94,910.56 L362.60,910.29 L363.27,909.89 L363.94,909.36 L364.60,908.70 L365.27,907.91 L365.93,906.97 L366.60,905.84 L367.27,904.54 L367.93,903.06 L368.60,901.40 L369.26,899.54 L369.93,897.48 L370.60,895.21 L371.26,892.74 L371.93,890.11 L372.60,887.39 L373.26,884.62 L373.93,881.84 L374.59,879.12 L375.26,876.49 L375.93,873.95 L376.59,871.50 L377.26,869.12 L377.93,866.80 L378.59,864.52 L379.26,862.29 L379.92,860.08 L380.59,857.87 L381.26,855.67 L381.92,853.46 L382.59,851.22 L383.25,848.95 L383.92,846.64 L384.59,844.26 L385.25,841.81 L385.92,839.28 L386.59,836.66 L387.25,833.94 L387.92,831.13 L388.58,828.26 L389.25,825.34 L389.92,822.38 L390.58,819.39 L391.25,816.42 L391.91,813.48 L392.58,810.60 L393.25,807.79 L393.91,805.04 L394.58,802.37 L395.25,799.77 L395.91,797.24 L396.58,794.77 L397.24,792.36 L397.91,790.02 L398.58,787.75 L399.24,785.53 L399.91,783.37 L400.58,781.28 L401.24,779.24 L401.91,777.25 L402.57,775.32 L403.24,773.45 L403.91,771.63 L404.57,769.85 L405.24,768.13 L405.90,766.46 L406.57,764.83 L407.24,763.25 L407.90,761.71 L408.57,760.22 L409.24,758.77 L409.90,757.36 L410.57,755.99 L411.23,754.66 L411.90,753.37 L412.57,752.11 L413.23,750.88 L413.90,749.69 L414.57,748.53 L415.23,747.41 L415.90,746.31 L416.56,745.24 L417.23,744.20 L417.90,743.20 L418.56,742.22 L419.23,741.27 L419.89,740.35 L420.56,739.45 L421.23,738.58 L421.89,737.74 L422.56,736.93 L423.23,736.14 L423.89,735.38 L424.56,734.64 L425.22,733.93 L425.89,733.24 L426.56,732.58 L427.22,731.93 L427.89,731.32 L428.56,730.72 L429.22,730.15 L429.89,729.59 L430.55,729.06 L431.22,728.55 L431.89,728.06 L432.55,727.59 L433.22,727.14 L433.88,726.71 L434.55,726.29 L435.22,725.90 L435.88,725.52 L436.55,725.16 L437.22,724.82 L437.88,724.49 L438.55,724.18 L439.21,723.88 L439.88,723.60 L440.55,723.34 L441.21,723.08 L441.88,722.85 L442.54,722.62 L443.21,722.41 L443.88,722.21 L444.54,722.02 L445.21,721.85 L445.88,721.68 L446.54,721.53 L447.21,721.39 L447.87,721.25 L448.54,721.13 L449.21,721.01 L449.87,720.91 L450.54,720.81 L451.21,720.72 L451.87,720.63 L452.54,720.56 L453.20,720.49 L453.87,720.42 L454.54,720.36 L455.20,720.31 L455.87,720.26 L456.53,720.22 L457.20,720.18 L457.87,720.14 L458.53,720.10 L459.20,720.07 L459.87,720.04 L460.53,720.01 L461.20,719.99 L461.86,719.97 L462.53,719.95 L463.20,719.93 L463.86,719.91 L464.53,719.90 L465.20,719.89 L465.86,719.88 L466.53,719.88 L467.19,719.88 L467.86,719.88 L468.53,719.88 L469.19,719.89 L469.86,719.90 L470.52,719.91 L471.19,719.93 L471.86,719.95 L472.52,719.97 L473.19,720.00 L473.86,720.03 L474.52,720.06 L475.19,720.10 L475.85,720.13 L476.52,720.18 L477.19,720.22 L477.85,720.27 L478.52,720.33 L479.19,720.39 L479.85,720.45 L480.52,720.51 L481.18,720.58 L481.85,720.65 L482.52,720.73 L483.18,720.81 L483.85,720.90 L484.51,720.98 L485.18,721.08 L485.85,721.17 L486.51,721.28 L487.18,721.38 L487.85,721.49 L488.51,721.61 L489.18,721.72 L489.84,721.85 L490.51,721.97 L491.18,722.11 L491.84,722.24 L492.51,722.39 L493.17,722.53 L493.84,722.68 L494.51,722.84 L495.17,723.00 L495.84,723.17 L496.51,723.34 L497.17,723.51 L497.84,723.69 L498.50,723.88 L499.17,724.07 L499.84,724.27 L500.50,724.47 L501.17,724.67 L501.84,724.89 L502.50,725.04 L503.17,725.04 L503.83,725.04 L504.50,725.04" stroke="#f22a14" stroke-dasharray="6 4.5"/>
</g>
<rect x="231.80" y="707.75" width="270.00" height="209.95" fill="none" stroke="#262626" stroke-width="1.85"/>
<path d="M231.80,737.74h3.80M501.80,737.74h-3.80M231.80,767.74h3.80M501.80,767.74h-3.80M231.80,797.73h3.80M501.80,797.73h-3.80M231.80,827.72h3.80M501.80,827.72h-3.80M231.80,857.71h3.80M501.80,857.71h-3.80M231.80,887.71h3.80M501.80,887.71h-3.80M299.30,917.70v-3.80M299.30,707.75v3.80M366.80,917.70v-3.80M366.80,707.75v3.80M434.30,917.70v-3.80M434.30,707.75v3.80" stroke="#262626" stroke-width="1.8" fill="none"/>
<g font-family='"Liberation Sans", sans-serif' font-size="14.0" fill="#262626">
<text x="226.80" y="743.44" text-anchor="end">-0.05</text>
<text x="226.80" y="773.44" text-anchor="end">-0.1</text>
<text x="226.80" y="803.43" text-anchor="end">-0.15</text>
<text x="226.80" y="833.42" text-anchor="end">-0.2</text>
<text x="226.80" y="863.41" text-anchor="end">-0.25</text>
<text x="226.80" y="893.41" text-anchor="end">-0.3</text>
<text x="226.80" y="923.40" text-anchor="end">-0.35</text>
<text x="231.80" y="936.30" text-anchor="middle">-2</text>
<text x="299.30" y="936.30" text-anchor="middle">-1</text>
<text x="366.80" y="936.30" text-anchor="middle">0</text>
<text x="434.30" y="936.30" text-anchor="middle">1</text>
<text x="501.80" y="936.30" text-anchor="middle">2</text>
<text transform="translate(190.90,810.23) rotate(-90)" text-anchor="middle" font-style="italic">Sk</text>
</g>
<text x="367.30" y="953.70" text-anchor="middle" font-family='"Liberation Serif", serif' font-style="italic" font-size="13.5" fill="#262626">ξ</text>
<rect x="241.80" y="851.80" width="68.45" height="57.35" fill="#fff" stroke="#262626" stroke-width="1.8"/>
<path d="M244.10,861.70H269.80" stroke="#2342e6" stroke-width="1.7"/>
<text x="275.40" y="866.20" font-family='"Liberation Sans", sans-serif' font-size="10" fill="#000"><tspan font-style="italic">K</tspan> = 0.3</text>
<path d="M244.10,880.10H269.80" stroke="#55e64c" stroke-width="1.7"/>
<text x="272.10" y="884.60" font-family='"Liberation Sans", sans-serif' font-size="10" fill="#000"><tspan font-style="italic">K</tspan> = 0.7</text>
<path d="M244.10,897.80H269.80" stroke="#f22a14" stroke-width="1.7"/>
<text x="272.10" y="902.30" font-family='"Liberation Sans", sans-serif' font-size="10" fill="#000"><tspan font-style="italic">K</tspan> = 1.1</text>
<text x="408.50" y="884.60" font-family='"Liberation Sans", sans-serif' font-size="10.2" letter-spacing="0.1" fill="#000">__Fe<tspan font-size="7.8" dy="5.2">3</tspan><tspan dy="-5.2">O</tspan><tspan font-size="7.8" dy="5.2">4</tspan><tspan dy="-5.2"></tspan></text>
<text x="408.50" y="903.30" font-family='"Liberation Sans", sans-serif' font-size="10.2" letter-spacing="0.1" fill="#000">---Fe<tspan font-size="7.8" dy="5.2">3</tspan><tspan dy="-5.2">O</tspan><tspan font-size="7.8" dy="5.2">4</tspan><tspan dy="-5.2">-MWCNT</tspan></text>
<text x="364.30" y="1005.70" text-anchor="middle" font-family='"Liberation Serif", serif' font-size="20" fill="#000">(e)</text>
</svg>
</body></html>
